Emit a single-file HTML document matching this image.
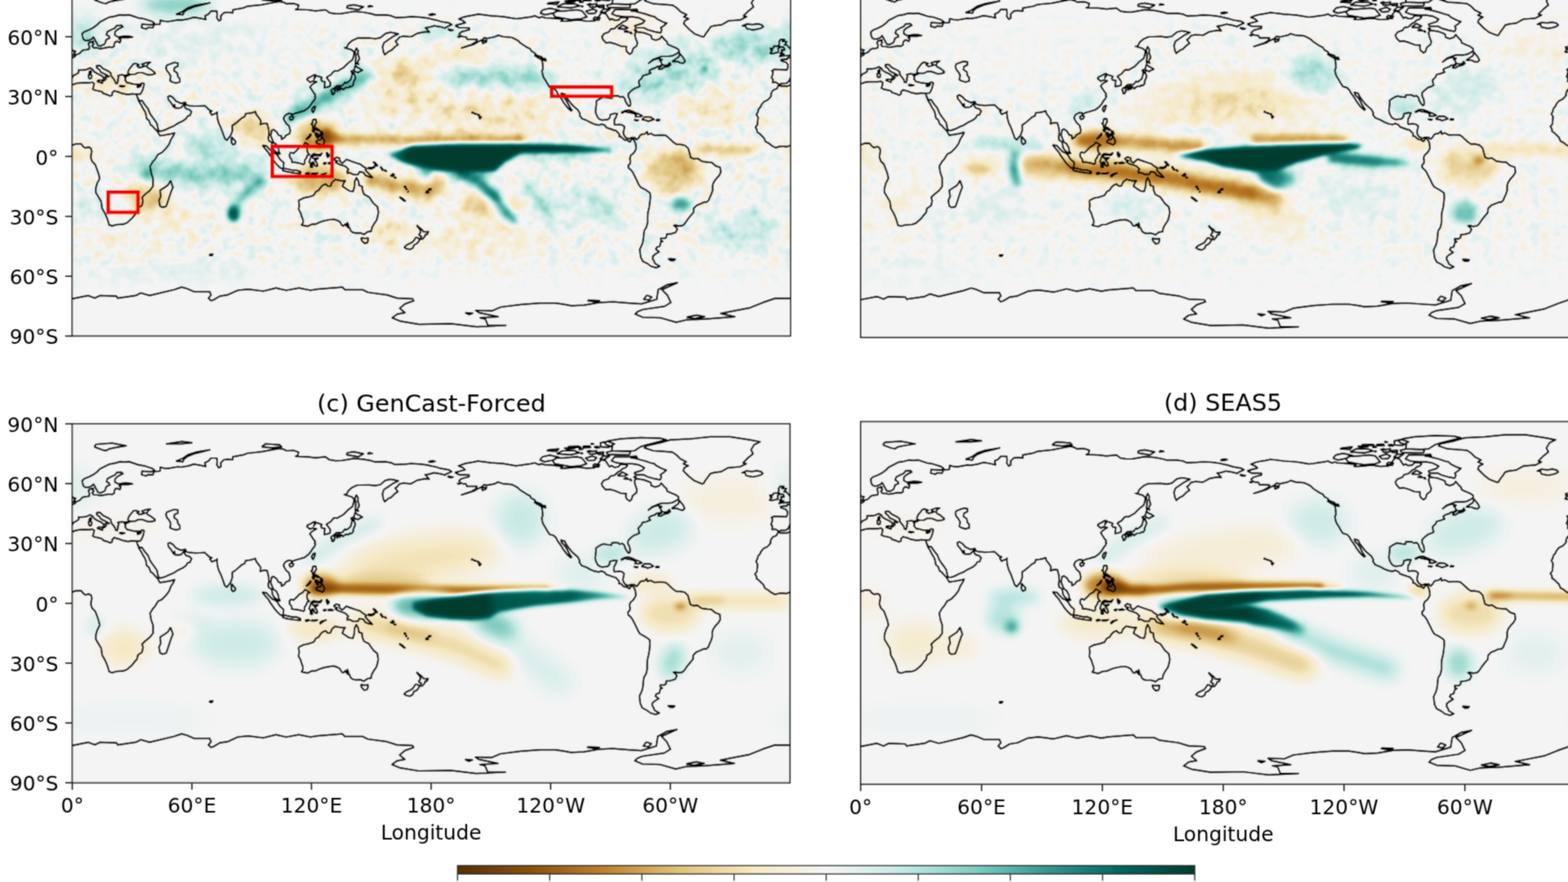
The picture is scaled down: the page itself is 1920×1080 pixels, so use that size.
<!DOCTYPE html>
<html><head><meta charset="utf-8"><style>
html,body{margin:0;padding:0;background:#fff;width:1920px;height:1080px;overflow:hidden}
svg{display:block;font-family:"DejaVu Sans","Liberation Sans",sans-serif;font-size:24.8px;fill:#000}
</style></head><body><div id="w">
<svg width="1920" height="1080" viewBox="0 0 1920 1080">
<defs><filter id="cm" x="0" y="0" width="1" height="1" color-interpolation-filters="sRGB"><feComponentTransfer><feFuncR type="table" tableValues="0.3294 0.5490 0.7490 0.8745 0.9647 0.9608 0.7804 0.5020 0.2078 0.0039 0.0000"/><feFuncG type="table" tableValues="0.1882 0.3176 0.5059 0.7608 0.9098 0.9608 0.9176 0.8039 0.5922 0.4000 0.2353"/><feFuncB type="table" tableValues="0.0196 0.0392 0.1765 0.4902 0.7647 0.9608 0.8980 0.7569 0.5608 0.3686 0.1882"/></feComponentTransfer></filter><filter id="nga" x="0" y="0" width="1" height="1" color-interpolation-filters="sRGB"><feTurbulence type="fractalNoise" baseFrequency="0.07" numOctaves="2" seed="7" result="t"/><feColorMatrix in="t" type="matrix" values="1.2 0 0 0 -0.1 1.2 0 0 0 -0.1 1.2 0 0 0 -0.1 0 0 0 0 0.2"/></filter><filter id="ngb" x="0" y="0" width="1" height="1" color-interpolation-filters="sRGB"><feTurbulence type="fractalNoise" baseFrequency="0.07" numOctaves="2" seed="11" result="t"/><feColorMatrix in="t" type="matrix" values="1.2 0 0 0 -0.1 1.2 0 0 0 -0.1 1.2 0 0 0 -0.1 0 0 0 0 0.12"/></filter><filter id="soft" filterUnits="userSpaceOnUse" x="0" y="0" width="1920" height="1080"><feConvolveMatrix order="3" kernelMatrix="1 2 1 2 8 2 1 2 1" divisor="20" edgeMode="duplicate"/></filter><filter id="b2" filterUnits="userSpaceOnUse" x="-50" y="-150" width="2100" height="1400" color-interpolation-filters="sRGB"><feGaussianBlur stdDeviation="2"/></filter><filter id="b2_5" filterUnits="userSpaceOnUse" x="-50" y="-150" width="2100" height="1400" color-interpolation-filters="sRGB"><feGaussianBlur stdDeviation="2.5"/></filter><filter id="b3" filterUnits="userSpaceOnUse" x="-50" y="-150" width="2100" height="1400" color-interpolation-filters="sRGB"><feGaussianBlur stdDeviation="3"/></filter><filter id="b3_5" filterUnits="userSpaceOnUse" x="-50" y="-150" width="2100" height="1400" color-interpolation-filters="sRGB"><feGaussianBlur stdDeviation="3.5"/></filter><filter id="b4" filterUnits="userSpaceOnUse" x="-50" y="-150" width="2100" height="1400" color-interpolation-filters="sRGB"><feGaussianBlur stdDeviation="4"/></filter><filter id="b5" filterUnits="userSpaceOnUse" x="-50" y="-150" width="2100" height="1400" color-interpolation-filters="sRGB"><feGaussianBlur stdDeviation="5"/></filter><filter id="b6" filterUnits="userSpaceOnUse" x="-50" y="-150" width="2100" height="1400" color-interpolation-filters="sRGB"><feGaussianBlur stdDeviation="6"/></filter><filter id="b7" filterUnits="userSpaceOnUse" x="-50" y="-150" width="2100" height="1400" color-interpolation-filters="sRGB"><feGaussianBlur stdDeviation="7"/></filter><filter id="b8" filterUnits="userSpaceOnUse" x="-50" y="-150" width="2100" height="1400" color-interpolation-filters="sRGB"><feGaussianBlur stdDeviation="8"/></filter><filter id="b9" filterUnits="userSpaceOnUse" x="-50" y="-150" width="2100" height="1400" color-interpolation-filters="sRGB"><feGaussianBlur stdDeviation="9"/></filter><filter id="b10" filterUnits="userSpaceOnUse" x="-50" y="-150" width="2100" height="1400" color-interpolation-filters="sRGB"><feGaussianBlur stdDeviation="10"/></filter><filter id="b12" filterUnits="userSpaceOnUse" x="-50" y="-150" width="2100" height="1400" color-interpolation-filters="sRGB"><feGaussianBlur stdDeviation="12"/></filter><filter id="b14" filterUnits="userSpaceOnUse" x="-50" y="-150" width="2100" height="1400" color-interpolation-filters="sRGB"><feGaussianBlur stdDeviation="14"/></filter><filter id="b15" filterUnits="userSpaceOnUse" x="-50" y="-150" width="2100" height="1400" color-interpolation-filters="sRGB"><feGaussianBlur stdDeviation="15"/></filter><filter id="b20" filterUnits="userSpaceOnUse" x="-50" y="-150" width="2100" height="1400" color-interpolation-filters="sRGB"><feGaussianBlur stdDeviation="20"/></filter></defs>
<rect width="1920" height="1080" fill="#fff"/>
<g filter="url(#soft)">
<clipPath id="clipa"><rect x="88.4" y="-28.3" width="879.5" height="439.7"/></clipPath>
<g clip-path="url(#clipa)">
<rect x="88.4" y="-28.3" width="879.5" height="439.7" fill="#f4f4f4"/>
<g filter="url(#cm)"><rect x="88.4" y="-28.3" width="879.5" height="439.7" fill="#808080"/><g filter="url(#b15)"><ellipse cx="235" cy="49.9" rx="97.7" ry="24.4" fill="#fff" fill-opacity="0.08"/></g><g filter="url(#b10)"><ellipse cx="100.6" cy="252.7" rx="19.5" ry="19.5" fill="#fff" fill-opacity="0.15"/><ellipse cx="980.1" cy="252.7" rx="19.5" ry="19.5" fill="#fff" fill-opacity="0.15"/><ellipse cx="210.6" cy="330.9" rx="109.9" ry="9.8" fill="#fff" fill-opacity="0.12"/><ellipse cx="1090" cy="330.9" rx="109.9" ry="9.8" fill="#fff" fill-opacity="0.12"/></g><g filter="url(#b12)"><ellipse cx="589.2" cy="294.2" rx="73.3" ry="24.4" fill="#000" fill-opacity="0.15"/><ellipse cx="161.7" cy="301.5" rx="61.1" ry="14.7" fill="#000" fill-opacity="0.10"/><ellipse cx="1041.2" cy="301.5" rx="61.1" ry="14.7" fill="#000" fill-opacity="0.10"/></g><g filter="url(#b14)"><ellipse cx="491.5" cy="106.1" rx="44" ry="36.6" fill="#000" fill-opacity="0.22"/><ellipse cx="601.4" cy="137.9" rx="85.5" ry="24.4" fill="#000" fill-opacity="0.25"/></g><g filter="url(#b10)"><ellipse cx="870.2" cy="130.5" rx="44" ry="19.5" fill="#000" fill-opacity="0.20"/><ellipse cx="772.4" cy="32.8" rx="36.6" ry="14.7" fill="#000" fill-opacity="0.12"/><ellipse cx="821.3" cy="89" rx="61.1" ry="29.3" fill="#fff" fill-opacity="0.30" transform="rotate(-15 821.3 89)"/></g><g filter="url(#b8)"><ellipse cx="39.5" cy="57.2" rx="44" ry="19.5" fill="#fff" fill-opacity="0.35"/><ellipse cx="919" cy="57.2" rx="44" ry="19.5" fill="#fff" fill-opacity="0.35"/></g><g filter="url(#b10)"><ellipse cx="100.6" cy="45" rx="24.4" ry="24.4" fill="#fff" fill-opacity="0.25"/><ellipse cx="980.1" cy="45" rx="24.4" ry="24.4" fill="#fff" fill-opacity="0.25"/><ellipse cx="27.3" cy="277.1" rx="44" ry="29.3" fill="#fff" fill-opacity="0.22"/><ellipse cx="906.8" cy="277.1" rx="44" ry="29.3" fill="#fff" fill-opacity="0.22"/><ellipse cx="210.6" cy="264.9" rx="34.2" ry="17.1" fill="#000" fill-opacity="0.15"/><ellipse cx="479.3" cy="289.3" rx="24.4" ry="17.1" fill="#000" fill-opacity="0.25"/></g><g filter="url(#b12)"><ellipse cx="699.1" cy="252.7" rx="61.1" ry="24.4" fill="#fff" fill-opacity="0.12"/></g><g filter="url(#b6)"><ellipse cx="557.5" cy="206.3" rx="48.9" ry="14.7" fill="#fff" fill-opacity="0.62"/></g><g filter="url(#b5)"><ellipse cx="674.7" cy="189.2" rx="44" ry="7.3" fill="#fff" fill-opacity="0.35"/></g><mask id="nma" maskUnits="userSpaceOnUse" x="88.4" y="-28.3" width="879.5" height="439.7"><rect x="-11.6" y="30.4" width="1079.5" height="302.9" fill="#fff" filter="url(#b20)"/><g filter="url(#b20)" fill="#000" fill-opacity="0.55"><ellipse cx="296.1" cy="64.6" rx="109.9" ry="29.3"/><ellipse cx="149.5" cy="137.9" rx="44" ry="19.5"/><ellipse cx="711.4" cy="57.2" rx="48.9" ry="24.4"/><ellipse cx="821.3" cy="15.7" rx="48.9" ry="14.7"/></g></mask><rect x="88.4" y="-28.3" width="879.5" height="439.7" filter="url(#nga)" mask="url(#nma)"/><g filter="url(#b8)"><ellipse cx="215.4" cy="5.9" rx="44" ry="9.8" fill="#fff" fill-opacity="0.45"/><ellipse cx="142.1" cy="103.7" rx="34.2" ry="12.2" fill="#000" fill-opacity="0.18"/><ellipse cx="1021.6" cy="103.7" rx="34.2" ry="12.2" fill="#000" fill-opacity="0.18"/></g><g filter="url(#b10)"><polyline points="357.1,142.7 386.4,125.6 418.2,108.5 447.5,93.9" fill="none" stroke="#fff" stroke-opacity="0.15" stroke-width="34.2" stroke-linecap="round" stroke-linejoin="round"/></g><g filter="url(#b5)"><polyline points="357.1,142.7 386.4,125.6 418.2,108.5 447.5,93.9" fill="none" stroke="#fff" stroke-opacity="0.45" stroke-width="14.7" stroke-linecap="round" stroke-linejoin="round"/></g><g filter="url(#b8)"><ellipse cx="493.9" cy="91.4" rx="19.5" ry="12.2" fill="#000" fill-opacity="0.20"/><ellipse cx="308.3" cy="157.4" rx="29.3" ry="17.1" fill="#000" fill-opacity="0.30"/><ellipse cx="259.4" cy="179.4" rx="36.6" ry="17.1" fill="#fff" fill-opacity="0.25"/><ellipse cx="100.6" cy="186.7" rx="19.5" ry="12.2" fill="#000" fill-opacity="0.15"/><ellipse cx="980.1" cy="186.7" rx="19.5" ry="12.2" fill="#000" fill-opacity="0.15"/><polyline points="552.6,93.9 601.4,93.9 662.5,98.8" fill="none" stroke="#fff" stroke-opacity="0.35" stroke-width="24.4" stroke-linecap="round" stroke-linejoin="round"/></g><g filter="url(#b6)"><ellipse cx="540.4" cy="40.1" rx="29.3" ry="7.3" fill="#fff" fill-opacity="0.20"/></g><g filter="url(#b8)"><ellipse cx="564.8" cy="69.4" rx="34.2" ry="12.2" fill="#000" fill-opacity="0.20"/></g><g filter="url(#b2)"><ellipse cx="862.8" cy="84.1" rx="3.7" ry="3.7" fill="#fff" fill-opacity="0.50"/></g><g filter="url(#b4)"><polyline points="857.9,181.8 919,184.3" fill="none" stroke="#000" stroke-opacity="0.45" stroke-width="9.8" stroke-linecap="round" stroke-linejoin="round"/></g><g filter="url(#b8)"><polyline points="173.9,206.3 235,216 308.3,211.1" fill="none" stroke="#fff" stroke-opacity="0.40" stroke-width="24.4" stroke-linecap="round" stroke-linejoin="round"/></g><g filter="url(#b4)"><ellipse cx="181.2" cy="218.5" rx="7.3" ry="9.8" fill="#fff" fill-opacity="0.45"/></g><g filter="url(#b7)"><ellipse cx="178.8" cy="240.5" rx="24.4" ry="19.5" fill="#000" fill-opacity="0.35"/></g><g filter="url(#b5)"><polyline points="320.5,220.9 296.1,240.5 283.8,260" fill="none" stroke="#fff" stroke-opacity="0.50" stroke-width="12.2" stroke-linecap="round" stroke-linejoin="round"/></g><g filter="url(#b3)"><ellipse cx="286.3" cy="262.4" rx="7.3" ry="9.8" fill="#fff" fill-opacity="0.85"/></g><g filter="url(#b7)"><ellipse cx="393.8" cy="220.9" rx="36.6" ry="17.1" fill="#000" fill-opacity="0.45"/></g><g filter="url(#b6)"><polyline points="454.9,220.9 491.5,228.2 528.1,235.6" fill="none" stroke="#000" stroke-opacity="0.50" stroke-width="19.5" stroke-linecap="round" stroke-linejoin="round"/></g><g filter="url(#b7)"><ellipse cx="826.2" cy="208.7" rx="34.2" ry="26.9" fill="#000" fill-opacity="0.35"/></g><g filter="url(#b5)"><ellipse cx="833.5" cy="203.8" rx="14.7" ry="12.2" fill="#000" fill-opacity="0.15"/></g><g filter="url(#b4)"><ellipse cx="833.5" cy="250.2" rx="12.2" ry="9.8" fill="#fff" fill-opacity="0.55"/></g><g filter="url(#b6)"><ellipse cx="894.6" cy="260" rx="19.5" ry="9.8" fill="#000" fill-opacity="0.15"/></g><g filter="url(#b5)"><ellipse cx="537.9" cy="220.9" rx="12.2" ry="12.2" fill="#000" fill-opacity="0.40"/></g><g filter="url(#b6)"><ellipse cx="581.9" cy="252.7" rx="19.5" ry="14.7" fill="#000" fill-opacity="0.35"/><ellipse cx="630.7" cy="250.2" rx="14.7" ry="9.8" fill="#000" fill-opacity="0.25"/><polyline points="645.4,228.2 674.7,264.9" fill="none" stroke="#fff" stroke-opacity="0.35" stroke-width="12.2" stroke-linecap="round" stroke-linejoin="round"/><polyline points="723.6,240.5 752.9,269.8" fill="none" stroke="#fff" stroke-opacity="0.30" stroke-width="12.2" stroke-linecap="round" stroke-linejoin="round"/><ellipse cx="388.9" cy="167.2" rx="26.9" ry="19.5" fill="#000" fill-opacity="0.50"/></g><g filter="url(#b3)"><ellipse cx="398.7" cy="167.2" rx="7.3" ry="8.6" fill="#000" fill-opacity="0.65"/></g><g filter="url(#b4)"><polyline points="406,169.6 479.3,170.8 577,170.8 638.1,170.8" fill="none" stroke="#000" stroke-opacity="0.55" stroke-width="11" stroke-linecap="round" stroke-linejoin="round"/><polyline points="564.8,208.7 589.2,225.8 606.3,240.5" fill="none" stroke="#fff" stroke-opacity="0.70" stroke-width="12.2" stroke-linecap="round" stroke-linejoin="round"/><polyline points="603.9,238 616.1,255.1 628.3,269.8" fill="none" stroke="#fff" stroke-opacity="0.75" stroke-width="9.8" stroke-linecap="round" stroke-linejoin="round"/></g><g filter="url(#b2_5)"><linearGradient id="g1" gradientUnits="userSpaceOnUse" x1="474.4" y1="0" x2="750.5" y2="0"><stop offset="0.000" stop-color="#fff" stop-opacity="0.60"/><stop offset="0.088" stop-color="#fff" stop-opacity="1.00"/><stop offset="0.814" stop-color="#fff" stop-opacity="1.00"/><stop offset="0.920" stop-color="#fff" stop-opacity="0.85"/><stop offset="1.000" stop-color="#fff" stop-opacity="0.50"/></linearGradient><polygon points="474.4,189.2 503.7,178.2 552.6,175.7 625.9,175.2 699.1,176.9 728.5,179.4 748,181.3 748,186.7 699.1,187.2 638.1,187.9 618.5,198.9 606.3,209.9 564.8,211.1 528.1,207.5 491.5,198.9" fill="url(#g1)"/></g></g>
<path d="M74.0 104.1L71.8 108.5L67.6 110.2L65.7 112.4L64.5 115.9L64.9 117.3L62.7 120.3L60.3 122.5L56.2 124.4L53.0 128.1L51.8 131.0L49.3 133.7L48.6 136.9L46.9 140.3L48.8 144.0L48.1 150.1L48.1 152.5L45.6 155.7L47.4 158.6L47.6 161.6L50.5 163.5L53.0 165.9L55.9 168.9L57.9 173.3L61.5 175.2L65.2 178.2L70.1 180.9L76.2 179.1L81.1 179.1L83.5 179.9L88.4 177.9L92.1 176.5L94.5 176.0L99.4 176.2L101.8 179.4L104.3 181.1L106.7 180.6L109.2 180.1L111.6 182.1L112.3 185.5L111.6 189.2L111.1 192.8L112.8 197.7L116.5 201.4L118.4 206.3L120.6 212.4L122.1 218.5L118.9 224.6L117.2 230.7L117.2 235.6L120.2 240.5L123.8 246.6L125.0 255.1L128.7 261.5L131.2 267.3L133.1 273.4L133.6 275.4L137.3 276.6L142.1 275.2L150.7 274.7L155.6 272.7L161.7 267.3L164.9 263.2L167.8 260.0L168.8 255.1L173.9 251.5L175.1 245.3L173.9 241.7L177.6 238.0L183.7 233.1L187.3 228.2L187.3 218.5L184.9 211.1L184.4 207.5L183.7 203.8L187.3 197.7L189.8 195.3L193.4 189.2L198.3 186.7L203.2 181.8L206.9 176.9L209.3 170.8L212.5 165.9L213.7 162.8L208.1 164.2L200.8 165.5L195.9 166.2L194.2 163.5L193.0 161.1L189.8 157.9L186.1 153.7L184.4 153.0L182.5 147.6L179.5 145.2L178.8 140.3L177.6 136.6L175.1 133.0L172.7 128.1L170.2 124.4L168.0 118.6L167.3 115.4L161.7 114.9L156.8 115.9L149.5 114.4L145.8 112.9L139.7 111.2L137.3 113.7L137.3 116.4L134.8 117.6L131.2 115.9L126.3 114.4L125.0 112.4L120.2 111.2L115.8 110.2L113.6 109.0L114.5 106.1L115.3 102.4L112.8 100.7L109.2 101.5L104.3 101.2L98.2 101.5L93.3 102.2L88.4 103.9L84.7 105.6L81.1 105.4L76.2 105.4L74.0 104.1M953.5 104.1L951.3 108.5L947.1 110.2L945.2 112.4L943.9 115.9L944.4 117.3L942.2 120.3L939.8 122.5L935.6 124.4L932.5 128.1L931.2 131.0L928.8 133.7L928.1 136.9L926.3 140.3L928.3 144.0L927.6 150.1L927.6 152.5L925.1 155.7L926.8 158.6L927.1 161.6L930.0 163.5L932.5 165.9L935.4 168.9L937.3 173.3L941.0 175.2L944.7 178.2L949.6 180.9L955.7 179.1L960.6 179.1L963.0 179.9L967.9 177.9L971.5 176.5L974.0 176.0L978.9 176.2L981.3 179.4L983.8 181.1L986.2 180.6L988.6 180.1L991.1 182.1L991.8 185.5L991.1 189.2L990.6 192.8L992.3 197.7L996.0 201.4L997.9 206.3L1000.1 212.4L1001.6 218.5L998.4 224.6L996.7 230.7L996.7 235.6L999.6 240.5L1003.3 246.6L1004.5 255.1L1008.2 261.5L1010.6 267.3L1012.6 273.4L1013.1 275.4L1016.7 276.6L1021.6 275.2L1030.2 274.7L1035.1 272.7L1041.2 267.3L1044.3 263.2L1047.3 260.0L1048.3 255.1L1053.4 251.5L1054.6 245.3L1053.4 241.7L1057.0 238.0L1063.2 233.1L1066.8 228.2L1066.8 218.5L1064.4 211.1L1063.9 207.5L1063.2 203.8L1066.8 197.7L1069.3 195.3L1072.9 189.2L1077.8 186.7L1082.7 181.8L1086.4 176.9L1088.8 170.8L1092.0 165.9L1093.2 162.8L1087.6 164.2L1080.3 165.5L1075.4 166.2L1073.7 163.5L1072.4 161.1L1069.3 157.9L1065.6 153.7L1063.9 153.0L1061.9 147.6L1059.0 145.2L1058.3 140.3L1057.0 136.6L1054.6 133.0L1052.2 128.1L1049.7 124.4L1047.5 118.6L1046.8 115.4L1041.2 114.9L1036.3 115.9L1029.0 114.4L1025.3 112.9L1019.2 111.2L1016.7 113.7L1016.7 116.4L1014.3 117.6L1010.6 115.9L1005.7 114.4L1004.5 112.4L999.6 111.2L995.2 110.2L993.0 109.0L994.0 106.1L994.8 102.4L992.3 100.7L988.6 101.5L983.8 101.2L977.7 101.5L972.8 102.2L967.9 103.9L964.2 105.6L960.6 105.4L955.7 105.4L953.5 104.1M167.3 115.4L172.0 115.1L173.7 112.2L175.1 108.8L176.1 104.9L176.3 102.4L173.9 101.7L171.5 103.2L167.8 103.4L162.9 102.9L159.2 101.9L155.6 101.2L153.1 98.0L153.9 95.1L152.4 93.9L155.6 93.1L159.2 91.4L156.8 91.4L153.1 92.4L149.5 91.7L146.3 92.2L144.3 92.7L145.3 95.1L144.1 97.5L144.6 98.8L143.4 102.4L141.4 101.7L140.9 99.3L139.9 98.0L139.0 96.3L137.3 94.6L135.8 91.7L135.8 89.5L133.6 87.8L129.9 85.8L126.3 84.1L123.8 81.7L121.9 80.2L118.4 80.7L118.4 82.9L121.6 85.3L123.8 88.5L127.5 90.2L129.9 91.4L133.6 93.6L132.4 94.1L130.2 92.7L128.7 94.4L130.2 96.3L127.7 98.8L126.5 98.3L127.0 95.1L125.0 93.1L122.6 91.7L118.9 90.0L115.3 87.8L113.6 85.1L110.4 83.1L107.9 84.4L105.5 85.3L100.6 85.8L96.2 85.8L96.2 89.0L93.3 90.9L90.4 92.2L88.4 95.1L87.2 98.0L86.4 99.7L83.5 101.9L77.4 102.2L74.7 103.7L73.0 102.2L70.3 100.7L66.7 101.2L66.9 97.1L65.2 95.1L66.7 91.4L66.9 87.8L65.7 86.6L68.9 84.8L74.5 85.1L79.8 85.3L84.0 85.6L85.2 82.9L85.5 79.2L83.0 76.3L77.4 74.6L76.9 73.1L81.1 72.4L84.5 72.6L85.2 70.4L88.9 70.7L92.1 69.0L93.0 67.0L95.7 66.3L98.2 64.8L100.1 62.4L102.6 61.1L105.5 60.9L109.2 60.2L109.4 57.2L108.2 53.6L109.2 52.1L114.3 50.6L113.6 52.8L114.8 54.1L112.8 56.3L114.8 58.7L118.9 58.7L122.6 59.7L127.5 58.9L133.6 57.7L137.0 58.2L139.9 56.5L139.9 53.6L141.2 51.4L143.4 50.6L146.8 52.3L148.0 49.2L145.8 47.7L148.7 46.2L156.8 46.2L162.2 45.3L159.2 44.5L153.1 44.0L144.6 45.3L140.7 43.1L140.9 38.9L144.6 35.7L150.5 32.8L148.5 30.9L142.9 31.3L140.4 34.5L136.0 36.5L131.4 38.9L130.4 42.6L133.6 44.5L134.3 46.5L129.9 48.7L129.0 52.3L127.5 54.3L123.3 56.3L119.9 55.8L119.2 54.1L117.2 50.6L115.8 47.5L114.3 45.5L112.8 47.5L107.9 49.7L104.5 49.7L102.1 48.0L101.1 45.0L100.6 41.4L103.1 38.9L109.2 36.5L114.1 34.0L118.9 30.4L122.6 26.7L127.5 24.3L133.6 21.1L139.7 20.1L147.0 18.1L151.9 18.6L158.0 18.1L164.1 20.1L169.0 21.8L176.3 23.0L186.1 26.2L189.1 28.4L186.1 30.4L181.2 30.1L173.9 29.6L173.4 34.0L178.8 35.5L181.2 33.8L187.3 34.0L188.6 30.1L195.9 29.6L196.4 24.7L200.8 26.0L205.7 26.5L217.9 24.3L221.5 24.7L230.1 23.3L237.4 21.1L244.8 22.3L252.1 24.0L250.9 19.4L255.7 16.9L258.2 13.7L265.5 13.7L266.0 18.1L265.5 21.8L268.0 25.5L270.4 24.3L270.4 19.4L274.1 15.7L279.0 15.0L285.1 15.7L285.1 12.0L298.5 9.6L302.2 7.9L308.3 7.2L320.5 5.9L332.7 3.5L342.5 1.8L347.4 2.8L351.0 4.7L359.6 4.2L365.7 6.4L364.5 10.8L362.0 11.6L376.7 12.0L386.4 13.3L398.7 12.0L403.5 15.7L410.9 16.9L418.2 16.7L428.0 15.0L432.9 14.0L445.1 15.0L454.9 16.9L459.7 18.4L472.0 18.1L479.3 19.4L484.2 21.6L496.4 21.1L503.7 20.3L515.9 21.1L524.5 22.3L528.1 23.3L533.0 24.3L540.4 26.5L550.1 28.2L553.3 30.1L550.1 31.6L546.5 33.3L545.2 34.5L539.1 32.8L531.8 31.6L525.7 33.3L520.8 34.0L524.5 37.7L525.7 39.4L520.8 38.9L511.0 40.9L503.7 45.0L493.9 44.3L489.1 45.5L486.6 48.7L484.2 50.4L487.3 54.8L483.7 57.2L479.3 61.6L475.6 63.3L471.2 67.0L469.5 63.3L468.5 57.2L470.2 52.3L475.6 48.7L481.7 44.5L487.8 41.6L481.7 40.1L477.8 39.6L472.0 41.1L465.8 46.2L459.7 47.5L452.4 46.5L442.6 46.7L437.7 46.7L431.6 49.4L426.8 53.6L424.3 58.5L421.9 58.5L430.4 60.9L433.8 63.8L432.9 69.4L431.6 73.1L426.8 76.8L420.6 82.9L413.3 87.0L409.7 86.8L407.7 88.3L405.3 91.4L401.1 93.9L399.9 95.1L402.3 98.0L404.5 101.2L404.3 105.4L401.1 106.6L397.2 107.3L397.4 103.7L397.9 100.0L394.5 99.5L393.0 97.5L394.3 95.1L392.1 94.1L387.2 92.7L384.5 96.8L385.2 94.4L386.4 91.7L384.0 91.9L380.3 94.1L376.7 95.8L375.9 97.5L378.9 100.0L379.4 100.7L383.3 99.3L387.7 100.2L384.7 101.9L381.6 104.1L379.6 106.6L382.5 111.0L384.0 113.4L386.2 115.9L385.5 117.8L386.4 118.8L385.2 122.0L383.3 124.2L380.8 128.1L377.9 131.7L373.0 135.4L367.4 137.1L362.0 138.6L357.9 140.3L357.6 142.0L356.6 139.1L353.5 138.8L349.8 140.8L348.6 142.0L347.1 145.2L348.3 147.6L350.5 151.3L354.0 154.2L355.4 159.8L354.7 163.5L349.8 165.9L348.6 168.4L344.9 170.6L344.4 166.4L341.3 165.7L338.8 161.6L334.9 158.6L332.7 159.8L331.5 165.9L333.4 170.8L335.1 174.7L338.1 176.5L341.0 181.8L341.3 185.2L343.0 188.2L341.3 188.4L337.6 185.7L335.9 184.3L333.7 180.6L333.4 178.2L332.7 174.5L329.0 172.1L328.5 168.4L329.3 164.7L329.0 158.6L327.1 151.3L322.9 151.0L318.8 152.5L319.3 147.6L316.8 144.0L313.9 140.3L312.7 136.6L309.5 137.9L305.8 138.6L300.9 139.1L299.7 142.7L296.1 144.5L291.2 148.8L287.5 151.8L284.3 153.7L284.6 159.8L283.4 163.5L282.1 166.4L277.7 171.8L275.3 169.6L272.8 162.8L270.4 156.2L268.0 151.3L266.3 145.2L265.8 139.3L266.0 137.4L264.8 138.6L259.4 140.8L257.0 137.1L259.4 135.9L255.7 134.2L252.6 131.0L250.9 129.5L244.8 129.8L238.6 130.0L232.5 129.5L228.4 128.6L226.9 125.4L221.5 126.6L215.4 123.7L211.8 119.5L208.1 117.3L205.7 118.3L206.2 122.0L209.3 125.6L211.0 128.1L212.5 131.0L213.7 128.1L214.5 132.2L217.9 132.5L221.5 132.0L224.0 129.3L225.9 127.3L226.2 131.0L228.1 133.2L232.0 134.2L234.5 136.9L232.5 141.5L230.1 141.8L227.7 145.4L224.0 148.1L217.9 151.0L213.0 154.2L208.1 156.2L203.2 158.6L198.3 160.3L194.7 160.6L193.4 157.4L192.7 153.7L192.2 151.3L189.8 147.6L186.1 142.7L183.7 139.1L181.2 133.0L177.6 128.6L173.9 123.2L172.7 123.2L171.5 123.4L170.2 122.7L168.0 118.6M1046.8 115.4L1051.4 115.1L1053.1 112.2L1054.6 108.8L1055.6 104.9L1055.8 102.4L1053.4 101.7L1050.9 103.2L1047.3 103.4L1042.4 102.9L1038.7 101.9L1035.1 101.2L1032.6 98.0L1033.4 95.1L1031.9 93.9L1035.1 93.1L1038.7 91.4L1036.3 91.4L1032.6 92.4L1029.0 91.7L1025.8 92.2L1023.8 92.7L1024.8 95.1L1023.6 97.5L1024.1 98.8L1022.8 102.4L1020.9 101.7L1020.4 99.3L1019.4 98.0L1018.5 96.3L1016.7 94.6L1015.3 91.7L1015.3 89.5L1013.1 87.8L1009.4 85.8L1005.7 84.1L1003.3 81.7L1001.3 80.2L997.9 80.7L997.9 82.9L1001.1 85.3L1003.3 88.5L1007.0 90.2L1009.4 91.4L1013.1 93.6L1011.9 94.1L1009.7 92.7L1008.2 94.4L1009.7 96.3L1007.2 98.8L1006.0 98.3L1006.5 95.1L1004.5 93.1L1002.1 91.7L998.4 90.0L994.8 87.8L993.0 85.1L989.9 83.1L987.4 84.4L985.0 85.3L980.1 85.8L975.7 85.8L975.7 89.0L972.8 90.9L969.8 92.2L967.9 95.1L966.7 98.0L965.9 99.7L963.0 101.9L956.9 102.2L954.2 103.7L952.5 102.2L949.8 100.7L946.1 101.2L946.4 97.1L944.7 95.1L946.1 91.4L946.4 87.8L945.2 86.6L948.3 84.8L954.0 85.1L959.3 85.3L963.5 85.6L964.7 82.9L964.9 79.2L962.5 76.3L956.9 74.6L956.4 73.1L960.6 72.4L964.0 72.6L964.7 70.4L968.4 70.7L971.5 69.0L972.5 67.0L975.2 66.3L977.7 64.8L979.6 62.4L982.0 61.1L985.0 60.9L988.6 60.2L988.9 57.2L987.7 53.6L988.6 52.1L993.8 50.6L993.0 52.8L994.3 54.1L992.3 56.3L994.3 58.7L998.4 58.7L1002.1 59.7L1007.0 58.9L1013.1 57.7L1016.5 58.2L1019.4 56.5L1019.4 53.6L1020.6 51.4L1022.8 50.6L1026.3 52.3L1027.5 49.2L1025.3 47.7L1028.2 46.2L1036.3 46.2L1041.7 45.3L1038.7 44.5L1032.6 44.0L1024.1 45.3L1020.2 43.1L1020.4 38.9L1024.1 35.7L1029.9 32.8L1028.0 30.9L1022.4 31.3L1019.9 34.5L1015.5 36.5L1010.9 38.9L1009.9 42.6L1013.1 44.5L1013.8 46.5L1009.4 48.7L1008.4 52.3L1007.0 54.3L1002.8 56.3L999.4 55.8L998.7 54.1L996.7 50.6L995.2 47.5L993.8 45.5L992.3 47.5L987.4 49.7L984.0 49.7L981.6 48.0L980.6 45.0L980.1 41.4L982.5 38.9L988.6 36.5L993.5 34.0L998.4 30.4L1002.1 26.7L1007.0 24.3L1013.1 21.1L1019.2 20.1L1026.5 18.1L1031.4 18.6L1037.5 18.1L1043.6 20.1L1048.5 21.8L1055.8 23.0L1065.6 26.2L1068.5 28.4L1065.6 30.4L1060.7 30.1L1053.4 29.6L1052.9 34.0L1058.3 35.5L1060.7 33.8L1066.8 34.0L1068.0 30.1L1075.4 29.6L1075.9 24.7L1080.3 26.0L1085.1 26.5L1097.4 24.3L1101.0 24.7L1109.6 23.3L1116.9 21.1L1124.2 22.3L1131.6 24.0L1130.3 19.4L1135.2 16.9L1137.7 13.7L1145.0 13.7L1145.5 18.1L1145.0 21.8L1147.4 25.5L1149.9 24.3L1149.9 19.4L1153.5 15.7L1158.4 15.0L1164.5 15.7L1164.5 12.0L1178.0 9.6L1181.6 7.9L1187.8 7.2L1200.0 5.9L1212.2 3.5L1222.0 1.8L1226.8 2.8L1230.5 4.7L1239.1 4.2L1245.2 6.4L1243.9 10.8L1241.5 11.6L1256.2 12.0L1265.9 13.3L1278.1 12.0L1283.0 15.7L1290.4 16.9L1297.7 16.7L1307.5 15.0L1312.3 14.0L1324.6 15.0L1334.3 16.9L1339.2 18.4L1351.4 18.1L1358.8 19.4L1363.6 21.6L1375.9 21.1L1383.2 20.3L1395.4 21.1L1404.0 22.3L1407.6 23.3L1412.5 24.3L1419.8 26.5L1429.6 28.2L1432.8 30.1L1429.6 31.6L1425.9 33.3L1424.7 34.5L1418.6 32.8L1411.3 31.6L1405.2 33.3L1400.3 34.0L1404.0 37.7L1405.2 39.4L1400.3 38.9L1390.5 40.9L1383.2 45.0L1373.4 44.3L1368.5 45.5L1366.1 48.7L1363.6 50.4L1366.8 54.8L1363.2 57.2L1358.8 61.6L1355.1 63.3L1350.7 67.0L1349.0 63.3L1348.0 57.2L1349.7 52.3L1355.1 48.7L1361.2 44.5L1367.3 41.6L1361.2 40.1L1357.3 39.6L1351.4 41.1L1345.3 46.2L1339.2 47.5L1331.9 46.5L1322.1 46.7L1317.2 46.7L1311.1 49.4L1306.2 53.6L1303.8 58.5L1301.3 58.5L1309.9 60.9L1313.3 63.8L1312.3 69.4L1311.1 73.1L1306.2 76.8L1300.1 82.9L1292.8 87.0L1289.1 86.8L1287.2 88.3L1284.7 91.4L1280.6 93.9L1279.4 95.1L1281.8 98.0L1284.0 101.2L1283.8 105.4L1280.6 106.6L1276.7 107.3L1276.9 103.7L1277.4 100.0L1274.0 99.5L1272.5 97.5L1273.7 95.1L1271.5 94.1L1266.7 92.7L1264.0 96.8L1264.7 94.4L1265.9 91.7L1263.5 91.9L1259.8 94.1L1256.2 95.8L1255.4 97.5L1258.4 100.0L1258.8 100.7L1262.8 99.3L1267.1 100.2L1264.2 101.9L1261.0 104.1L1259.1 106.6L1262.0 111.0L1263.5 113.4L1265.7 115.9L1264.9 117.8L1265.9 118.8L1264.7 122.0L1262.8 124.2L1260.3 128.1L1257.4 131.7L1252.5 135.4L1246.9 137.1L1241.5 138.6L1237.3 140.3L1237.1 142.0L1236.1 139.1L1232.9 138.8L1229.3 140.8L1228.1 142.0L1226.6 145.2L1227.8 147.6L1230.0 151.3L1233.4 154.2L1234.9 159.8L1234.2 163.5L1229.3 165.9L1228.1 168.4L1224.4 170.6L1223.9 166.4L1220.7 165.7L1218.3 161.6L1214.4 158.6L1212.2 159.8L1211.0 165.9L1212.9 170.8L1214.6 174.7L1217.6 176.5L1220.5 181.8L1220.7 185.2L1222.4 188.2L1220.7 188.4L1217.1 185.7L1215.4 184.3L1213.2 180.6L1212.9 178.2L1212.2 174.5L1208.5 172.1L1208.0 168.4L1208.8 164.7L1208.5 158.6L1206.6 151.3L1202.4 151.0L1198.3 152.5L1198.7 147.6L1196.3 144.0L1193.4 140.3L1192.1 136.6L1189.0 137.9L1185.3 138.6L1180.4 139.1L1179.2 142.7L1175.5 144.5L1170.6 148.8L1167.0 151.8L1163.8 153.7L1164.1 159.8L1162.8 163.5L1161.6 166.4L1157.2 171.8L1154.8 169.6L1152.3 162.8L1149.9 156.2L1147.4 151.3L1145.7 145.2L1145.2 139.3L1145.5 137.4L1144.3 138.6L1138.9 140.8L1136.4 137.1L1138.9 135.9L1135.2 134.2L1132.0 131.0L1130.3 129.5L1124.2 129.8L1118.1 130.0L1112.0 129.5L1107.9 128.6L1106.4 125.4L1101.0 126.6L1094.9 123.7L1091.3 119.5L1087.6 117.3L1085.1 118.3L1085.6 122.0L1088.8 125.6L1090.5 128.1L1092.0 131.0L1093.2 128.1L1093.9 132.2L1097.4 132.5L1101.0 132.0L1103.5 129.3L1105.4 127.3L1105.7 131.0L1107.6 133.2L1111.5 134.2L1114.0 136.9L1112.0 141.5L1109.6 141.8L1107.1 145.4L1103.5 148.1L1097.4 151.0L1092.5 154.2L1087.6 156.2L1082.7 158.6L1077.8 160.3L1074.2 160.6L1072.9 157.4L1072.2 153.7L1071.7 151.3L1069.3 147.6L1065.6 142.7L1063.2 139.1L1060.7 133.0L1057.0 128.6L1053.4 123.2L1052.2 123.2L1050.9 123.4L1049.7 122.7L1047.5 118.6M159.2 91.2L156.8 89.7L156.8 87.8L158.3 84.6L161.0 81.2L163.4 78.2L166.1 77.8L170.2 79.2L167.8 80.7L170.5 82.9L173.9 82.2L177.6 80.9L175.1 80.4L173.9 78.5L180.0 76.5L184.2 76.3L181.7 77.8L180.5 79.7L179.5 81.2L181.2 83.1L184.9 85.1L189.8 89.0L189.8 90.2L186.1 91.4L181.2 91.7L176.3 89.7L174.1 89.0L169.0 89.0L165.4 90.9L159.2 91.2M208.6 78.2L213.5 76.5L217.9 77.3L217.9 80.9L213.7 82.9L213.0 86.6L217.1 89.5L217.9 93.9L220.1 96.3L220.1 100.5L215.4 101.7L210.6 100.2L208.1 98.8L209.1 93.4L206.9 89.5L204.4 86.6L203.2 82.9L204.2 80.0L208.6 78.2M74.5 69.4L78.6 68.5L84.7 68.0L89.6 67.5L91.8 66.3L90.8 65.1L92.6 62.9L89.1 62.1L88.6 60.9L87.2 58.5L84.7 56.0L83.5 54.8L81.1 54.8L82.3 53.6L84.0 51.1L81.1 50.6L78.6 50.9L81.1 48.4L76.2 48.4L74.5 51.1L75.0 53.6L73.7 56.0L76.4 57.2L76.2 58.0L79.8 57.7L80.6 59.2L81.3 60.4L81.1 61.4L77.4 61.1L77.9 62.6L78.1 64.1L75.7 65.1L78.1 65.5L80.6 66.0L78.1 66.5L76.2 67.7L74.5 69.4M954.0 69.4L958.1 68.5L964.2 68.0L969.1 67.5L971.3 66.3L970.3 65.1L972.0 62.9L968.6 62.1L968.1 60.9L966.7 58.5L964.2 56.0L963.0 54.8L960.6 54.8L961.8 53.6L963.5 51.1L960.6 50.6L958.1 50.9L960.6 48.4L955.7 48.4L954.0 51.1L954.4 53.6L953.2 56.0L955.9 57.2L955.7 58.0L959.3 57.7L960.1 59.2L960.8 60.4L960.6 61.4L956.9 61.1L957.4 62.6L957.6 64.1L955.2 65.1L957.6 65.5L960.1 66.0L957.6 66.5L955.7 67.7L954.0 69.4M953.2 64.1L953.0 61.4L952.7 59.7L954.4 58.5L953.2 56.7L950.0 56.5L947.6 56.7L946.9 58.9L943.5 59.2L943.9 61.1L945.9 61.6L943.7 64.1L943.0 65.1L944.7 65.8L948.3 65.1L952.2 64.1L953.2 64.1M914.1 35.2L912.9 31.6L909.2 31.6L914.1 29.4L921.5 30.1L927.6 29.1L932.5 30.4L934.7 32.6L932.5 34.3L927.6 35.7L922.2 36.7L916.6 35.5L914.1 35.2M118.7 99.3L120.9 98.3L126.5 98.0L125.3 100.5L125.3 101.9L123.3 101.2L119.2 99.7L118.7 99.3M108.9 96.3L108.4 91.7L110.9 90.9L112.3 92.7L111.9 95.8L110.4 96.3L108.9 96.3M109.4 90.5L109.4 88.0L111.4 86.6L111.6 88.7L110.9 90.5L109.4 90.5M145.8 105.4L148.3 104.9L152.7 105.6L149.0 106.3L145.8 105.4M167.3 106.1L169.0 105.1L172.9 104.4L171.5 106.1L169.0 107.1L167.3 106.1M283.6 167.7L286.3 170.8L288.5 173.3L288.0 176.0L285.3 177.2L283.6 175.0L283.4 172.1L283.6 167.7M208.8 220.9L211.8 229.5L210.1 233.1L207.6 240.5L204.4 250.2L203.2 252.9L198.8 253.9L195.9 252.2L194.7 245.3L196.9 240.5L195.9 233.1L200.8 230.0L205.2 227.0L206.9 224.6L208.8 220.9M408.2 108.5L412.1 105.1L414.5 104.9L419.4 104.6L422.6 100.7L423.8 101.7L426.8 100.0L429.4 97.5L430.4 94.4L431.2 90.9L433.8 90.5L434.6 92.7L435.3 94.9L434.1 98.0L432.9 100.7L432.6 103.9L430.9 105.9L429.9 106.1L428.5 105.6L427.5 107.1L423.6 107.1L422.6 107.8L420.2 109.8L418.4 107.8L415.8 107.1L412.1 107.8L408.9 108.8L408.2 108.5M430.4 90.2L431.2 87.8L429.9 87.3L433.6 85.8L434.3 82.9L435.1 80.4L437.7 82.6L441.4 84.4L443.4 85.8L443.9 86.1L439.7 88.0L438.2 89.0L434.8 87.5L432.6 89.5L430.4 90.2M405.5 110.2L407.2 108.8L408.4 108.8L410.1 110.5L409.9 113.4L408.9 114.9L407.7 115.9L406.5 114.9L406.7 112.9L405.5 111.7L405.5 110.2M412.1 111.0L413.1 108.5L415.8 107.6L417.5 108.3L416.5 110.2L414.1 110.0L413.1 111.5L412.1 111.0M435.3 79.2L435.1 75.6L435.8 71.9L435.8 67.0L434.6 63.3L436.5 58.9L438.5 62.1L438.2 65.8L440.2 71.9L437.7 76.3L439.0 78.7L436.5 77.3L435.3 79.2M384.0 130.5L386.2 130.3L385.2 134.2L383.5 137.9L382.0 135.9L381.8 133.9L384.0 130.5M354.0 144.7L355.9 147.1L358.4 146.2L359.6 143.5L358.4 142.5L355.2 143.0L354.0 144.7M383.0 146.4L385.2 146.2L386.9 146.4L387.4 150.1L385.5 153.2L385.5 156.9L387.7 156.9L391.6 159.8L388.9 159.8L385.2 157.6L383.0 156.7L383.0 154.0L381.1 151.8L382.5 151.3L383.0 146.4M386.4 174.5L388.6 171.8L391.8 171.6L394.8 167.7L397.4 173.3L396.7 176.2L394.8 177.9L391.3 176.5L386.4 174.5M392.1 161.1L394.5 161.6L395.5 164.5L393.5 163.7L392.1 161.1M392.1 163.5L393.8 164.0L394.3 166.9L392.8 166.7L392.1 163.5M386.2 162.5L388.6 163.5L387.7 165.7L386.2 165.7L386.2 162.5M388.6 165.0L390.1 165.2L389.4 169.4L387.4 167.7L388.6 165.0M391.1 164.2L391.6 165.9L389.9 168.4L390.4 166.2L391.1 164.2M374.7 171.1L377.9 168.9L380.6 165.9L380.3 164.0L378.6 166.4L376.2 169.1L374.7 171.1M382.3 158.6L385.2 159.4L384.5 161.8L383.0 161.1L382.3 158.6M321.2 177.9L326.6 178.9L329.0 181.8L333.7 186.5L336.4 187.4L340.0 190.4L342.0 194.0L343.7 196.0L347.4 199.2L346.9 205.8L343.7 206.0L340.0 202.6L336.4 198.4L333.4 194.0L330.7 190.4L329.0 187.2L325.4 183.0L321.2 177.9M345.4 208.2L347.4 206.0L352.2 207.0L358.4 208.5L363.2 208.5L368.1 210.4L367.9 212.6L360.8 211.9L353.5 210.7L348.6 209.7L345.4 208.2M354.7 187.9L356.4 186.7L359.6 187.7L363.2 184.3L366.7 180.6L370.6 178.7L373.7 174.7L375.9 176.0L379.6 178.4L376.7 179.6L375.9 183.0L376.7 186.7L378.9 189.2L376.2 190.4L375.5 192.8L373.0 196.5L373.0 200.2L371.5 201.4L368.1 200.2L364.5 199.4L361.3 198.9L357.6 198.7L357.1 195.3L354.7 192.3L354.7 187.9M380.1 205.0L380.3 200.2L378.6 198.2L380.1 194.0L380.8 191.6L381.8 189.9L384.0 188.4L387.7 189.2L391.3 189.4L394.3 187.7L392.3 190.6L388.9 190.4L385.2 190.4L382.0 191.1L383.5 194.0L386.4 193.8L389.6 193.6L387.7 195.3L385.2 196.0L387.7 198.9L388.9 202.6L387.7 203.8L385.2 202.6L384.0 198.9L382.3 198.7L382.5 205.0L380.1 205.0M408.4 194.8L412.1 192.6L415.8 193.8L416.3 197.7L419.4 199.7L424.3 195.3L430.4 197.5L435.3 199.2L441.4 201.1L444.6 203.8L448.7 206.3L447.5 208.2L450.0 211.1L453.6 214.8L456.1 217.3L452.4 216.8L447.5 214.8L445.1 211.1L440.2 210.4L438.5 213.6L432.9 213.8L428.0 211.4L425.5 212.1L425.0 209.7L426.8 207.5L423.1 203.8L418.2 202.1L414.5 200.9L410.9 198.7L413.3 197.0L410.9 196.5L408.4 194.8M391.3 216.0L393.8 213.6L399.4 212.1L396.2 213.6L392.6 216.5L391.3 216.0M381.1 212.4L385.2 212.4L388.9 211.9L386.4 213.1L381.6 213.1L381.1 212.4M373.7 212.6L376.7 211.6L379.1 212.4L375.5 213.6L373.7 212.6M401.1 199.7L406.0 198.9L407.9 200.2L402.3 200.4L401.1 199.7M400.4 186.2L401.6 188.7L402.8 189.2L400.9 190.6L403.1 190.9L401.3 192.6L400.1 190.4L399.9 187.9L400.4 186.2M396.2 199.4L399.1 199.4L398.2 200.9L396.2 200.4L396.2 199.4M450.7 205.0L453.6 205.0L456.1 205.0L458.5 203.6L460.2 201.9L458.5 205.0L454.9 206.7L451.2 206.3L450.7 205.0M456.8 198.0L459.7 199.4L462.2 202.6L461.7 203.1L458.5 200.2L456.8 198.0M466.1 203.8L469.3 208.2L468.3 208.5L466.1 205.0L466.1 203.8M478.3 214.3L481.2 215.5L480.5 215.8L478.5 215.1L478.3 214.3M480.7 212.1L482.7 214.1L482.0 214.6L480.7 213.1L480.7 212.1M482.7 216.5L484.9 217.7L484.2 218.0L482.7 217.3L482.7 216.5M470.7 207.7L473.2 209.4L472.7 209.7L470.7 208.5L470.7 207.7M495.4 227.5L496.9 228.7L496.6 229.7L495.4 229.2L495.4 227.5M496.9 230.7L498.3 231.7L497.6 232.2L496.9 230.7M499.1 234.4L500.0 234.6L499.6 235.1L499.1 234.4M489.1 240.9L492.7 242.9L496.4 246.1L494.9 246.1L490.3 242.4L489.1 240.9M521.5 234.6L523.7 234.1L524.7 235.8L522.0 236.1L521.5 234.6M524.5 231.7L527.9 231.4L526.7 232.6L524.7 232.6L524.5 231.7M587.0 142.3L589.2 143.5L587.7 145.4L586.8 144.0L587.0 142.3M577.0 137.6L581.9 139.1L584.8 140.3L586.8 141.5M585.1 140.3L586.8 140.8L585.8 141.3L585.1 140.3M581.2 138.8L582.6 139.3L581.6 139.6L581.2 138.8M577.5 137.4L578.7 137.6L578.0 138.1L577.5 137.4M256.2 311.6L260.6 311.3L259.4 313.0L257.0 312.8L256.2 311.6M818.1 316.9L822.5 316.9L826.7 317.4L825.0 319.1L821.3 319.1L818.1 316.9M365.7 245.3L366.9 244.9L371.8 242.4L377.9 241.2L384.0 239.2L387.2 234.4L390.1 233.1L392.6 229.5L395.0 227.0L398.7 225.3L401.6 228.0L404.8 227.8L406.5 223.4L407.9 221.9L410.9 219.7L413.3 220.4L418.2 221.4L422.8 221.4L420.6 224.6L419.4 228.2L423.1 230.7L428.0 233.9L432.4 234.4L434.1 228.2L434.3 222.1L436.5 217.7L439.0 222.1L439.7 227.0L443.4 228.2L443.9 233.1L445.8 238.0L451.9 241.2L454.9 245.3L457.3 249.0L462.2 253.2L463.4 260.0L462.2 266.1L461.0 269.8L457.8 274.4L455.3 279.1L454.6 283.2L450.0 283.9L445.8 287.1L442.6 285.7L440.2 285.2L435.3 285.4L431.6 284.4L429.4 282.5L428.0 278.6L425.8 278.6L426.8 276.1L425.5 272.7L424.3 276.9L423.1 274.2L420.6 276.6L418.7 275.9L416.3 271.7L413.3 270.0L409.2 268.6L403.5 269.0L396.2 270.5L391.3 272.2L386.4 274.4L381.6 274.7L376.7 277.1L371.5 276.1L369.3 275.4L371.1 273.0L371.1 269.3L369.3 264.9L368.4 261.2L365.7 256.3L366.4 251.5L365.7 245.3M441.9 291.0L446.3 292.0L450.7 291.5L450.7 294.7L449.7 297.1L446.3 298.1L443.1 294.7L441.9 291.0M510.3 275.6L512.3 277.6L514.7 279.5L517.1 281.5L518.1 283.5L522.0 284.2L524.5 283.7L523.3 286.9L520.8 287.4L520.3 289.3L517.1 293.0L514.9 292.5L515.9 289.3L513.5 288.1L513.0 287.1L514.9 284.7L514.7 281.5L511.5 277.8L510.3 275.6M510.1 290.5L512.3 291.8L514.0 293.5L512.3 296.2L510.6 298.1L506.9 300.1L505.7 303.5L502.0 305.4L497.6 304.5L495.2 302.8L497.6 300.3L500.0 299.1L504.9 296.6L507.4 293.7L508.8 291.3L510.1 290.5M557.2 31.3L562.3 34.0L563.8 34.0L569.7 34.0L574.6 34.3L574.6 36.5L569.7 37.7L565.3 38.9L562.3 41.4L563.6 43.8L567.2 45.0L570.9 45.3L572.1 48.2L580.7 48.2L584.3 48.4L583.1 51.1L577.0 54.8L570.9 56.7L565.3 58.7L569.7 57.5L574.6 56.0L580.7 54.1L585.6 51.1L590.4 48.7L592.9 46.2L597.0 47.0L601.4 46.0L606.3 45.0L610.0 43.1L616.1 45.0L623.4 45.5L627.1 46.0L632.0 48.4L634.4 49.9L636.9 52.3L640.5 54.8L645.4 58.0L649.1 59.7L650.8 62.6L655.2 65.1L656.4 67.3L661.3 69.2L664.9 71.9L667.9 71.9L668.6 74.3L663.5 73.4L664.5 78.0L664.9 84.1L663.7 87.0L664.5 91.4L665.4 94.4L668.6 99.3L670.1 102.2L673.3 107.1L678.4 108.5L681.6 111.7L682.8 114.6L684.7 117.3L688.9 123.2L689.1 124.2L693.0 129.3L694.8 131.7L699.1 135.7L700.4 134.9L698.4 132.5L696.7 129.3L694.3 124.4L691.8 120.8L688.2 117.1L687.4 114.2L691.8 115.4L693.8 119.5L696.7 123.4L700.4 128.1L702.8 130.5L707.9 134.9L710.1 139.1L709.9 141.5L712.6 145.2L718.7 147.6L723.6 150.3L728.5 152.3L733.4 153.2L737.0 152.0L740.7 153.5L742.6 156.2L746.8 157.6L751.7 159.4L754.1 159.8L755.3 161.1L757.8 163.5L758.5 164.7L758.3 167.2L760.7 167.7L762.7 169.6L764.6 171.3L767.6 171.6L771.2 173.8L772.4 172.1L773.7 169.9L776.1 171.1L777.3 173.8L777.6 174.0L778.5 176.9L779.0 181.8L777.3 185.5L775.1 188.2L772.4 190.4L771.2 194.0L772.0 197.0L771.7 200.2L769.3 202.6L769.8 205.8L772.7 208.2L774.9 211.1L777.3 216.0L779.8 220.9L781.7 225.3L784.2 229.0L790.8 232.6L794.4 235.1L796.1 236.8L796.4 241.7L795.6 249.0L794.9 253.9L793.2 261.2L793.0 266.1L793.0 272.2L791.5 278.3L789.1 282.0L788.3 286.9L787.8 293.0L787.3 295.4L786.4 299.1L783.4 305.2L783.9 310.1L784.7 315.0L787.1 319.9L793.2 323.0L796.9 326.0L803.5 327.9L807.9 326.0L805.4 324.7L801.8 322.3L800.8 319.4L799.3 317.4L799.3 313.8L802.2 311.3L807.1 308.4L803.0 305.2L804.2 302.8L807.9 301.5L809.1 296.6L811.5 295.4L809.1 294.2L809.1 291.8L814.0 291.8L815.9 290.5L816.4 286.9L821.3 286.4L827.2 284.7L829.4 280.5L827.9 278.3L825.2 276.1L827.4 275.6L831.1 276.9L836.0 276.1L838.4 273.9L842.1 268.6L845.0 264.9L849.2 260.0L849.4 255.1L853.1 251.5L857.9 249.5L862.3 247.5L865.3 247.5L867.7 245.3L869.4 241.2L870.9 238.0L872.6 233.1L872.6 227.0L873.8 223.4L876.3 219.7L880.7 214.8L882.6 211.1L881.9 205.0L876.3 203.1L871.4 198.9L866.5 198.7L859.7 197.7L854.3 194.0L849.4 194.5L845.7 192.8L844.5 187.9L842.8 181.8L838.9 178.2L833.5 176.9L828.6 176.9L825.0 174.5L821.3 171.1L817.6 167.7L815.2 165.9L811.5 165.7L806.6 165.7L801.8 165.9L796.9 163.5L793.2 164.7L792.5 161.3L789.5 164.0L785.1 164.7L783.4 166.4L782.2 168.6L780.0 170.8L778.8 170.6L777.6 168.6L772.7 168.6L770.0 170.1L766.1 168.4L763.9 165.2L763.2 162.3L764.4 157.4L764.6 155.0L761.4 152.8L757.8 152.5L752.9 153.0L752.2 151.3L752.4 146.4L754.1 144.0L755.8 139.3L752.9 138.8L747.3 140.3L746.8 144.0L744.3 146.4L737.0 147.1L733.8 145.7L732.1 144.0L730.2 140.3L729.2 136.6L729.7 131.7L730.2 128.1L730.2 123.9L733.4 121.7L736.3 120.0L739.5 118.8L744.3 119.8L749.2 120.3L749.7 117.6L752.9 117.1L756.6 117.3L759.5 119.0L762.7 118.3L765.1 120.8L765.8 123.9L768.0 127.6L770.0 130.0L771.5 129.8L772.2 126.9L771.2 122.0L769.3 118.3L769.5 114.6L772.4 111.7L776.1 108.8L777.6 108.0L781.0 106.8L783.4 105.6L782.5 101.7L782.0 100.0L783.2 98.0L784.7 96.8L785.9 95.6L787.1 92.7L792.0 91.4L795.2 90.2L796.9 89.7L795.4 87.8L795.2 86.3L798.1 84.6L803.0 82.9L804.2 81.7L807.9 80.9L810.3 80.0L810.3 80.9L807.1 82.6L806.6 84.6L810.3 84.6L812.7 82.6L818.9 81.2L821.3 79.2L820.1 76.8L817.6 79.5L814.0 80.0L810.3 78.7L809.6 75.6L807.9 74.3L810.8 73.1L805.4 71.6L800.5 73.1L796.9 75.6L794.4 77.3L799.3 73.1L804.2 71.2L810.3 69.0L818.9 69.0L823.7 68.2L828.4 65.8L831.6 63.8L831.1 60.9L827.4 58.5L822.5 56.5L817.6 54.3L816.7 51.1L814.0 48.7L810.3 44.3L807.9 47.5L803.0 49.2L798.1 47.5L797.4 43.8L794.4 42.3L788.3 40.1L778.5 38.9L777.3 42.6L778.5 47.5L780.5 52.3L779.8 56.0L775.1 59.7L773.7 64.6L771.2 66.3L767.6 63.3L766.8 60.9L767.1 57.0L760.2 56.5L752.9 53.6L746.8 51.9L741.9 52.3L738.2 48.2L737.0 45.0L739.5 41.4L745.6 38.9L748.0 35.7L752.9 34.8L755.3 32.3L757.8 30.4L760.2 29.1L762.7 26.7L766.3 25.5L768.8 23.0L766.3 21.3L760.2 21.1L757.8 24.3L752.9 25.0L749.2 23.0L746.8 24.3L744.3 20.6L741.9 16.9L737.0 15.7L734.6 18.1L732.1 21.8L728.5 25.5L718.7 26.0L708.9 24.5L702.8 25.0L699.1 25.5L691.8 26.0L686.9 26.0L689.4 23.5L682.0 23.0L674.7 22.1L667.4 21.8L663.7 20.6L660.1 21.8L655.2 19.4L650.3 20.6L643.0 21.6L638.1 22.3L632.0 23.0L623.4 21.6L616.1 20.3L608.8 19.9L601.4 19.4L594.1 18.4L585.6 17.4L579.4 18.6L572.1 19.9L567.2 21.1L561.9 23.3L567.2 25.5L569.7 27.9L566.0 28.9L562.3 29.9L557.2 31.3M760.5 138.1L765.1 135.7L770.0 134.9L773.7 136.1L778.5 138.3L783.2 140.1L786.6 142.0L783.4 143.0L778.1 143.0L779.0 141.0L776.1 138.8L771.2 137.9L768.0 137.4L765.6 136.4L762.7 138.1L760.5 138.1M785.9 146.6L790.0 143.0L796.9 143.5L800.8 146.2L798.1 147.1L793.4 148.6L790.8 147.1L785.9 146.6M776.3 146.6L781.5 147.1L780.3 147.9L777.3 147.1L776.3 146.6M803.7 146.4L807.6 146.6L807.1 147.6L803.7 147.6L803.7 146.4M822.8 75.3L831.1 69.7L832.3 65.5L837.2 71.4L838.9 75.3L836.7 77.5L832.3 76.8L829.9 75.3L822.8 75.3M654.2 67.5L657.6 68.0L662.5 69.4L666.7 73.4L663.0 72.9L658.8 70.7L654.2 67.5M590.2 50.2L596.1 49.4L595.3 51.6L591.2 53.3L590.2 50.2M861.6 45.5L856.7 43.8L850.6 41.4L844.5 36.5L840.8 32.8L837.2 29.1L838.4 25.5L843.3 23.0L837.2 20.6L840.8 18.1L833.5 14.5L828.6 9.6L823.7 6.4L811.5 5.4L800.5 4.7L789.5 1.0L792.0 -1.4L809.1 -5.1L821.3 -8.7L845.7 -9.9L870.2 -12.4L894.6 -12.4L919.0 -8.7L931.2 -6.3L923.9 -2.6L920.2 3.5L922.7 8.4L916.6 13.3L910.5 19.4L914.1 20.6L906.8 24.3L892.1 25.5L883.6 30.4L875.0 31.3L870.2 32.8L867.7 36.5L864.1 41.4L861.6 45.5M809.1 40.4L801.8 38.9L793.2 36.5L788.3 34.0L778.5 34.0L777.3 31.6L787.1 28.4L789.5 25.5L782.2 21.8L774.9 20.6L765.1 20.6L755.3 19.4L749.2 16.9L752.9 12.0L760.2 12.0L772.4 12.0L779.8 14.5L789.5 16.9L796.9 19.4L801.8 20.6L804.2 23.0L811.5 26.7L816.4 28.4L812.7 31.6L809.1 34.0L810.3 36.5L809.1 40.4M677.2 16.9L680.8 13.7L691.8 13.3L706.5 12.0L712.6 13.3L718.7 20.6L711.4 23.0L699.1 24.0L689.4 22.3L679.6 20.6L677.2 16.9M661.3 15.9L664.9 12.0L673.5 10.1L684.5 12.5L677.2 16.2L667.4 18.1L661.3 15.9M756.6 35.2L762.7 30.9L768.8 34.0L765.1 35.7L756.6 35.2M734.6 15.2L739.5 10.8L746.8 11.3L740.7 15.2L734.6 15.2M721.1 16.9L717.5 13.7L726.0 11.1L730.9 13.3L728.5 16.2L721.1 16.9M744.3 9.1L760.2 9.6L771.2 9.4L772.4 5.4L750.5 4.7L743.1 6.4L744.3 9.1M749.2 4.7L765.1 5.4L777.3 4.7L784.7 -0.2L792.0 -2.6L801.8 -5.1L816.4 -8.7L809.1 -10.7L784.7 -11.4L760.2 -9.9L745.6 -7.5L740.7 -5.1L743.1 -2.6L750.5 -0.2L749.2 4.7M682.0 8.4L699.1 9.6L710.1 7.2L704.0 4.7L689.4 4.7L682.0 8.4M722.4 8.9L729.7 8.4L730.9 4.7L721.1 5.9L722.4 8.9M669.8 4.7L682.0 5.4L684.5 2.3L672.3 3.5L669.8 4.7M115.3 -0.2L125.0 3.5L129.9 4.5L133.6 2.3L142.1 0.6L154.4 -1.4L137.3 -4.6L117.7 -3.4L115.3 -0.2M215.4 17.4L222.8 14.5L230.1 9.6L239.9 6.4L257.0 3.5L249.6 5.4L237.4 8.4L228.9 12.0L225.2 15.0L224.0 18.1L215.4 17.4M424.3 9.6L435.3 11.3L439.0 12.0L445.1 8.4L432.9 5.9L425.5 7.2L424.3 9.6M450.0 8.4L456.1 7.9L452.4 6.9L450.0 8.4M524.7 18.1L529.4 16.9L533.0 17.7L528.1 18.6L524.7 18.1M320.5 -0.2L332.7 1.0L344.9 -0.2L342.5 -2.6L325.4 -3.8L320.5 -0.2M203.2 -3.8L222.8 -3.8L235.0 -5.1L222.8 -6.8L203.2 -3.8M-791.1 365.8L-771.3 361.9L-763.5 365.1L-757.1 361.9L-736.8 362.6L-735.4 365.1L-713.4 361.9L-707.0 358.7L-696.3 361.9L-666.5 354.8L-657.2 351.6L-650.9 353.3L-641.6 357.2L-622.8 357.2L-621.0 361.1L-624.2 365.1L-621.0 368.2L-618.1 367.3L-610.3 362.6L-600.8 361.1L-588.3 355.5L-575.9 354.1L-557.0 356.5L-541.4 352.6L-528.9 355.5L-513.3 352.6L-499.1 355.5L-491.3 354.1L-460.3 351.6L-457.1 354.8L-435.4 354.8L-429.0 358.0L-405.6 361.1L-393.1 365.1L-374.3 365.8L-372.8 368.2L-383.6 372.1L-389.9 377.5L-383.6 382.9L-393.1 384.6L-399.2 389.2L-389.9 393.1L-366.5 397.1L-327.4 396.3L-296.1 400.2L-280.5 399.5L-260.2 398.5L-282.0 398.5L-285.1 390.7L-291.5 389.2L-269.5 387.8L-293.0 382.9L-296.9 380.0L-277.3 380.7L-266.3 376.0L-241.4 372.9L-218.0 371.2L-199.1 371.2L-187.7 372.9L-179.8 374.3L-164.2 373.6L-145.4 370.4L-128.3 369.7L-109.5 371.2L-93.8 372.1L-75.3 366.5L-73.6 354.8L-62.6 348.7L-50.1 346.2L-68.9 354.8L-62.6 361.1L-57.9 370.4L-65.8 375.1L-92.4 379.0L-98.5 381.4L-101.7 384.6L-92.4 388.5L-70.4 389.2L-51.6 394.6L-39.1 391.7L-15.7 390.7L20.2 387.8L3.1 383.9L15.6 381.4L39.1 376.8L54.7 370.4L70.3 365.1L88.4 365.3M88.4 365.8L108.2 361.9L116.0 365.1L122.4 361.9L142.6 362.6L144.1 365.1L166.1 361.9L172.4 358.7L183.2 361.9L213.0 354.8L222.3 351.6L228.6 353.3L237.9 357.2L256.7 357.2L258.4 361.1L255.3 365.1L258.4 368.2L261.4 367.3L269.2 362.6L278.7 361.1L291.2 355.5L303.6 354.1L322.4 356.5L338.1 352.6L350.5 355.5L366.2 352.6L380.3 355.5L388.2 354.1L419.2 351.6L422.4 354.8L444.1 354.8L450.5 358.0L473.9 361.1L486.4 365.1L505.2 365.8L506.6 368.2L495.9 372.1L489.5 377.5L495.9 382.9L486.4 384.6L480.3 389.2L489.5 393.1L513.0 397.1L552.1 396.3L583.4 400.2L599.0 399.5L619.3 398.5L597.5 398.5L594.3 390.7L588.0 389.2L610.0 387.8L586.5 382.9L582.6 380.0L602.2 380.7L613.2 376.0L638.1 372.9L661.5 371.2L680.3 371.2L691.8 372.9L699.6 374.3L715.3 373.6L734.1 370.4L751.2 369.7L770.0 371.2L785.6 372.1L804.2 366.5L805.9 354.8L816.9 348.7L829.4 346.2L810.6 354.8L816.9 361.1L821.5 370.4L813.7 375.1L787.1 379.0L781.0 381.4L777.8 384.6L787.1 388.5L809.1 389.2L827.9 394.6L840.4 391.7L863.8 390.7L899.7 387.8L882.6 383.9L895.1 381.4L918.5 376.8L934.2 370.4L949.8 365.1L967.9 365.3M967.9 365.8L987.7 361.9L995.5 365.1L1001.8 361.9L1022.1 362.6L1023.6 365.1L1045.6 361.9L1051.9 358.7L1062.7 361.9L1092.5 354.8L1101.8 351.6L1108.1 353.3L1117.4 357.2L1136.2 357.2L1137.9 361.1L1134.7 365.1L1137.9 368.2L1140.8 367.3L1148.7 362.6L1158.2 361.1L1170.6 355.5L1183.1 354.1L1201.9 356.5L1217.6 352.6L1230.0 355.5L1245.6 352.6L1259.8 355.5L1267.6 354.1L1298.7 351.6L1301.8 354.8L1323.6 354.8L1329.9 358.0L1353.4 361.1L1365.8 365.1L1384.7 365.8L1386.1 368.2L1375.4 372.1L1369.0 377.5L1375.4 382.9L1365.8 384.6L1359.7 389.2L1369.0 393.1L1392.5 397.1L1431.6 396.3L1462.8 400.2L1478.5 399.5L1498.7 398.5L1477.0 398.5L1473.8 390.7L1467.5 389.2L1489.5 387.8L1466.0 382.9L1462.1 380.0L1481.6 380.7L1492.6 376.0L1517.6 372.9L1541.0 371.2L1559.8 371.2L1571.3 372.9L1579.1 374.3L1594.8 373.6L1613.6 370.4L1630.7 369.7L1649.5 371.2L1665.1 372.1L1683.7 366.5L1685.4 354.8L1696.4 348.7L1708.8 346.2L1690.0 354.8L1696.4 361.1L1701.0 370.4L1693.2 375.1L1666.6 379.0L1660.5 381.4L1657.3 384.6L1666.6 388.5L1688.6 389.2L1707.4 394.6L1719.8 391.7L1743.3 390.7L1779.2 387.8L1762.1 383.9L1774.6 381.4L1798.0 376.8L1813.6 370.4L1829.3 365.1L1847.4 365.3M569.7 382.9L578.7 383.6L574.6 385.3L569.7 382.9M719.9 367.5L734.1 368.0L728.5 369.5L719.9 368.2L719.9 367.5M792.0 361.4L798.1 363.8L794.4 367.5L788.3 366.3L792.0 361.4M840.8 388.3L853.1 385.8L862.8 387.8L850.6 390.0L840.8 388.3M735.8 -0.2L745.6 0.6L752.9 -3.8L744.3 -6.8L735.8 -5.1L735.8 -0.2M726.0 23.5L733.4 24.7L734.6 21.8L728.5 20.8L726.0 23.5M772.4 13.3L781.0 14.0L779.8 11.3L772.4 11.8L772.4 13.3M732.1 8.9L739.5 9.4L739.5 6.4L732.1 6.9L732.1 8.9M763.9 38.9L770.0 39.4L767.6 37.7L763.9 38.9M548.2 35.7L555.0 37.0L551.3 37.7L548.2 35.7M559.9 44.5L563.6 45.0L561.9 45.5L559.9 44.5M713.8 1.0L723.6 0.6L722.4 -1.2L715.0 -0.9L713.8 1.0M729.7 1.3L734.6 0.8L732.1 -0.7L728.5 -0.2L729.7 1.3M694.3 2.8L704.0 1.8L699.1 0.8L691.8 1.5L694.3 2.8M696.7 0.6L711.4 0.3L708.9 -0.9L696.7 -0.4L696.7 0.6M723.6 -3.4L727.2 -3.6L724.8 -4.3L723.6 -3.4M711.4 8.4L713.8 7.9L712.6 7.2L711.4 8.4M708.9 3.0L713.8 2.8L711.4 2.0L708.9 3.0M771.2 40.4L773.7 41.1L772.4 39.4L771.2 40.4M776.1 37.2L779.3 37.0L777.8 36.2L776.1 37.2M718.7 5.9L724.8 5.4L722.4 4.5L718.7 5.9" fill="none" stroke="#000" stroke-width="2.2" stroke-linejoin="round"/>
</g>
<rect x="88.4" y="-28.3" width="879.5" height="439.7" fill="none" stroke="#111" stroke-width="1.6"/>
<clipPath id="clipb"><rect x="1053.9" y="-30.7" width="887.8" height="443.9"/></clipPath>
<g clip-path="url(#clipb)">
<rect x="1053.9" y="-30.7" width="887.8" height="443.9" fill="#f4f4f4"/>
<g filter="url(#cm)"><rect x="1053.9" y="-30.7" width="887.8" height="443.9" fill="#808080"/><g filter="url(#b12)"><ellipse cx="1103.2" cy="252.8" rx="29.6" ry="24.7" fill="#000" fill-opacity="0.10"/><ellipse cx="1991" cy="252.8" rx="29.6" ry="24.7" fill="#000" fill-opacity="0.10"/></g><g filter="url(#b8)"><ellipse cx="1066.2" cy="191.2" rx="19.7" ry="12.3" fill="#000" fill-opacity="0.15"/><ellipse cx="1954" cy="191.2" rx="19.7" ry="12.3" fill="#000" fill-opacity="0.15"/></g><g filter="url(#b10)"><ellipse cx="1140.2" cy="265.2" rx="24.7" ry="14.8" fill="#fff" fill-opacity="0.08"/></g><g filter="url(#b12)"><ellipse cx="1127.9" cy="334.2" rx="98.6" ry="12.3" fill="#fff" fill-opacity="0.05"/><ellipse cx="2015.6" cy="334.2" rx="98.6" ry="12.3" fill="#fff" fill-opacity="0.05"/></g><g filter="url(#b15)"><ellipse cx="1510.1" cy="127.1" rx="118.4" ry="32.1" fill="#000" fill-opacity="0.20" transform="rotate(-5 1510.1 127.1)"/></g><g filter="url(#b10)"><ellipse cx="1510.1" cy="122.2" rx="49.3" ry="17.3" fill="#000" fill-opacity="0.12"/><ellipse cx="1606.3" cy="92.6" rx="32.1" ry="24.7" fill="#fff" fill-opacity="0.34"/></g><g filter="url(#b8)"><ellipse cx="1325.2" cy="127.1" rx="24.7" ry="12.3" fill="#fff" fill-opacity="0.18" transform="rotate(-30 1325.2 127.1)"/></g><g filter="url(#b6)"><ellipse cx="1468.2" cy="161.6" rx="49.3" ry="8.6" fill="#fff" fill-opacity="0.18"/></g><g filter="url(#b12)"><ellipse cx="1793.7" cy="109.8" rx="49.3" ry="22.2" fill="#fff" fill-opacity="0.17" transform="rotate(-20 1793.7 109.8)"/></g><g filter="url(#b6)"><ellipse cx="1719.7" cy="129.5" rx="19.7" ry="12.3" fill="#fff" fill-opacity="0.24"/></g><g filter="url(#b14)"><ellipse cx="992.3" cy="55.6" rx="54.3" ry="19.7" fill="#000" fill-opacity="0.08"/><ellipse cx="1880" cy="55.6" rx="54.3" ry="19.7" fill="#000" fill-opacity="0.08"/></g><g filter="url(#b10)"><ellipse cx="1386.8" cy="252.8" rx="29.6" ry="19.7" fill="#fff" fill-opacity="0.12"/></g><g filter="url(#b14)"><ellipse cx="1658.1" cy="240.5" rx="49.3" ry="29.6" fill="#fff" fill-opacity="0.10"/></g><g filter="url(#b12)"><ellipse cx="1559.4" cy="265.2" rx="49.3" ry="19.7" fill="#000" fill-opacity="0.15" transform="rotate(20 1559.4 265.2)"/></g><mask id="nmb" maskUnits="userSpaceOnUse" x="1053.9" y="-30.7" width="887.8" height="443.9"><rect x="953.9" y="28.4" width="1087.8" height="305.8" fill="#fff" filter="url(#b20)"/><g filter="url(#b20)" fill="#000" fill-opacity="0.55"><ellipse cx="1263.5" cy="63" rx="111" ry="29.6"/><ellipse cx="1115.6" cy="136.9" rx="44.4" ry="19.7"/><ellipse cx="1682.7" cy="55.6" rx="49.3" ry="24.7"/><ellipse cx="1793.7" cy="13.6" rx="49.3" ry="14.8"/></g></mask><rect x="1053.9" y="-30.7" width="887.8" height="443.9" filter="url(#ngb)" mask="url(#nmb)"/><g filter="url(#b4)"><ellipse cx="1330.1" cy="198.6" rx="14.8" ry="9.9" fill="#fff" fill-opacity="0.25"/><ellipse cx="1399.1" cy="203.5" rx="12.3" ry="7.4" fill="#fff" fill-opacity="0.25"/></g><g filter="url(#b6)"><polyline points="1196.9,171.5 1226.5,175.2 1253.6,177.6 1275.8,183.8" fill="none" stroke="#fff" stroke-opacity="0.28" stroke-width="12.3" stroke-linecap="round" stroke-linejoin="round"/></g><g filter="url(#b4)"><polyline points="1243.8,188.7 1242.5,206 1245,223.3" fill="none" stroke="#fff" stroke-opacity="0.60" stroke-width="12.3" stroke-linecap="round" stroke-linejoin="round"/></g><g filter="url(#b3)"><ellipse cx="1242.5" cy="207.2" rx="6.2" ry="7.4" fill="#fff" fill-opacity="0.30"/></g><g filter="url(#b5)"><ellipse cx="1199.4" cy="206" rx="22.2" ry="8.6" fill="#000" fill-opacity="0.30"/></g><g filter="url(#b3)"><ellipse cx="1204.3" cy="208.5" rx="7.4" ry="4.9" fill="#000" fill-opacity="0.20"/></g><g filter="url(#b10)"><ellipse cx="1214.2" cy="255.3" rx="39.5" ry="19.7" fill="#fff" fill-opacity="0.10"/></g><g filter="url(#b7)"><polyline points="1261,202.3 1300.5,203.5 1349.8,208.5 1411.5,214.6 1473.1,225.7 1522.4,234.4 1559.4,243" fill="none" stroke="#000" stroke-opacity="0.50" stroke-width="24.7" stroke-linecap="round" stroke-linejoin="round"/></g><g filter="url(#b5)"><polyline points="1312.8,204.8 1362.2,209.7 1423.8,217.1 1478.1,227 1534.8,236.8" fill="none" stroke="#000" stroke-opacity="0.35" stroke-width="14.8" stroke-linecap="round" stroke-linejoin="round"/><polyline points="1320.2,172.7 1362.2,173.2 1399.1,175.2 1436.1,178.1 1468.2,178.9" fill="none" stroke="#000" stroke-opacity="0.52" stroke-width="17.3" stroke-linecap="round" stroke-linejoin="round"/><ellipse cx="1344.9" cy="171.5" rx="24.7" ry="14.8" fill="#000" fill-opacity="0.35"/></g><g filter="url(#b4)"><polyline points="1537.2,170 1596.4,170 1645.7,170.7" fill="none" stroke="#000" stroke-opacity="0.58" stroke-width="11.1" stroke-linecap="round" stroke-linejoin="round"/></g><g filter="url(#b8)"><ellipse cx="1798.6" cy="203.5" rx="37" ry="22.2" fill="#000" fill-opacity="0.30"/></g><g filter="url(#b3)"><ellipse cx="1811" cy="196.1" rx="7.4" ry="6.2" fill="#000" fill-opacity="0.35"/></g><g filter="url(#b5)"><polyline points="942.9,181.3 1053.9,183.8" fill="none" stroke="#000" stroke-opacity="0.30" stroke-width="9.9" stroke-linecap="round" stroke-linejoin="round"/><polyline points="1830.7,181.3 1941.7,183.8" fill="none" stroke="#000" stroke-opacity="0.30" stroke-width="9.9" stroke-linecap="round" stroke-linejoin="round"/><ellipse cx="1793.7" cy="260.2" rx="14.8" ry="14.8" fill="#fff" fill-opacity="0.45"/><ellipse cx="1734.5" cy="176.4" rx="12.3" ry="7.4" fill="#000" fill-opacity="0.25"/></g><g filter="url(#b3)"><linearGradient id="g2" gradientUnits="userSpaceOnUse" x1="1621.1" y1="0" x2="1727.1" y2="0"><stop offset="0.000" stop-color="#fff" stop-opacity="0.70"/><stop offset="0.581" stop-color="#fff" stop-opacity="0.70"/><stop offset="1.000" stop-color="#fff" stop-opacity="0.45"/></linearGradient><polygon points="1626,185 1670.4,188.7 1724.7,196.1 1727.1,203.5 1682.7,204.8 1626,199.8" fill="url(#g2)"/></g><g filter="url(#b4)"><linearGradient id="g3" gradientUnits="userSpaceOnUse" x1="1537.2" y1="0" x2="1589" y2="0"><stop offset="0.000" stop-color="#fff" stop-opacity="0.85"/><stop offset="0.429" stop-color="#fff" stop-opacity="0.75"/><stop offset="1.000" stop-color="#fff" stop-opacity="0.45"/></linearGradient><polygon points="1537.2,206 1571.8,206 1589,213.4 1581.6,228.2 1561.9,233.1 1542.2,220.8" fill="url(#g3)"/></g><g filter="url(#b2_5)"><linearGradient id="g4" gradientUnits="userSpaceOnUse" x1="1438.6" y1="0" x2="1670.4" y2="0"><stop offset="0.000" stop-color="#fff" stop-opacity="0.55"/><stop offset="0.106" stop-color="#fff" stop-opacity="0.95"/><stop offset="0.202" stop-color="#fff" stop-opacity="1.00"/><stop offset="0.894" stop-color="#fff" stop-opacity="1.00"/><stop offset="1.000" stop-color="#fff" stop-opacity="0.90"/></linearGradient><polygon points="1440.1,190 1475.6,182.6 1524.9,178.7 1600.1,176.2 1649.9,174.9 1670.4,177.4 1662.5,182.6 1625,190 1587.5,200.1 1561.9,209.9 1537.2,210.4 1500.2,205 1475.6,197.6 1448.5,193.7" fill="url(#g4)"/></g></g>
<path d="M1039.4 102.9L1037.1 107.4L1032.9 109.1L1031.0 111.3L1029.7 114.8L1030.2 116.2L1028.0 119.2L1025.5 121.4L1021.3 123.4L1018.1 127.1L1016.9 130.0L1014.4 132.8L1013.7 136.0L1012.0 139.4L1014.0 143.1L1013.2 149.3L1013.2 151.7L1010.7 154.9L1012.5 157.9L1012.7 160.9L1015.7 162.8L1018.1 165.3L1021.1 168.3L1023.1 172.7L1026.8 174.7L1030.5 177.6L1035.4 180.3L1041.6 178.6L1046.5 178.6L1049.0 179.4L1053.9 177.4L1057.6 175.9L1060.1 175.4L1065.0 175.7L1067.5 178.9L1069.9 180.6L1072.4 180.1L1074.9 179.6L1077.3 181.6L1078.1 185.0L1077.3 188.7L1076.8 192.4L1078.6 197.4L1082.3 201.1L1084.2 206.0L1086.5 212.2L1087.9 218.3L1084.7 224.5L1083.0 230.7L1083.0 235.6L1086.0 240.5L1089.7 246.7L1090.9 255.3L1094.6 261.7L1097.1 267.6L1099.0 273.8L1099.5 275.8L1103.2 277.0L1108.2 275.5L1116.8 275.0L1121.7 273.1L1127.9 267.6L1131.1 263.5L1134.0 260.2L1135.0 255.3L1140.2 251.6L1141.4 245.5L1140.2 241.8L1143.9 238.1L1150.1 233.1L1153.8 228.2L1153.8 218.3L1151.3 210.9L1150.8 207.2L1150.1 203.5L1153.8 197.4L1156.2 194.9L1159.9 188.7L1164.9 186.3L1169.8 181.3L1173.5 176.4L1176.0 170.2L1179.2 165.3L1180.4 162.1L1174.7 163.6L1167.3 164.8L1162.4 165.6L1160.7 162.8L1159.4 160.4L1156.2 157.2L1152.5 153.0L1150.8 152.2L1148.8 146.8L1145.9 144.3L1145.1 139.4L1143.9 135.7L1141.4 132.0L1139.0 127.1L1136.5 123.4L1134.3 117.5L1133.6 114.3L1127.9 113.8L1122.9 114.8L1115.6 113.3L1111.9 111.8L1105.7 110.1L1103.2 112.5L1103.2 115.2L1100.8 116.5L1097.1 114.8L1092.1 113.3L1090.9 111.3L1086.0 110.1L1081.5 109.1L1079.3 107.8L1080.3 104.9L1081.0 101.2L1078.6 99.5L1074.9 100.2L1069.9 100.0L1063.8 100.2L1058.8 100.9L1053.9 102.7L1050.2 104.4L1046.5 104.2L1041.6 104.2L1039.4 102.9M1927.1 102.9L1924.9 107.4L1920.7 109.1L1918.7 111.3L1917.5 114.8L1918.0 116.2L1915.8 119.2L1913.3 121.4L1909.1 123.4L1905.9 127.1L1904.7 130.0L1902.2 132.8L1901.5 136.0L1899.7 139.4L1901.7 143.1L1901.0 149.3L1901.0 151.7L1898.5 154.9L1900.2 157.9L1900.5 160.9L1903.4 162.8L1905.9 165.3L1908.9 168.3L1910.8 172.7L1914.5 174.7L1918.2 177.6L1923.2 180.3L1929.3 178.6L1934.3 178.6L1936.7 179.4L1941.7 177.4L1945.4 175.9L1947.8 175.4L1952.8 175.7L1955.2 178.9L1957.7 180.6L1960.2 180.1L1962.6 179.6L1965.1 181.6L1965.8 185.0L1965.1 188.7L1964.6 192.4L1966.3 197.4L1970.0 201.1L1972.0 206.0L1974.2 212.2L1975.7 218.3L1972.5 224.5L1970.8 230.7L1970.8 235.6L1973.7 240.5L1977.4 246.7L1978.7 255.3L1982.3 261.7L1984.8 267.6L1986.8 273.8L1987.3 275.8L1991.0 277.0L1995.9 275.5L2004.5 275.0L2009.5 273.1L2015.6 267.6L2018.8 263.5L2021.8 260.2L2022.8 255.3L2028.0 251.6L2029.2 245.5L2028.0 241.8L2031.7 238.1L2037.8 233.1L2041.5 228.2L2041.5 218.3L2039.1 210.9L2038.6 207.2L2037.8 203.5L2041.5 197.4L2044.0 194.9L2047.7 188.7L2052.6 186.3L2057.6 181.3L2061.3 176.4L2063.7 170.2L2066.9 165.3L2068.2 162.1L2062.5 163.6L2055.1 164.8L2050.2 165.6L2048.4 162.8L2047.2 160.4L2044.0 157.2L2040.3 153.0L2038.6 152.2L2036.6 146.8L2033.6 144.3L2032.9 139.4L2031.7 135.7L2029.2 132.0L2026.7 127.1L2024.3 123.4L2022.1 117.5L2021.3 114.3L2015.6 113.8L2010.7 114.8L2003.3 113.3L1999.6 111.8L1993.4 110.1L1991.0 112.5L1991.0 115.2L1988.5 116.5L1984.8 114.8L1979.9 113.3L1978.7 111.3L1973.7 110.1L1969.3 109.1L1967.1 107.8L1968.0 104.9L1968.8 101.2L1966.3 99.5L1962.6 100.2L1957.7 100.0L1951.5 100.2L1946.6 100.9L1941.7 102.7L1938.0 104.4L1934.3 104.2L1929.3 104.2L1927.1 102.9M1133.6 114.3L1138.2 114.0L1140.0 111.1L1141.4 107.6L1142.4 103.7L1142.7 101.2L1140.2 100.5L1137.7 101.9L1134.0 102.2L1129.1 101.7L1125.4 100.7L1121.7 100.0L1119.2 96.8L1120.0 93.8L1118.5 92.6L1121.7 91.8L1125.4 90.1L1122.9 90.1L1119.2 91.1L1115.6 90.3L1112.3 90.8L1110.4 91.3L1111.4 93.8L1110.1 96.3L1110.6 97.5L1109.4 101.2L1107.4 100.5L1106.9 98.0L1105.9 96.8L1104.9 95.0L1103.2 93.3L1101.7 90.3L1101.7 88.1L1099.5 86.4L1095.8 84.4L1092.1 82.7L1089.7 80.2L1087.7 78.8L1084.2 79.2L1084.2 81.5L1087.4 83.9L1089.7 87.1L1093.4 88.9L1095.8 90.1L1099.5 92.3L1098.3 92.8L1096.1 91.3L1094.6 93.1L1096.1 95.0L1093.6 97.5L1092.4 97.0L1092.9 93.8L1090.9 91.8L1088.4 90.3L1084.7 88.6L1081.0 86.4L1079.3 83.7L1076.1 81.7L1073.6 82.9L1071.2 83.9L1066.2 84.4L1061.8 84.4L1061.8 87.6L1058.8 89.6L1055.9 90.8L1053.9 93.8L1052.7 96.8L1051.9 98.5L1049.0 100.7L1042.8 100.9L1040.1 102.4L1038.4 100.9L1035.7 99.5L1032.0 100.0L1032.2 95.8L1030.5 93.8L1032.0 90.1L1032.2 86.4L1031.0 85.2L1034.2 83.4L1039.8 83.7L1045.3 83.9L1049.5 84.2L1050.7 81.5L1050.9 77.8L1048.5 74.8L1042.8 73.1L1042.3 71.6L1046.5 70.9L1050.0 71.1L1050.7 68.9L1054.4 69.1L1057.6 67.4L1058.6 65.4L1061.3 64.7L1063.8 63.2L1065.7 60.7L1068.2 59.5L1071.2 59.3L1074.9 58.5L1075.1 55.6L1073.9 51.9L1074.9 50.4L1080.0 48.9L1079.3 51.1L1080.5 52.4L1078.6 54.6L1080.5 57.0L1084.7 57.0L1088.4 58.0L1093.4 57.3L1099.5 56.1L1103.0 56.6L1105.9 54.8L1105.9 51.9L1107.2 49.7L1109.4 48.9L1112.8 50.6L1114.1 47.4L1111.9 46.0L1114.8 44.5L1122.9 44.5L1128.4 43.5L1125.4 42.7L1119.2 42.3L1110.6 43.5L1106.7 41.3L1106.9 37.1L1110.6 33.9L1116.5 30.9L1114.6 28.9L1108.9 29.4L1106.4 32.6L1102.0 34.6L1097.3 37.1L1096.3 40.8L1099.5 42.7L1100.3 44.7L1095.8 46.9L1094.8 50.6L1093.4 52.6L1089.2 54.6L1085.7 54.1L1085.0 52.4L1083.0 48.9L1081.5 45.7L1080.0 43.7L1078.6 45.7L1073.6 47.9L1070.2 47.9L1067.7 46.2L1066.7 43.2L1066.2 39.5L1068.7 37.1L1074.9 34.6L1079.8 32.1L1084.7 28.4L1088.4 24.7L1093.4 22.3L1099.5 19.1L1105.7 18.1L1113.1 16.1L1118.0 16.6L1124.2 16.1L1130.3 18.1L1135.3 19.8L1142.7 21.0L1152.5 24.3L1155.5 26.5L1152.5 28.4L1147.6 28.2L1140.2 27.7L1139.7 32.1L1145.1 33.6L1147.6 31.9L1153.8 32.1L1155.0 28.2L1162.4 27.7L1162.9 22.8L1167.3 24.0L1172.3 24.5L1184.6 22.3L1188.3 22.8L1196.9 21.3L1204.3 19.1L1211.7 20.3L1219.1 22.0L1217.9 17.3L1222.8 14.9L1225.3 11.7L1232.7 11.7L1233.2 16.1L1232.7 19.8L1235.2 23.5L1237.6 22.3L1237.6 17.3L1241.3 13.6L1246.2 12.9L1252.4 13.6L1252.4 9.9L1266.0 7.5L1269.7 5.8L1275.8 5.0L1288.2 3.8L1300.5 1.3L1310.4 -0.4L1315.3 0.6L1319.0 2.6L1327.6 2.1L1333.8 4.3L1332.6 8.7L1330.1 9.5L1344.9 9.9L1354.8 11.2L1367.1 9.9L1372.0 13.6L1379.4 14.9L1386.8 14.6L1396.7 12.9L1401.6 11.9L1413.9 12.9L1423.8 14.9L1428.7 16.4L1441.1 16.1L1448.5 17.3L1453.4 19.6L1465.7 19.1L1473.1 18.3L1485.5 19.1L1494.1 20.3L1497.8 21.3L1502.7 22.3L1510.1 24.5L1520.0 26.2L1523.2 28.2L1520.0 29.7L1516.3 31.4L1515.0 32.6L1508.9 30.9L1501.5 29.7L1495.3 31.4L1490.4 32.1L1494.1 35.8L1495.3 37.6L1490.4 37.1L1480.5 39.0L1473.1 43.2L1463.3 42.5L1458.3 43.7L1455.9 46.9L1453.4 48.7L1456.6 53.1L1452.9 55.6L1448.5 60.0L1444.8 61.7L1440.3 65.4L1438.6 61.7L1437.6 55.6L1439.3 50.6L1444.8 46.9L1450.9 42.7L1457.1 39.8L1450.9 38.3L1447.0 37.8L1441.1 39.3L1434.9 44.5L1428.7 45.7L1421.3 44.7L1411.5 45.0L1406.5 45.0L1400.4 47.7L1395.4 51.9L1393.0 56.8L1390.5 56.8L1399.1 59.3L1402.6 62.2L1401.6 67.9L1400.4 71.6L1395.4 75.3L1389.3 81.5L1381.9 85.7L1378.2 85.4L1376.2 86.9L1373.7 90.1L1369.5 92.6L1368.3 93.8L1370.8 96.8L1373.0 100.0L1372.8 104.2L1369.5 105.4L1365.6 106.1L1365.8 102.4L1366.3 98.7L1362.9 98.2L1361.4 96.3L1362.6 93.8L1360.4 92.8L1355.5 91.3L1352.8 95.5L1353.5 93.1L1354.8 90.3L1352.3 90.6L1348.6 92.8L1344.9 94.5L1344.1 96.3L1347.1 98.7L1347.6 99.5L1351.5 98.0L1356.0 99.0L1353.0 100.7L1349.8 102.9L1347.8 105.4L1350.8 109.8L1352.3 112.3L1354.5 114.8L1353.8 116.7L1354.8 117.7L1353.5 120.9L1351.5 123.1L1349.1 127.1L1346.1 130.8L1341.2 134.5L1335.5 136.2L1330.1 137.7L1325.9 139.4L1325.7 141.1L1324.7 138.2L1321.5 137.9L1317.8 139.9L1316.5 141.1L1315.0 144.3L1316.3 146.8L1318.5 150.5L1322.0 153.5L1323.4 159.1L1322.7 162.8L1317.8 165.3L1316.5 167.8L1312.8 170.0L1312.3 165.8L1309.1 165.1L1306.7 160.9L1302.7 157.9L1300.5 159.1L1299.3 165.3L1301.2 170.2L1303.0 174.2L1305.9 175.9L1308.9 181.3L1309.1 184.8L1310.9 187.7L1309.1 188.0L1305.4 185.3L1303.7 183.8L1301.5 180.1L1301.2 177.6L1300.5 173.9L1296.8 171.5L1296.3 167.8L1297.0 164.1L1296.8 157.9L1294.8 150.5L1290.6 150.3L1286.4 151.7L1286.9 146.8L1284.5 143.1L1281.5 139.4L1280.3 135.7L1277.1 136.9L1273.4 137.7L1268.4 138.2L1267.2 141.9L1263.5 143.6L1258.6 148.0L1254.9 151.0L1251.7 153.0L1251.9 159.1L1250.7 162.8L1249.5 165.8L1245.0 171.2L1242.5 169.0L1240.1 162.1L1237.6 155.4L1235.2 150.5L1233.4 144.3L1232.9 138.4L1233.2 136.5L1231.9 137.7L1226.5 139.9L1224.1 136.2L1226.5 135.0L1222.8 133.2L1219.6 130.0L1217.9 128.6L1211.7 128.8L1205.6 129.1L1199.4 128.6L1195.2 127.6L1193.7 124.4L1188.3 125.6L1182.1 122.6L1178.4 118.5L1174.7 116.2L1172.3 117.2L1172.8 120.9L1176.0 124.6L1177.7 127.1L1179.2 130.0L1180.4 127.1L1181.1 131.3L1184.6 131.5L1188.3 131.0L1190.8 128.3L1192.7 126.3L1193.0 130.0L1195.0 132.3L1198.9 133.2L1201.4 136.0L1199.4 140.6L1196.9 140.9L1194.5 144.6L1190.8 147.3L1184.6 150.3L1179.7 153.5L1174.7 155.4L1169.8 157.9L1164.9 159.6L1161.2 159.9L1159.9 156.7L1159.2 153.0L1158.7 150.5L1156.2 146.8L1152.5 141.9L1150.1 138.2L1147.6 132.0L1143.9 127.6L1140.2 122.2L1139.0 122.2L1137.7 122.4L1136.5 121.7L1134.3 117.5M2021.3 114.3L2026.0 114.0L2027.7 111.1L2029.2 107.6L2030.2 103.7L2030.4 101.2L2028.0 100.5L2025.5 101.9L2021.8 102.2L2016.9 101.7L2013.2 100.7L2009.5 100.0L2007.0 96.8L2007.7 93.8L2006.3 92.6L2009.5 91.8L2013.2 90.1L2010.7 90.1L2007.0 91.1L2003.3 90.3L2000.1 90.8L1998.1 91.3L1999.1 93.8L1997.9 96.3L1998.4 97.5L1997.1 101.2L1995.2 100.5L1994.7 98.0L1993.7 96.8L1992.7 95.0L1991.0 93.3L1989.5 90.3L1989.5 88.1L1987.3 86.4L1983.6 84.4L1979.9 82.7L1977.4 80.2L1975.4 78.8L1972.0 79.2L1972.0 81.5L1975.2 83.9L1977.4 87.1L1981.1 88.9L1983.6 90.1L1987.3 92.3L1986.0 92.8L1983.8 91.3L1982.3 93.1L1983.8 95.0L1981.4 97.5L1980.1 97.0L1980.6 93.8L1978.7 91.8L1976.2 90.3L1972.5 88.6L1968.8 86.4L1967.1 83.7L1963.9 81.7L1961.4 82.9L1958.9 83.9L1954.0 84.4L1949.6 84.4L1949.6 87.6L1946.6 89.6L1943.6 90.8L1941.7 93.8L1940.4 96.8L1939.7 98.5L1936.7 100.7L1930.6 100.9L1927.9 102.4L1926.1 100.9L1923.4 99.5L1919.7 100.0L1920.0 95.8L1918.2 93.8L1919.7 90.1L1920.0 86.4L1918.7 85.2L1921.9 83.4L1927.6 83.7L1933.0 83.9L1937.2 84.2L1938.5 81.5L1938.7 77.8L1936.2 74.8L1930.6 73.1L1930.1 71.6L1934.3 70.9L1937.7 71.1L1938.5 68.9L1942.2 69.1L1945.4 67.4L1946.3 65.4L1949.1 64.7L1951.5 63.2L1953.5 60.7L1956.0 59.5L1958.9 59.3L1962.6 58.5L1962.9 55.6L1961.6 51.9L1962.6 50.4L1967.8 48.9L1967.1 51.1L1968.3 52.4L1966.3 54.6L1968.3 57.0L1972.5 57.0L1976.2 58.0L1981.1 57.3L1987.3 56.1L1990.7 56.6L1993.7 54.8L1993.7 51.9L1994.9 49.7L1997.1 48.9L2000.6 50.6L2001.8 47.4L1999.6 46.0L2002.6 44.5L2010.7 44.5L2016.1 43.5L2013.2 42.7L2007.0 42.3L1998.4 43.5L1994.4 41.3L1994.7 37.1L1998.4 33.9L2004.3 30.9L2002.3 28.9L1996.7 29.4L1994.2 32.6L1989.7 34.6L1985.1 37.1L1984.1 40.8L1987.3 42.7L1988.0 44.7L1983.6 46.9L1982.6 50.6L1981.1 52.6L1976.9 54.6L1973.5 54.1L1972.7 52.4L1970.8 48.9L1969.3 45.7L1967.8 43.7L1966.3 45.7L1961.4 47.9L1957.9 47.9L1955.5 46.2L1954.5 43.2L1954.0 39.5L1956.5 37.1L1962.6 34.6L1967.6 32.1L1972.5 28.4L1976.2 24.7L1981.1 22.3L1987.3 19.1L1993.4 18.1L2000.8 16.1L2005.8 16.6L2011.9 16.1L2018.1 18.1L2023.0 19.8L2030.4 21.0L2040.3 24.3L2043.3 26.5L2040.3 28.4L2035.4 28.2L2028.0 27.7L2027.5 32.1L2032.9 33.6L2035.4 31.9L2041.5 32.1L2042.8 28.2L2050.2 27.7L2050.7 22.8L2055.1 24.0L2060.0 24.5L2072.4 22.3L2076.1 22.8L2084.7 21.3L2092.1 19.1L2099.5 20.3L2106.9 22.0L2105.6 17.3L2110.6 14.9L2113.0 11.7L2120.4 11.7L2120.9 16.1L2120.4 19.8L2122.9 23.5L2125.4 22.3L2125.4 17.3L2129.1 13.6L2134.0 12.9L2140.2 13.6L2140.2 9.9L2153.7 7.5L2157.4 5.8L2163.6 5.0L2175.9 3.8L2188.3 1.3L2198.1 -0.4L2203.1 0.6L2206.8 2.6L2215.4 2.1L2221.6 4.3L2220.3 8.7L2217.9 9.5L2232.6 9.9L2242.5 11.2L2254.8 9.9L2259.8 13.6L2267.2 14.9L2274.6 14.6L2284.4 12.9L2289.4 11.9L2301.7 12.9L2311.6 14.9L2316.5 16.4L2328.8 16.1L2336.2 17.3L2341.2 19.6L2353.5 19.1L2360.9 18.3L2373.2 19.1L2381.8 20.3L2385.5 21.3L2390.5 22.3L2397.9 24.5L2407.7 26.2L2410.9 28.2L2407.7 29.7L2404.0 31.4L2402.8 32.6L2396.6 30.9L2389.2 29.7L2383.1 31.4L2378.1 32.1L2381.8 35.8L2383.1 37.6L2378.1 37.1L2368.3 39.0L2360.9 43.2L2351.0 42.5L2346.1 43.7L2343.6 46.9L2341.2 48.7L2344.4 53.1L2340.7 55.6L2336.2 60.0L2332.5 61.7L2328.1 65.4L2326.4 61.7L2325.4 55.6L2327.1 50.6L2332.5 46.9L2338.7 42.7L2344.9 39.8L2338.7 38.3L2334.7 37.8L2328.8 39.3L2322.7 44.5L2316.5 45.7L2309.1 44.7L2299.2 45.0L2294.3 45.0L2288.1 47.7L2283.2 51.9L2280.7 56.8L2278.3 56.8L2286.9 59.3L2290.4 62.2L2289.4 67.9L2288.1 71.6L2283.2 75.3L2277.0 81.5L2269.6 85.7L2265.9 85.4L2264.0 86.9L2261.5 90.1L2257.3 92.6L2256.1 93.8L2258.5 96.8L2260.8 100.0L2260.5 104.2L2257.3 105.4L2253.4 106.1L2253.6 102.4L2254.1 98.7L2250.6 98.2L2249.2 96.3L2250.4 93.8L2248.2 92.8L2243.3 91.3L2240.5 95.5L2241.3 93.1L2242.5 90.3L2240.0 90.6L2236.3 92.8L2232.6 94.5L2231.9 96.3L2234.9 98.7L2235.4 99.5L2239.3 98.0L2243.7 99.0L2240.8 100.7L2237.6 102.9L2235.6 105.4L2238.6 109.8L2240.0 112.3L2242.3 114.8L2241.5 116.7L2242.5 117.7L2241.3 120.9L2239.3 123.1L2236.8 127.1L2233.9 130.8L2228.9 134.5L2223.3 136.2L2217.9 137.7L2213.7 139.4L2213.4 141.1L2212.4 138.2L2209.2 137.9L2205.5 139.9L2204.3 141.1L2202.8 144.3L2204.0 146.8L2206.3 150.5L2209.7 153.5L2211.2 159.1L2210.5 162.8L2205.5 165.3L2204.3 167.8L2200.6 170.0L2200.1 165.8L2196.9 165.1L2194.4 160.9L2190.5 157.9L2188.3 159.1L2187.0 165.3L2189.0 170.2L2190.7 174.2L2193.7 175.9L2196.6 181.3L2196.9 184.8L2198.6 187.7L2196.9 188.0L2193.2 185.3L2191.5 183.8L2189.2 180.1L2189.0 177.6L2188.3 173.9L2184.6 171.5L2184.1 167.8L2184.8 164.1L2184.6 157.9L2182.6 150.5L2178.4 150.3L2174.2 151.7L2174.7 146.8L2172.2 143.1L2169.3 139.4L2168.0 135.7L2164.8 136.9L2161.1 137.7L2156.2 138.2L2155.0 141.9L2151.3 143.6L2146.3 148.0L2142.6 151.0L2139.4 153.0L2139.7 159.1L2138.4 162.8L2137.2 165.8L2132.8 171.2L2130.3 169.0L2127.8 162.1L2125.4 155.4L2122.9 150.5L2121.2 144.3L2120.7 138.4L2120.9 136.5L2119.7 137.7L2114.3 139.9L2111.8 136.2L2114.3 135.0L2110.6 133.2L2107.4 130.0L2105.6 128.6L2099.5 128.8L2093.3 129.1L2087.2 128.6L2083.0 127.6L2081.5 124.4L2076.1 125.6L2069.9 122.6L2066.2 118.5L2062.5 116.2L2060.0 117.2L2060.5 120.9L2063.7 124.6L2065.5 127.1L2066.9 130.0L2068.2 127.1L2068.9 131.3L2072.4 131.5L2076.1 131.0L2078.5 128.3L2080.5 126.3L2080.7 130.0L2082.7 132.3L2086.7 133.2L2089.1 136.0L2087.2 140.6L2084.7 140.9L2082.2 144.6L2078.5 147.3L2072.4 150.3L2067.4 153.5L2062.5 155.4L2057.6 157.9L2052.6 159.6L2048.9 159.9L2047.7 156.7L2047.0 153.0L2046.5 150.5L2044.0 146.8L2040.3 141.9L2037.8 138.2L2035.4 132.0L2031.7 127.6L2028.0 122.2L2026.7 122.2L2025.5 122.4L2024.3 121.7L2022.1 117.5M1125.4 89.8L1122.9 88.4L1122.9 86.4L1124.4 83.2L1127.1 79.7L1129.6 76.8L1132.3 76.3L1136.5 77.8L1134.0 79.2L1136.8 81.5L1140.2 80.7L1143.9 79.5L1141.4 79.0L1140.2 77.0L1146.4 75.1L1150.6 74.8L1148.1 76.3L1146.9 78.3L1145.9 79.7L1147.6 81.7L1151.3 83.7L1156.2 87.6L1156.2 88.9L1152.5 90.1L1147.6 90.3L1142.7 88.4L1140.5 87.6L1135.3 87.6L1131.6 89.6L1125.4 89.8M1175.2 76.8L1180.2 75.1L1184.6 75.8L1184.6 79.5L1180.4 81.5L1179.7 85.2L1183.9 88.1L1184.6 92.6L1186.8 95.0L1186.8 99.2L1182.1 100.5L1177.2 99.0L1174.7 97.5L1175.7 92.1L1173.5 88.1L1171.0 85.2L1169.8 81.5L1170.8 78.5L1175.2 76.8M1039.8 67.9L1044.0 66.9L1050.2 66.4L1055.1 65.9L1057.4 64.7L1056.4 63.5L1058.1 61.2L1054.6 60.5L1054.1 59.3L1052.7 56.8L1050.2 54.3L1049.0 53.1L1046.5 53.1L1047.7 51.9L1049.5 49.4L1046.5 48.9L1044.0 49.2L1046.5 46.7L1041.6 46.7L1039.8 49.4L1040.3 51.9L1039.1 54.3L1041.8 55.6L1041.6 56.3L1045.3 56.1L1046.0 57.5L1046.7 58.8L1046.5 59.8L1042.8 59.5L1043.3 61.0L1043.5 62.5L1041.1 63.5L1043.5 64.0L1046.0 64.4L1043.5 64.9L1041.6 66.2L1039.8 67.9M1927.6 67.9L1931.8 66.9L1938.0 66.4L1942.9 65.9L1945.1 64.7L1944.1 63.5L1945.9 61.2L1942.4 60.5L1941.9 59.3L1940.4 56.8L1938.0 54.3L1936.7 53.1L1934.3 53.1L1935.5 51.9L1937.2 49.4L1934.3 48.9L1931.8 49.2L1934.3 46.7L1929.3 46.7L1927.6 49.4L1928.1 51.9L1926.9 54.3L1929.6 55.6L1929.3 56.3L1933.0 56.1L1933.8 57.5L1934.5 58.8L1934.3 59.8L1930.6 59.5L1931.1 61.0L1931.3 62.5L1928.8 63.5L1931.3 64.0L1933.8 64.4L1931.3 64.9L1929.3 66.2L1927.6 67.9M1926.9 62.5L1926.6 59.8L1926.4 58.0L1928.1 56.8L1926.9 55.1L1923.7 54.8L1921.2 55.1L1920.5 57.3L1917.0 57.5L1917.5 59.5L1919.5 60.0L1917.2 62.5L1916.5 63.5L1918.2 64.2L1921.9 63.5L1925.9 62.5L1926.9 62.5M1887.4 33.4L1886.2 29.7L1882.5 29.7L1887.4 27.5L1894.8 28.2L1901.0 27.2L1905.9 28.4L1908.1 30.7L1905.9 32.4L1901.0 33.9L1895.5 34.9L1889.9 33.6L1887.4 33.4M1084.5 98.0L1086.7 97.0L1092.4 96.8L1091.1 99.2L1091.1 100.7L1089.2 100.0L1085.0 98.5L1084.5 98.0M1074.6 95.0L1074.1 90.3L1076.6 89.6L1078.1 91.3L1077.6 94.5L1076.1 95.0L1074.6 95.0M1075.1 89.1L1075.1 86.6L1077.1 85.2L1077.3 87.4L1076.6 89.1L1075.1 89.1M1111.9 104.2L1114.3 103.7L1118.8 104.4L1115.1 105.1L1111.9 104.2M1133.6 104.9L1135.3 103.9L1139.2 103.2L1137.7 104.9L1135.3 105.9L1133.6 104.9M1250.9 167.0L1253.6 170.2L1255.9 172.7L1255.4 175.4L1252.7 176.7L1250.9 174.4L1250.7 171.5L1250.9 167.0M1175.5 220.8L1178.4 229.4L1176.7 233.1L1174.2 240.5L1171.0 250.4L1169.8 253.1L1165.4 254.1L1162.4 252.4L1161.2 245.5L1163.4 240.5L1162.4 233.1L1167.3 229.9L1171.8 227.0L1173.5 224.5L1175.5 220.8M1376.7 107.4L1380.6 103.9L1383.1 103.7L1388.0 103.4L1391.2 99.5L1392.5 100.5L1395.4 98.7L1398.2 96.3L1399.1 93.1L1399.9 89.6L1402.6 89.1L1403.3 91.3L1404.1 93.5L1402.8 96.8L1401.6 99.5L1401.4 102.7L1399.6 104.6L1398.6 104.9L1397.2 104.4L1396.2 105.9L1392.2 105.9L1391.2 106.6L1388.8 108.6L1387.1 106.6L1384.3 105.9L1380.6 106.6L1377.4 107.6L1376.7 107.4M1399.1 88.9L1399.9 86.4L1398.6 85.9L1402.3 84.4L1403.1 81.5L1403.8 79.0L1406.5 81.2L1410.2 82.9L1412.2 84.4L1412.7 84.7L1408.5 86.6L1407.0 87.6L1403.6 86.1L1401.4 88.1L1399.1 88.9M1374.0 109.1L1375.7 107.6L1376.9 107.6L1378.7 109.3L1378.4 112.3L1377.4 113.8L1376.2 114.8L1375.0 113.8L1375.2 111.8L1374.0 110.6L1374.0 109.1M1380.6 109.8L1381.6 107.4L1384.3 106.4L1386.1 107.1L1385.1 109.1L1382.6 108.8L1381.6 110.3L1380.6 109.8M1404.1 77.8L1403.8 74.1L1404.6 70.4L1404.6 65.4L1403.3 61.7L1405.3 57.3L1407.3 60.5L1407.0 64.2L1409.0 70.4L1406.5 74.8L1407.8 77.3L1405.3 75.8L1404.1 77.8M1352.3 129.5L1354.5 129.3L1353.5 133.2L1351.8 136.9L1350.3 135.0L1350.1 133.0L1352.3 129.5M1322.0 143.9L1323.9 146.3L1326.4 145.3L1327.6 142.6L1326.4 141.6L1323.2 142.1L1322.0 143.9M1351.3 145.6L1353.5 145.3L1355.2 145.6L1355.7 149.3L1353.8 152.5L1353.8 156.2L1356.0 156.2L1359.9 159.1L1357.2 159.1L1353.5 156.9L1351.3 155.9L1351.3 153.2L1349.3 151.0L1350.8 150.5L1351.3 145.6M1354.8 173.9L1357.0 171.2L1360.2 171.0L1363.1 167.0L1365.8 172.7L1365.1 175.7L1363.1 177.4L1359.7 175.9L1354.8 173.9M1360.4 160.4L1362.9 160.9L1363.9 163.8L1361.9 163.1L1360.4 160.4M1360.4 162.8L1362.2 163.3L1362.6 166.3L1361.2 166.0L1360.4 162.8M1354.5 161.9L1357.0 162.8L1356.0 165.1L1354.5 165.1L1354.5 161.9M1357.0 164.3L1358.5 164.6L1357.7 168.8L1355.7 167.0L1357.0 164.3M1359.4 163.6L1359.9 165.3L1358.2 167.8L1358.7 165.6L1359.4 163.6M1342.9 170.5L1346.1 168.3L1348.8 165.3L1348.6 163.3L1346.9 165.8L1344.4 168.5L1342.9 170.5M1350.6 157.9L1353.5 158.6L1352.8 161.1L1351.3 160.4L1350.6 157.9M1288.9 177.4L1294.3 178.4L1296.8 181.3L1301.5 186.0L1304.2 187.0L1307.9 190.0L1309.9 193.7L1311.6 195.6L1315.3 198.8L1314.8 205.5L1311.6 205.7L1307.9 202.3L1304.2 198.1L1301.2 193.7L1298.5 190.0L1296.8 186.8L1293.1 182.6L1288.9 177.4M1313.3 208.0L1315.3 205.7L1320.2 206.7L1326.4 208.2L1331.3 208.2L1336.3 210.2L1336.0 212.4L1328.9 211.7L1321.5 210.4L1316.5 209.4L1313.3 208.0M1322.7 187.5L1324.4 186.3L1327.6 187.3L1331.3 183.8L1334.8 180.1L1338.7 178.1L1341.9 174.2L1344.1 175.4L1347.8 177.9L1344.9 179.1L1344.1 182.6L1344.9 186.3L1347.1 188.7L1344.4 190.0L1343.7 192.4L1341.2 196.1L1341.2 199.8L1339.7 201.1L1336.3 199.8L1332.6 199.1L1329.4 198.6L1325.7 198.4L1325.2 194.9L1322.7 191.9L1322.7 187.5M1348.3 204.8L1348.6 199.8L1346.9 197.9L1348.3 193.7L1349.1 191.2L1350.1 189.5L1352.3 188.0L1356.0 188.7L1359.7 189.0L1362.6 187.3L1360.7 190.2L1357.2 190.0L1353.5 190.0L1350.3 190.7L1351.8 193.7L1354.8 193.4L1358.0 193.2L1356.0 194.9L1353.5 195.6L1356.0 198.6L1357.2 202.3L1356.0 203.5L1353.5 202.3L1352.3 198.6L1350.6 198.4L1350.8 204.8L1348.3 204.8M1376.9 194.4L1380.6 192.2L1384.3 193.4L1384.8 197.4L1388.0 199.3L1393.0 194.9L1399.1 197.1L1404.1 198.8L1410.2 200.8L1413.4 203.5L1417.6 206.0L1416.4 208.0L1418.9 210.9L1422.6 214.6L1425.0 217.1L1421.3 216.6L1416.4 214.6L1413.9 210.9L1409.0 210.2L1407.3 213.4L1401.6 213.6L1396.7 211.2L1394.2 211.9L1393.7 209.4L1395.4 207.2L1391.7 203.5L1386.8 201.8L1383.1 200.6L1379.4 198.4L1381.9 196.6L1379.4 196.1L1376.9 194.4M1359.7 215.9L1362.2 213.4L1367.8 211.9L1364.6 213.4L1360.9 216.4L1359.7 215.9M1349.3 212.2L1353.5 212.2L1357.2 211.7L1354.8 212.9L1349.8 212.9L1349.3 212.2M1341.9 212.4L1344.9 211.4L1347.4 212.2L1343.7 213.4L1341.9 212.4M1369.5 199.3L1374.5 198.6L1376.5 199.8L1370.8 200.1L1369.5 199.3M1368.8 185.8L1370.0 188.2L1371.3 188.7L1369.3 190.2L1371.5 190.5L1369.8 192.2L1368.6 190.0L1368.3 187.5L1368.8 185.8M1364.6 199.1L1367.6 199.1L1366.6 200.6L1364.6 200.1L1364.6 199.1M1419.6 204.8L1422.6 204.8L1425.0 204.8L1427.5 203.3L1429.2 201.6L1427.5 204.8L1423.8 206.5L1420.1 206.0L1419.6 204.8M1425.8 197.6L1428.7 199.1L1431.2 202.3L1430.7 202.8L1427.5 199.8L1425.8 197.6M1435.1 203.5L1438.3 208.0L1437.4 208.2L1435.1 204.8L1435.1 203.5M1447.5 214.1L1450.4 215.4L1449.7 215.6L1447.7 214.9L1447.5 214.1M1449.9 211.9L1451.9 213.9L1451.2 214.4L1449.9 212.9L1449.9 211.9M1451.9 216.4L1454.1 217.6L1453.4 217.8L1451.9 217.1L1451.9 216.4M1439.8 207.5L1442.3 209.2L1441.8 209.4L1439.8 208.2L1439.8 207.5M1464.7 227.5L1466.2 228.7L1466.0 229.7L1464.7 229.2L1464.7 227.5M1466.2 230.7L1467.7 231.6L1467.0 232.1L1466.2 230.7M1468.4 234.4L1469.4 234.6L1468.9 235.1L1468.4 234.4M1458.3 241.0L1462.0 243.0L1465.7 246.2L1464.2 246.2L1459.6 242.5L1458.3 241.0M1491.1 234.6L1493.3 234.1L1494.3 235.8L1491.6 236.1L1491.1 234.6M1494.1 231.6L1497.5 231.4L1496.3 232.6L1494.3 232.6L1494.1 231.6M1557.2 141.4L1559.4 142.6L1558.0 144.6L1557.0 143.1L1557.2 141.4M1547.1 136.7L1552.0 138.2L1555.0 139.4L1557.0 140.6M1555.2 139.4L1557.0 139.9L1556.0 140.4L1555.2 139.4M1551.3 137.9L1552.8 138.4L1551.8 138.7L1551.3 137.9M1547.6 136.5L1548.8 136.7L1548.1 137.2L1547.6 136.5M1223.3 312.3L1227.8 312.0L1226.5 313.8L1224.1 313.5L1223.3 312.3M1790.5 317.7L1794.9 317.7L1799.1 318.2L1797.4 319.9L1793.7 319.9L1790.5 317.7M1333.8 245.5L1335.0 245.0L1340.0 242.5L1346.1 241.3L1352.3 239.3L1355.5 234.4L1358.5 233.1L1360.9 229.4L1363.4 227.0L1367.1 225.2L1370.0 227.9L1373.2 227.7L1375.0 223.3L1376.5 221.8L1379.4 219.6L1381.9 220.3L1386.8 221.3L1391.5 221.3L1389.3 224.5L1388.0 228.2L1391.7 230.7L1396.7 233.9L1401.1 234.4L1402.8 228.2L1403.1 222.0L1405.3 217.6L1407.8 222.0L1408.5 227.0L1412.2 228.2L1412.7 233.1L1414.7 238.1L1420.8 241.3L1423.8 245.5L1426.3 249.2L1431.2 253.3L1432.4 260.2L1431.2 266.4L1430.0 270.1L1426.8 274.8L1424.3 279.5L1423.6 283.7L1418.9 284.4L1414.7 287.6L1411.5 286.1L1409.0 285.6L1404.1 285.9L1400.4 284.9L1398.2 282.9L1396.7 279.0L1394.5 279.0L1395.4 276.5L1394.2 273.1L1393.0 277.3L1391.7 274.6L1389.3 277.0L1387.3 276.3L1384.8 272.1L1381.9 270.4L1377.7 268.9L1372.0 269.4L1364.6 270.9L1359.7 272.6L1354.8 274.8L1349.8 275.0L1344.9 277.5L1339.7 276.5L1337.5 275.8L1339.2 273.3L1339.2 269.6L1337.5 265.2L1336.5 261.5L1333.8 256.5L1334.5 251.6L1333.8 245.5M1410.7 291.6L1415.2 292.6L1419.6 292.1L1419.6 295.3L1418.6 297.7L1415.2 298.7L1412.0 295.3L1410.7 291.6M1479.8 276.0L1481.8 278.0L1484.2 280.0L1486.7 281.9L1487.7 283.9L1491.6 284.7L1494.1 284.2L1492.8 287.4L1490.4 287.9L1489.9 289.8L1486.7 293.5L1484.5 293.0L1485.5 289.8L1483.0 288.6L1482.5 287.6L1484.5 285.2L1484.2 281.9L1481.0 278.2L1479.8 276.0M1479.5 291.1L1481.8 292.3L1483.5 294.0L1481.8 296.7L1480.0 298.7L1476.3 300.7L1475.1 304.1L1471.4 306.1L1467.0 305.1L1464.5 303.4L1467.0 300.9L1469.4 299.7L1474.4 297.2L1476.8 294.3L1478.3 291.8L1479.5 291.1M1527.1 29.4L1532.3 32.1L1533.8 32.1L1539.7 32.1L1544.6 32.4L1544.6 34.6L1539.7 35.8L1535.3 37.1L1532.3 39.5L1533.5 42.0L1537.2 43.2L1540.9 43.5L1542.2 46.4L1550.8 46.4L1554.5 46.7L1553.3 49.4L1547.1 53.1L1540.9 55.1L1535.3 57.0L1539.7 55.8L1544.6 54.3L1550.8 52.4L1555.7 49.4L1560.7 46.9L1563.1 44.5L1567.3 45.2L1571.8 44.2L1576.7 43.2L1580.4 41.3L1586.6 43.2L1594.0 43.7L1597.7 44.2L1602.6 46.7L1605.1 48.2L1607.5 50.6L1611.2 53.1L1616.1 56.3L1619.8 58.0L1621.6 61.0L1626.0 63.5L1627.2 65.7L1632.2 67.7L1635.9 70.4L1638.8 70.4L1639.6 72.8L1634.4 71.8L1635.4 76.5L1635.9 82.7L1634.6 85.7L1635.4 90.1L1636.4 93.1L1639.6 98.0L1641.1 100.9L1644.3 105.9L1649.4 107.4L1652.6 110.6L1653.9 113.5L1655.9 116.2L1660.0 122.2L1660.3 123.1L1664.2 128.3L1666.0 130.8L1670.4 134.7L1671.6 134.0L1669.7 131.5L1667.9 128.3L1665.5 123.4L1663.0 119.7L1659.3 116.0L1658.6 113.0L1663.0 114.3L1665.0 118.5L1667.9 122.4L1671.6 127.1L1674.1 129.5L1679.3 134.0L1681.5 138.2L1681.3 140.6L1684.0 144.3L1690.1 146.8L1695.1 149.5L1700.0 151.5L1704.9 152.5L1708.6 151.3L1712.3 152.7L1714.3 155.4L1718.5 156.9L1723.4 158.6L1725.9 159.1L1727.1 160.4L1729.6 162.8L1730.3 164.1L1730.1 166.5L1732.5 167.0L1734.5 169.0L1736.5 170.7L1739.4 171.0L1743.1 173.2L1744.4 171.5L1745.6 169.3L1748.1 170.5L1749.3 173.2L1749.6 173.4L1750.5 176.4L1751.0 181.3L1749.3 185.0L1747.1 187.7L1744.4 190.0L1743.1 193.7L1743.9 196.6L1743.6 199.8L1741.2 202.3L1741.7 205.5L1744.6 208.0L1746.8 210.9L1749.3 215.9L1751.8 220.8L1753.8 225.2L1756.2 228.9L1762.9 232.6L1766.6 235.1L1768.3 236.8L1768.5 241.8L1767.8 249.2L1767.1 254.1L1765.3 261.5L1765.1 266.4L1765.1 272.6L1763.6 278.7L1761.1 282.4L1760.4 287.4L1759.9 293.5L1759.4 296.0L1758.4 299.7L1755.5 305.9L1756.0 310.8L1756.7 315.7L1759.2 320.7L1765.3 323.9L1769.0 326.8L1775.7 328.8L1780.1 326.8L1777.7 325.6L1774.0 323.1L1773.0 320.2L1771.5 318.2L1771.5 314.5L1774.5 312.0L1779.4 309.1L1775.2 305.9L1776.4 303.4L1780.1 302.2L1781.4 297.2L1783.8 296.0L1781.4 294.8L1781.4 292.3L1786.3 292.3L1788.3 291.1L1788.8 287.4L1793.7 286.9L1799.6 285.2L1801.8 281.0L1800.4 278.7L1797.6 276.5L1799.9 276.0L1803.6 277.3L1808.5 276.5L1811.0 274.3L1814.7 268.9L1817.6 265.2L1821.8 260.2L1822.1 255.3L1825.8 251.6L1830.7 249.6L1835.1 247.7L1838.1 247.7L1840.6 245.5L1842.3 241.3L1843.8 238.1L1845.5 233.1L1845.5 227.0L1846.7 223.3L1849.2 219.6L1853.6 214.6L1855.6 210.9L1854.9 204.8L1849.2 202.8L1844.3 198.6L1839.3 198.4L1832.4 197.4L1827.0 193.7L1822.1 194.2L1818.4 192.4L1817.1 187.5L1815.4 181.3L1811.5 177.6L1806.0 176.4L1801.1 176.4L1797.4 173.9L1793.7 170.5L1790.0 167.0L1787.5 165.3L1783.8 165.1L1778.9 165.1L1774.0 165.3L1769.0 162.8L1765.3 164.1L1764.6 160.6L1761.6 163.3L1757.2 164.1L1755.5 165.8L1754.2 168.0L1752.0 170.2L1750.8 170.0L1749.6 168.0L1744.6 168.0L1741.9 169.5L1738.0 167.8L1735.7 164.6L1735.0 161.6L1736.2 156.7L1736.5 154.2L1733.3 152.0L1729.6 151.7L1724.7 152.2L1723.9 150.5L1724.2 145.6L1725.9 143.1L1727.6 138.4L1724.7 137.9L1719.0 139.4L1718.5 143.1L1716.0 145.6L1708.6 146.3L1705.4 144.8L1703.7 143.1L1701.7 139.4L1700.7 135.7L1701.2 130.8L1701.7 127.1L1701.7 122.9L1704.9 120.7L1707.9 118.9L1711.1 117.7L1716.0 118.7L1721.0 119.2L1721.4 116.5L1724.7 116.0L1728.4 116.2L1731.3 118.0L1734.5 117.2L1737.0 119.7L1737.7 122.9L1739.9 126.6L1741.9 129.1L1743.4 128.8L1744.1 125.9L1743.1 120.9L1741.2 117.2L1741.4 113.5L1744.4 110.6L1748.1 107.6L1749.6 106.9L1753.0 105.6L1755.5 104.4L1754.5 100.5L1754.0 98.7L1755.2 96.8L1756.7 95.5L1757.9 94.3L1759.2 91.3L1764.1 90.1L1767.3 88.9L1769.0 88.4L1767.6 86.4L1767.3 84.9L1770.3 83.2L1775.2 81.5L1776.4 80.2L1780.1 79.5L1782.6 78.5L1782.6 79.5L1779.4 81.2L1778.9 83.2L1782.6 83.2L1785.1 81.2L1791.2 79.7L1793.7 77.8L1792.5 75.3L1790.0 78.0L1786.3 78.5L1782.6 77.3L1781.9 74.1L1780.1 72.8L1783.1 71.6L1777.7 70.1L1772.7 71.6L1769.0 74.1L1766.6 75.8L1771.5 71.6L1776.4 69.6L1782.6 67.4L1791.2 67.4L1796.2 66.7L1800.9 64.2L1804.1 62.2L1803.6 59.3L1799.9 56.8L1794.9 54.8L1790.0 52.6L1789.0 49.4L1786.3 46.9L1782.6 42.5L1780.1 45.7L1775.2 47.4L1770.3 45.7L1769.5 42.0L1766.6 40.5L1760.4 38.3L1750.5 37.1L1749.3 40.8L1750.5 45.7L1752.5 50.6L1751.8 54.3L1747.1 58.0L1745.6 63.0L1743.1 64.7L1739.4 61.7L1738.7 59.3L1739.0 55.3L1732.1 54.8L1724.7 51.9L1718.5 50.1L1713.6 50.6L1709.9 46.4L1708.6 43.2L1711.1 39.5L1717.3 37.1L1719.7 33.9L1724.7 32.9L1727.1 30.4L1729.6 28.4L1732.1 27.2L1734.5 24.7L1738.2 23.5L1740.7 21.0L1738.2 19.3L1732.1 19.1L1729.6 22.3L1724.7 23.0L1721.0 21.0L1718.5 22.3L1716.0 18.6L1713.6 14.9L1708.6 13.6L1706.2 16.1L1703.7 19.8L1700.0 23.5L1690.1 24.0L1680.3 22.5L1674.1 23.0L1670.4 23.5L1663.0 24.0L1658.1 24.0L1660.5 21.5L1653.1 21.0L1645.7 20.1L1638.3 19.8L1634.6 18.6L1630.9 19.8L1626.0 17.3L1621.1 18.6L1613.7 19.6L1608.8 20.3L1602.6 21.0L1594.0 19.6L1586.6 18.3L1579.2 17.8L1571.8 17.3L1564.4 16.4L1555.7 15.4L1549.6 16.6L1542.2 17.8L1537.2 19.1L1531.8 21.3L1537.2 23.5L1539.7 26.0L1536.0 27.0L1532.3 28.0L1527.1 29.4M1732.3 137.2L1737.0 134.7L1741.9 134.0L1745.6 135.2L1750.5 137.4L1755.2 139.2L1758.7 141.1L1755.5 142.1L1750.1 142.1L1751.0 140.2L1748.1 137.9L1743.1 136.9L1739.9 136.5L1737.5 135.5L1734.5 137.2L1732.3 137.2M1757.9 145.8L1762.1 142.1L1769.0 142.6L1773.0 145.3L1770.3 146.3L1765.6 147.8L1762.9 146.3L1757.9 145.8M1748.3 145.8L1753.5 146.3L1752.3 147.1L1749.3 146.3L1748.3 145.8M1775.9 145.6L1779.9 145.8L1779.4 146.8L1775.9 146.8L1775.9 145.6M1795.2 73.8L1803.6 68.1L1804.8 64.0L1809.7 69.9L1811.5 73.8L1809.2 76.0L1804.8 75.3L1802.3 73.8L1795.2 73.8M1625.0 65.9L1628.5 66.4L1633.4 67.9L1637.6 71.8L1633.9 71.4L1629.7 69.1L1625.0 65.9M1560.4 48.4L1566.3 47.7L1565.6 49.9L1561.4 51.6L1560.4 48.4M1834.4 43.7L1829.5 42.0L1823.3 39.5L1817.1 34.6L1813.4 30.9L1809.7 27.2L1811.0 23.5L1815.9 21.0L1809.7 18.6L1813.4 16.1L1806.0 12.4L1801.1 7.5L1796.2 4.3L1783.8 3.3L1772.7 2.6L1761.6 -1.1L1764.1 -3.6L1781.4 -7.3L1793.7 -11.0L1818.4 -12.2L1843.0 -14.7L1867.7 -14.7L1892.3 -11.0L1904.7 -8.5L1897.3 -4.8L1893.6 1.3L1896.0 6.2L1889.9 11.2L1883.7 17.3L1887.4 18.6L1880.0 22.3L1865.2 23.5L1856.6 28.4L1848.0 29.4L1843.0 30.9L1840.6 34.6L1836.9 39.5L1834.4 43.7M1781.4 38.6L1774.0 37.1L1765.3 34.6L1760.4 32.1L1750.5 32.1L1749.3 29.7L1759.2 26.5L1761.6 23.5L1754.2 19.8L1746.8 18.6L1737.0 18.6L1727.1 17.3L1721.0 14.9L1724.7 9.9L1732.1 9.9L1744.4 9.9L1751.8 12.4L1761.6 14.9L1769.0 17.3L1774.0 18.6L1776.4 21.0L1783.8 24.7L1788.8 26.5L1785.1 29.7L1781.4 32.1L1782.6 34.6L1781.4 38.6M1648.2 14.9L1651.9 11.7L1663.0 11.2L1677.8 9.9L1684.0 11.2L1690.1 18.6L1682.7 21.0L1670.4 22.0L1660.5 20.3L1650.7 18.6L1648.2 14.9M1632.2 13.9L1635.9 9.9L1644.5 8.0L1655.6 10.4L1648.2 14.1L1638.3 16.1L1632.2 13.9M1728.4 33.4L1734.5 28.9L1740.7 32.1L1737.0 33.9L1728.4 33.4M1706.2 13.2L1711.1 8.7L1718.5 9.2L1712.3 13.2L1706.2 13.2M1692.6 14.9L1688.9 11.7L1697.5 9.0L1702.5 11.2L1700.0 14.1L1692.6 14.9M1716.0 7.0L1732.1 7.5L1743.1 7.2L1744.4 3.3L1722.2 2.6L1714.8 4.3L1716.0 7.0M1721.0 2.6L1737.0 3.3L1749.3 2.6L1756.7 -2.4L1764.1 -4.8L1774.0 -7.3L1788.8 -11.0L1781.4 -13.0L1756.7 -13.7L1732.1 -12.2L1717.3 -9.8L1712.3 -7.3L1714.8 -4.8L1722.2 -2.4L1721.0 2.6M1653.1 6.2L1670.4 7.5L1681.5 5.0L1675.3 2.6L1660.5 2.6L1653.1 6.2M1693.8 6.7L1701.2 6.2L1702.5 2.6L1692.6 3.8L1693.8 6.7M1640.8 2.6L1653.1 3.3L1655.6 0.1L1643.3 1.3L1640.8 2.6M1081.0 -2.4L1090.9 1.3L1095.8 2.3L1099.5 0.1L1108.2 -1.6L1120.5 -3.6L1103.2 -6.8L1083.5 -5.6L1081.0 -2.4M1182.1 15.4L1189.5 12.4L1196.9 7.5L1206.8 4.3L1224.1 1.3L1216.7 3.3L1204.3 6.2L1195.7 9.9L1192.0 12.9L1190.8 16.1L1182.1 15.4M1393.0 7.5L1404.1 9.2L1407.8 9.9L1413.9 6.2L1401.6 3.8L1394.2 5.0L1393.0 7.5M1418.9 6.2L1425.0 5.8L1421.3 4.8L1418.9 6.2M1494.3 16.1L1499.0 14.9L1502.7 15.6L1497.8 16.6L1494.3 16.1M1288.2 -2.4L1300.5 -1.1L1312.8 -2.4L1310.4 -4.8L1293.1 -6.1L1288.2 -2.4M1169.8 -6.1L1189.5 -6.1L1201.9 -7.3L1189.5 -9.0L1169.8 -6.1M166.1 367.0L186.1 363.1L194.0 366.3L200.4 363.1L220.9 363.8L222.4 366.3L244.6 363.1L251.0 359.9L261.8 363.1L291.9 355.9L301.3 352.7L307.7 354.4L317.1 358.4L336.0 358.4L337.8 362.3L334.6 366.3L337.8 369.5L340.7 368.5L348.6 363.8L358.2 362.3L370.8 356.7L383.4 355.2L402.4 357.7L418.2 353.7L430.7 356.7L446.5 353.7L460.8 356.7L468.7 355.2L500.0 352.7L503.2 355.9L525.2 355.9L531.6 359.1L555.3 362.3L567.9 366.3L586.8 367.0L588.3 369.5L577.5 373.4L571.1 378.9L577.5 384.3L567.9 386.0L561.7 390.7L571.1 394.6L594.7 398.6L634.2 397.9L665.8 401.8L681.5 401.1L702.0 400.1L680.1 400.1L676.8 392.2L670.4 390.7L692.6 389.2L669.0 384.3L665.0 381.3L684.7 382.1L695.8 377.4L721.0 374.2L744.7 372.5L763.7 372.5L775.2 374.2L783.1 375.7L798.9 374.9L817.9 371.7L835.2 371.0L854.2 372.5L869.9 373.4L888.7 367.8L890.4 355.9L901.5 349.8L914.1 347.3L895.1 355.9L901.5 362.3L906.2 371.7L898.3 376.4L871.4 380.3L865.3 382.8L862.0 386.0L871.4 390.0L893.6 390.7L912.6 396.1L925.2 393.2L948.8 392.2L985.1 389.2L967.8 385.3L980.4 382.8L1004.1 378.1L1019.9 371.7L1035.7 366.3L1053.9 366.5M1053.9 367.0L1073.9 363.1L1081.8 366.3L1088.2 363.1L1108.6 363.8L1110.1 366.3L1132.3 363.1L1138.7 359.9L1149.6 363.1L1179.7 355.9L1189.0 352.7L1195.4 354.4L1204.8 358.4L1223.8 358.4L1225.5 362.3L1222.3 366.3L1225.5 369.5L1228.5 368.5L1236.4 363.8L1246.0 362.3L1258.6 356.7L1271.2 355.2L1290.1 357.7L1305.9 353.7L1318.5 356.7L1334.3 353.7L1348.6 356.7L1356.5 355.2L1387.8 352.7L1391.0 355.9L1412.9 355.9L1419.4 359.1L1443.0 362.3L1455.6 366.3L1474.6 367.0L1476.1 369.5L1465.2 373.4L1458.8 378.9L1465.2 384.3L1455.6 386.0L1449.4 390.7L1458.8 394.6L1482.5 398.6L1521.9 397.9L1553.5 401.8L1569.3 401.1L1589.8 400.1L1567.8 400.1L1564.6 392.2L1558.2 390.7L1580.4 389.2L1556.7 384.3L1552.8 381.3L1572.5 382.1L1583.6 377.4L1608.8 374.2L1632.4 372.5L1651.4 372.5L1663.0 374.2L1670.9 375.7L1686.7 374.9L1705.7 371.7L1722.9 371.0L1741.9 372.5L1757.7 373.4L1776.4 367.8L1778.2 355.9L1789.3 349.8L1801.8 347.3L1782.8 355.9L1789.3 362.3L1793.9 371.7L1786.1 376.4L1759.2 380.3L1753.0 382.8L1749.8 386.0L1759.2 390.0L1781.4 390.7L1800.4 396.1L1812.9 393.2L1836.6 392.2L1872.9 389.2L1855.6 385.3L1868.2 382.8L1891.8 378.1L1907.6 371.7L1923.4 366.3L1941.7 366.5M1941.7 367.0L1961.6 363.1L1969.5 366.3L1975.9 363.1L1996.4 363.8L1997.9 366.3L2020.1 363.1L2026.5 359.9L2037.3 363.1L2067.4 355.9L2076.8 352.7L2083.2 354.4L2092.6 358.4L2111.6 358.4L2113.3 362.3L2110.1 366.3L2113.3 369.5L2116.3 368.5L2124.1 363.8L2133.8 362.3L2146.3 356.7L2158.9 355.2L2177.9 357.7L2193.7 353.7L2206.3 356.7L2222.0 353.7L2236.3 356.7L2244.2 355.2L2275.6 352.7L2278.8 355.9L2300.7 355.9L2307.1 359.1L2330.8 362.3L2343.4 366.3L2362.4 367.0L2363.8 369.5L2353.0 373.4L2346.6 378.9L2353.0 384.3L2343.4 386.0L2337.2 390.7L2346.6 394.6L2370.3 398.6L2409.7 397.9L2441.3 401.8L2457.1 401.1L2477.5 400.1L2455.6 400.1L2452.4 392.2L2446.0 390.7L2468.2 389.2L2444.5 384.3L2440.5 381.3L2460.3 382.1L2471.4 377.4L2496.5 374.2L2520.2 372.5L2539.2 372.5L2550.8 374.2L2558.7 375.7L2574.4 374.9L2593.4 371.7L2610.7 371.0L2629.7 372.5L2645.5 373.4L2664.2 367.8L2665.9 355.9L2677.0 349.8L2689.6 347.3L2670.6 355.9L2677.0 362.3L2681.7 371.7L2673.8 376.4L2646.9 380.3L2640.8 382.8L2637.6 386.0L2646.9 390.0L2669.1 390.7L2688.1 396.1L2700.7 393.2L2724.4 392.2L2760.6 389.2L2743.4 385.3L2755.9 382.8L2779.6 378.1L2795.4 371.7L2811.2 366.3L2829.4 366.5M1539.7 384.3L1548.8 385.0L1544.6 386.8L1539.7 384.3M1691.4 368.8L1705.7 369.2L1700.0 370.7L1691.4 369.5L1691.4 368.8M1764.1 362.6L1770.3 365.1L1766.6 368.8L1760.4 367.5L1764.1 362.6M1813.4 389.7L1825.8 387.2L1835.6 389.2L1823.3 391.4L1813.4 389.7M1707.4 -2.4L1717.3 -1.6L1724.7 -6.1L1716.0 -9.0L1707.4 -7.3L1707.4 -2.4M1697.5 21.5L1704.9 22.8L1706.2 19.8L1700.0 18.8L1697.5 21.5M1744.4 11.2L1753.0 11.9L1751.8 9.2L1744.4 9.7L1744.4 11.2M1703.7 6.7L1711.1 7.2L1711.1 4.3L1703.7 4.8L1703.7 6.7M1735.7 37.1L1741.9 37.6L1739.4 35.8L1735.7 37.1M1518.0 33.9L1524.9 35.1L1521.2 35.8L1518.0 33.9M1529.8 42.7L1533.5 43.2L1531.8 43.7L1529.8 42.7M1685.2 -1.1L1695.1 -1.6L1693.8 -3.4L1686.4 -3.1L1685.2 -1.1M1701.2 -0.9L1706.2 -1.4L1703.7 -2.9L1700.0 -2.4L1701.2 -0.9M1665.5 0.6L1675.3 -0.4L1670.4 -1.4L1663.0 -0.7L1665.5 0.6M1667.9 -1.6L1682.7 -1.9L1680.3 -3.1L1667.9 -2.6L1667.9 -1.6M1695.1 -5.6L1698.8 -5.8L1696.3 -6.6L1695.1 -5.6M1682.7 6.2L1685.2 5.8L1684.0 5.0L1682.7 6.2M1680.3 0.8L1685.2 0.6L1682.7 -0.2L1680.3 0.8M1743.1 38.6L1745.6 39.3L1744.4 37.6L1743.1 38.6M1748.1 35.3L1751.3 35.1L1749.8 34.4L1748.1 35.3M1690.1 3.8L1696.3 3.3L1693.8 2.3L1690.1 3.8" fill="none" stroke="#000" stroke-width="2.2" stroke-linejoin="round"/>
</g>
<rect x="1053.9" y="-30.7" width="887.8" height="443.9" fill="none" stroke="#111" stroke-width="1.6"/>
<clipPath id="clipc"><rect x="88.5" y="519.1" width="878.8" height="439.4"/></clipPath>
<g clip-path="url(#clipc)">
<rect x="88.5" y="519.1" width="878.8" height="439.4" fill="#f4f4f4"/>
<g filter="url(#cm)"><rect x="88.5" y="519.1" width="878.8" height="439.4" fill="#808080"/><g filter="url(#b8)"><ellipse cx="278.9" cy="729" rx="43.9" ry="12.2" fill="#fff" fill-opacity="0.17"/></g><g filter="url(#b12)"><ellipse cx="288.7" cy="787.6" rx="53.7" ry="26.9" fill="#fff" fill-opacity="0.17"/></g><g filter="url(#b8)"><ellipse cx="235" cy="763.2" rx="24.4" ry="12.2" fill="#fff" fill-opacity="0.10"/></g><g filter="url(#b6)"><ellipse cx="225.2" cy="770.5" rx="17.1" ry="9.8" fill="#000" fill-opacity="0.10"/><ellipse cx="117.8" cy="768" rx="12.2" ry="14.6" fill="#fff" fill-opacity="0.12"/><ellipse cx="996.6" cy="768" rx="12.2" ry="14.6" fill="#fff" fill-opacity="0.12"/></g><g filter="url(#b10)"><ellipse cx="152" cy="792.5" rx="29.3" ry="22" fill="#000" fill-opacity="0.20"/></g><g filter="url(#b12)"><ellipse cx="137.3" cy="646" rx="61" ry="14.6" fill="#000" fill-opacity="0.06"/><ellipse cx="1016.1" cy="646" rx="61" ry="14.6" fill="#000" fill-opacity="0.06"/><ellipse cx="88.5" cy="599.6" rx="29.3" ry="24.4" fill="#fff" fill-opacity="0.10"/><ellipse cx="967.3" cy="599.6" rx="29.3" ry="24.4" fill="#fff" fill-opacity="0.10"/><ellipse cx="161.7" cy="880.3" rx="97.6" ry="12.2" fill="#fff" fill-opacity="0.06"/><ellipse cx="1040.5" cy="880.3" rx="97.6" ry="12.2" fill="#fff" fill-opacity="0.06"/><ellipse cx="27.5" cy="799.8" rx="36.6" ry="24.4" fill="#fff" fill-opacity="0.08"/><ellipse cx="906.2" cy="799.8" rx="36.6" ry="24.4" fill="#fff" fill-opacity="0.08"/><ellipse cx="711" cy="702.1" rx="29.3" ry="19.5" fill="#fff" fill-opacity="0.10"/></g><g filter="url(#b15)"><ellipse cx="15.3" cy="611.8" rx="61" ry="26.9" fill="#000" fill-opacity="0.10"/><ellipse cx="894" cy="611.8" rx="61" ry="26.9" fill="#000" fill-opacity="0.10"/></g><g filter="url(#b14)"><ellipse cx="515.7" cy="685" rx="97.6" ry="26.9" fill="#000" fill-opacity="0.24" transform="rotate(-8 515.7 685)"/></g><g filter="url(#b12)"><ellipse cx="637.7" cy="636.2" rx="29.3" ry="31.7" fill="#fff" fill-opacity="0.20"/><ellipse cx="808.6" cy="650.9" rx="41.5" ry="24.4" fill="#fff" fill-opacity="0.18" transform="rotate(-20 808.6 650.9)"/><polyline points="588.9,772.9 637.7,797.3 686.5,836.4" fill="none" stroke="#fff" stroke-opacity="0.15" stroke-width="26.9" stroke-linecap="round" stroke-linejoin="round"/></g><g filter="url(#b10)"><polyline points="444.9,763.2 503.5,775.4 564.5,792.5 613.3,814.4" fill="none" stroke="#000" stroke-opacity="0.30" stroke-width="29.3" stroke-linecap="round" stroke-linejoin="round"/></g><g filter="url(#b8)"><polyline points="381.4,685 418,660.6 459.5,641.1" fill="none" stroke="#fff" stroke-opacity="0.18" stroke-width="14.6" stroke-linecap="round" stroke-linejoin="round"/></g><g filter="url(#b6)"><ellipse cx="747.6" cy="677.7" rx="19.5" ry="12.2" fill="#fff" fill-opacity="0.22"/></g><g filter="url(#b7)"><ellipse cx="823.2" cy="809.5" rx="14.6" ry="22" fill="#fff" fill-opacity="0.28" transform="rotate(20 823.2 809.5)"/></g><g filter="url(#b8)"><ellipse cx="820.8" cy="751" rx="36.6" ry="22" fill="#000" fill-opacity="0.25"/><ellipse cx="796.4" cy="714.3" rx="29.3" ry="9.8" fill="#000" fill-opacity="0.20"/><ellipse cx="386.3" cy="770.5" rx="34.2" ry="14.6" fill="#000" fill-opacity="0.20"/></g><g filter="url(#b6)"><polyline points="479.1,768 523,777.8" fill="none" stroke="#000" stroke-opacity="0.15" stroke-width="14.6" stroke-linecap="round" stroke-linejoin="round"/></g><g filter="url(#b7)"><polyline points="-28.7,735.1 39.7,736.3 78.7,736.3" fill="none" stroke="#000" stroke-opacity="0.25" stroke-width="17.1" stroke-linecap="round" stroke-linejoin="round"/><polyline points="850.1,735.1 918.4,736.3 957.5,736.3" fill="none" stroke="#000" stroke-opacity="0.25" stroke-width="17.1" stroke-linecap="round" stroke-linejoin="round"/></g><g filter="url(#b5)"><ellipse cx="869.6" cy="735.1" rx="19.5" ry="7.3" fill="#000" fill-opacity="0.15"/></g><g filter="url(#b3)"><ellipse cx="833" cy="742.4" rx="7.3" ry="4.9" fill="#000" fill-opacity="0.45"/></g><g filter="url(#b7)"><ellipse cx="454.6" cy="713.1" rx="73.2" ry="9.8" fill="#000" fill-opacity="0.28"/></g><g filter="url(#b6)"><ellipse cx="391.2" cy="716.8" rx="22" ry="15.9" fill="#000" fill-opacity="0.50"/></g><g filter="url(#b3_5)"><polyline points="386.3,720.4 479.1,722.2 576.7,722.9 649.9,723.1 669.5,723.4" fill="none" stroke="#000" stroke-opacity="0.68" stroke-width="12.2" stroke-linecap="round" stroke-linejoin="round"/><polyline points="669.5,723.4 689,723.9" fill="none" stroke="#000" stroke-opacity="0.35" stroke-width="8.5" stroke-linecap="round" stroke-linejoin="round"/></g><g filter="url(#b9)"><ellipse cx="606" cy="763.2" rx="31.7" ry="14.6" fill="#fff" fill-opacity="0.40" transform="rotate(25 606 763.2)"/></g><g filter="url(#b7)"><ellipse cx="518.1" cy="742.4" rx="39.1" ry="15.9" fill="#fff" fill-opacity="0.50"/></g><g filter="url(#b2_5)"><linearGradient id="g5" gradientUnits="userSpaceOnUse" x1="501" y1="0" x2="774.4" y2="0"><stop offset="0.000" stop-color="#fff" stop-opacity="0.70"/><stop offset="0.080" stop-color="#fff" stop-opacity="1.00"/><stop offset="0.339" stop-color="#fff" stop-opacity="1.00"/><stop offset="0.393" stop-color="#fff" stop-opacity="0.88"/><stop offset="0.723" stop-color="#fff" stop-opacity="0.84"/><stop offset="0.830" stop-color="#fff" stop-opacity="0.65"/><stop offset="1.000" stop-color="#fff" stop-opacity="0.25"/></linearGradient><polygon points="505.9,737.5 540.1,731.9 579.1,727 613.3,723.6 654.8,721.7 703.6,722.2 735.4,725.1 762.2,729 774.4,730.9 762.2,732.6 728,734.4 703.6,737.5 654.8,742.4 610.9,749.7 598.7,757.1 576.7,759.7 552.3,758.8 523,754.4 505.9,746.1" fill="url(#g5)"/></g></g>
<path d="M74.1 651.4L71.9 655.8L67.8 657.5L65.8 659.7L64.6 663.1L65.1 664.5L62.9 667.5L60.4 669.7L56.3 671.6L53.1 675.3L51.9 678.2L49.4 680.9L48.7 684.1L47.0 687.5L49.0 691.2L48.2 697.3L48.2 699.7L45.8 702.9L47.5 705.8L47.7 708.7L50.7 710.7L53.1 713.1L56.0 716.0L58.0 720.4L61.6 722.4L65.3 725.3L70.2 728.0L76.3 726.3L81.2 726.3L83.6 727.0L88.5 725.1L92.2 723.6L94.6 723.1L99.5 723.4L101.9 726.5L104.4 728.3L106.8 727.8L109.2 727.3L111.7 729.2L112.4 732.6L111.7 736.3L111.2 740.0L112.9 744.9L116.6 748.5L118.5 753.4L120.7 759.5L122.2 765.6L119.0 771.7L117.3 777.8L117.3 782.7L120.2 787.6L123.9 793.7L125.1 802.2L128.8 808.6L131.2 814.4L133.2 820.5L133.7 822.5L137.3 823.7L142.2 822.2L150.7 821.7L155.6 819.8L161.7 814.4L164.9 810.3L167.8 807.1L168.8 802.2L173.9 798.6L175.2 792.5L173.9 788.8L177.6 785.1L183.7 780.2L187.4 775.4L187.4 765.6L184.9 758.3L184.4 754.6L183.7 751.0L187.4 744.9L189.8 742.4L193.5 736.3L198.3 733.9L203.2 729.0L206.9 724.1L209.3 718.0L212.5 713.1L213.7 709.9L208.1 711.4L200.8 712.6L195.9 713.4L194.2 710.7L193.0 708.2L189.8 705.1L186.1 700.9L184.4 700.2L182.5 694.8L179.5 692.4L178.8 687.5L177.6 683.8L175.2 680.2L172.7 675.3L170.3 671.6L168.1 665.8L167.3 662.6L161.7 662.1L156.8 663.1L149.5 661.6L145.9 660.1L139.8 658.4L137.3 660.9L137.3 663.6L134.9 664.8L131.2 663.1L126.3 661.6L125.1 659.7L120.2 658.4L115.8 657.5L113.6 656.2L114.6 653.3L115.4 649.7L112.9 647.9L109.2 648.7L104.4 648.4L98.3 648.7L93.4 649.4L88.5 651.1L84.8 652.8L81.2 652.6L76.3 652.6L74.1 651.4M952.9 651.4L950.7 655.8L946.5 657.5L944.6 659.7L943.3 663.1L943.8 664.5L941.6 667.5L939.2 669.7L935.0 671.6L931.9 675.3L930.6 678.2L928.2 680.9L927.5 684.1L925.8 687.5L927.7 691.2L927.0 697.3L927.0 699.7L924.5 702.9L926.3 705.8L926.5 708.7L929.4 710.7L931.9 713.1L934.8 716.0L936.7 720.4L940.4 722.4L944.1 725.3L949.0 728.0L955.1 726.3L959.9 726.3L962.4 727.0L967.3 725.1L970.9 723.6L973.4 723.1L978.2 723.4L980.7 726.5L983.1 728.3L985.6 727.8L988.0 727.3L990.4 729.2L991.2 732.6L990.4 736.3L990.0 740.0L991.7 744.9L995.3 748.5L997.3 753.4L999.5 759.5L1000.9 765.6L997.8 771.7L996.1 777.8L996.1 782.7L999.0 787.6L1002.7 793.7L1003.9 802.2L1007.5 808.6L1010.0 814.4L1011.9 820.5L1012.4 822.5L1016.1 823.7L1021.0 822.2L1029.5 821.7L1034.4 819.8L1040.5 814.4L1043.7 810.3L1046.6 807.1L1047.6 802.2L1052.7 798.6L1053.9 792.5L1052.7 788.8L1056.4 785.1L1062.5 780.2L1066.1 775.4L1066.1 765.6L1063.7 758.3L1063.2 754.6L1062.5 751.0L1066.1 744.9L1068.6 742.4L1072.2 736.3L1077.1 733.9L1082.0 729.0L1085.6 724.1L1088.1 718.0L1091.3 713.1L1092.5 709.9L1086.9 711.4L1079.5 712.6L1074.7 713.4L1073.0 710.7L1071.7 708.2L1068.6 705.1L1064.9 700.9L1063.2 700.2L1061.2 694.8L1058.3 692.4L1057.6 687.5L1056.4 683.8L1053.9 680.2L1051.5 675.3L1049.0 671.6L1046.8 665.8L1046.1 662.6L1040.5 662.1L1035.6 663.1L1028.3 661.6L1024.6 660.1L1018.5 658.4L1016.1 660.9L1016.1 663.6L1013.6 664.8L1010.0 663.1L1005.1 661.6L1003.9 659.7L999.0 658.4L994.6 657.5L992.4 656.2L993.4 653.3L994.1 649.7L991.7 647.9L988.0 648.7L983.1 648.4L977.0 648.7L972.1 649.4L967.3 651.1L963.6 652.8L959.9 652.6L955.1 652.6L952.9 651.4M167.3 662.6L172.0 662.3L173.7 659.4L175.2 656.0L176.1 652.1L176.4 649.7L173.9 648.9L171.5 650.4L167.8 650.6L163.0 650.1L159.3 649.2L155.6 648.4L153.2 645.3L153.9 642.3L152.5 641.1L155.6 640.4L159.3 638.7L156.8 638.7L153.2 639.6L149.5 638.9L146.4 639.4L144.4 639.9L145.4 642.3L144.2 644.8L144.6 646.0L143.4 649.7L141.5 648.9L141.0 646.5L140.0 645.3L139.0 643.6L137.3 641.8L135.9 638.9L135.9 636.7L133.7 635.0L130.0 633.1L126.3 631.3L123.9 628.9L121.9 627.4L118.5 627.9L118.5 630.1L121.7 632.6L123.9 635.7L127.6 637.4L130.0 638.7L133.7 640.9L132.4 641.4L130.2 639.9L128.8 641.6L130.2 643.6L127.8 646.0L126.6 645.5L127.1 642.3L125.1 640.4L122.7 638.9L119.0 637.2L115.4 635.0L113.6 632.3L110.5 630.4L108.0 631.6L105.6 632.6L100.7 633.1L96.3 633.1L96.3 636.2L93.4 638.2L90.5 639.4L88.5 642.3L87.3 645.3L86.5 647.0L83.6 649.2L77.5 649.4L74.8 650.9L73.1 649.4L70.4 647.9L66.8 648.4L67.0 644.3L65.3 642.3L66.8 638.7L67.0 635.0L65.8 633.8L69.0 632.1L74.6 632.3L80.0 632.6L84.1 632.8L85.3 630.1L85.6 626.5L83.1 623.5L77.5 621.8L77.0 620.4L81.2 619.6L84.6 619.9L85.3 617.7L89.0 617.9L92.2 616.2L93.1 614.3L95.8 613.5L98.3 612.1L100.2 609.6L102.7 608.4L105.6 608.2L109.2 607.4L109.5 604.5L108.3 600.8L109.2 599.4L114.4 597.9L113.6 600.1L114.9 601.3L112.9 603.5L114.9 606.0L119.0 606.0L122.7 606.9L127.6 606.2L133.7 605.0L137.1 605.5L140.0 603.8L140.0 600.8L141.2 598.6L143.4 597.9L146.8 599.6L148.1 596.4L145.9 595.0L148.8 593.5L156.8 593.5L162.2 592.5L159.3 591.8L153.2 591.3L144.6 592.5L140.7 590.3L141.0 586.2L144.6 583.0L150.5 580.1L148.5 578.1L142.9 578.6L140.5 581.8L136.1 583.7L131.5 586.2L130.5 589.8L133.7 591.8L134.4 593.8L130.0 596.0L129.0 599.6L127.6 601.6L123.4 603.5L120.0 603.0L119.3 601.3L117.3 597.9L115.8 594.7L114.4 592.8L112.9 594.7L108.0 596.9L104.6 596.9L102.2 595.2L101.2 592.3L100.7 588.6L103.1 586.2L109.2 583.7L114.1 581.3L119.0 577.6L122.7 574.0L127.6 571.5L133.7 568.4L139.8 567.4L147.1 565.4L152.0 565.9L158.1 565.4L164.2 567.4L169.1 569.1L176.4 570.3L186.1 573.5L189.1 575.7L186.1 577.6L181.3 577.4L173.9 576.9L173.4 581.3L178.8 582.8L181.3 581.1L187.4 581.3L188.6 577.4L195.9 576.9L196.4 572.0L200.8 573.3L205.7 573.7L217.9 571.5L221.5 572.0L230.1 570.6L237.4 568.4L244.7 569.6L252.0 571.3L250.8 566.7L255.7 564.2L258.1 561.0L265.5 561.0L266.0 565.4L265.5 569.1L267.9 572.8L270.4 571.5L270.4 566.7L274.0 563.0L278.9 562.3L285.0 563.0L285.0 559.3L298.4 556.9L302.1 555.2L308.2 554.5L320.4 553.2L332.6 550.8L342.4 549.1L347.2 550.1L350.9 552.0L359.5 551.5L365.6 553.7L364.3 558.1L361.9 558.8L376.5 559.3L386.3 560.6L398.5 559.3L403.4 563.0L410.7 564.2L418.0 564.0L427.8 562.3L432.7 561.3L444.9 562.3L454.6 564.2L459.5 565.7L471.7 565.4L479.1 566.7L483.9 568.9L496.1 568.4L503.5 567.6L515.7 568.4L524.2 569.6L527.9 570.6L532.8 571.5L540.1 573.7L549.8 575.4L553.0 577.4L549.8 578.9L546.2 580.6L545.0 581.8L538.9 580.1L531.5 578.9L525.4 580.6L520.6 581.3L524.2 585.0L525.4 586.7L520.6 586.2L510.8 588.1L503.5 592.3L493.7 591.6L488.8 592.8L486.4 596.0L483.9 597.7L487.1 602.1L483.5 604.5L479.1 608.9L475.4 610.6L471.0 614.3L469.3 610.6L468.3 604.5L470.0 599.6L475.4 596.0L481.5 591.8L487.6 588.9L481.5 587.4L477.6 586.9L471.7 588.4L465.6 593.5L459.5 594.7L452.2 593.8L442.4 594.0L437.6 594.0L431.5 596.7L426.6 600.8L424.1 605.7L421.7 605.7L430.2 608.2L433.7 611.1L432.7 616.7L431.5 620.4L426.6 624.0L420.5 630.1L413.2 634.3L409.5 634.0L407.5 635.5L405.1 638.7L400.9 641.1L399.7 642.3L402.2 645.3L404.4 648.4L404.1 652.6L400.9 653.8L397.0 654.5L397.3 650.9L397.8 647.2L394.4 646.7L392.9 644.8L394.1 642.3L391.9 641.4L387.0 639.9L384.3 644.0L385.1 641.6L386.3 638.9L383.9 639.2L380.2 641.4L376.5 643.1L375.8 644.8L378.7 647.2L379.2 647.9L383.1 646.5L387.5 647.5L384.6 649.2L381.4 651.4L379.5 653.8L382.4 658.2L383.9 660.6L386.1 663.1L385.3 665.0L386.3 666.0L385.1 669.2L383.1 671.4L380.7 675.3L377.8 678.9L372.9 682.6L367.3 684.3L361.9 685.8L357.7 687.5L357.5 689.2L356.5 686.3L353.3 686.0L349.7 688.0L348.5 689.2L347.0 692.4L348.2 694.8L350.4 698.5L353.8 701.4L355.3 707.0L354.6 710.7L349.7 713.1L348.5 715.6L344.8 717.8L344.3 713.6L341.1 712.9L338.7 708.7L334.8 705.8L332.6 707.0L331.4 713.1L333.3 718.0L335.0 721.9L338.0 723.6L340.9 729.0L341.1 732.4L342.9 735.3L341.1 735.6L337.5 732.9L335.8 731.4L333.6 727.8L333.3 725.3L332.6 721.7L328.9 719.2L328.5 715.6L329.2 711.9L328.9 705.8L327.0 698.5L322.8 698.2L318.7 699.7L319.2 694.8L316.7 691.2L313.8 687.5L312.6 683.8L309.4 685.0L305.7 685.8L300.9 686.3L299.6 689.9L296.0 691.6L291.1 696.0L287.4 699.0L284.3 700.9L284.5 707.0L283.3 710.7L282.1 713.6L277.7 719.0L275.2 716.8L272.8 709.9L270.4 703.4L267.9 698.5L266.2 692.4L265.7 686.5L266.0 684.6L264.7 685.8L259.4 688.0L256.9 684.3L259.4 683.1L255.7 681.4L252.5 678.2L250.8 676.7L244.7 677.0L238.6 677.2L232.5 676.7L228.4 675.8L226.9 672.6L221.5 673.8L215.4 670.9L211.8 666.7L208.1 664.5L205.7 665.5L206.2 669.2L209.3 672.8L211.0 675.3L212.5 678.2L213.7 675.3L214.5 679.4L217.9 679.7L221.5 679.2L224.0 676.5L225.9 674.6L226.2 678.2L228.1 680.4L232.0 681.4L234.5 684.1L232.5 688.7L230.1 689.0L227.6 692.6L224.0 695.3L217.9 698.2L213.0 701.4L208.1 703.4L203.2 705.8L198.3 707.5L194.7 707.7L193.5 704.6L192.7 700.9L192.2 698.5L189.8 694.8L186.1 689.9L183.7 686.3L181.3 680.2L177.6 675.8L173.9 670.4L172.7 670.4L171.5 670.6L170.3 669.9L168.1 665.8M1046.1 662.6L1050.7 662.3L1052.5 659.4L1053.9 656.0L1054.9 652.1L1055.1 649.7L1052.7 648.9L1050.3 650.4L1046.6 650.6L1041.7 650.1L1038.0 649.2L1034.4 648.4L1031.9 645.3L1032.7 642.3L1031.2 641.1L1034.4 640.4L1038.0 638.7L1035.6 638.7L1031.9 639.6L1028.3 638.9L1025.1 639.4L1023.2 639.9L1024.1 642.3L1022.9 644.8L1023.4 646.0L1022.2 649.7L1020.2 648.9L1019.7 646.5L1018.8 645.3L1017.8 643.6L1016.1 641.8L1014.6 638.9L1014.6 636.7L1012.4 635.0L1008.8 633.1L1005.1 631.3L1002.7 628.9L1000.7 627.4L997.3 627.9L997.3 630.1L1000.5 632.6L1002.7 635.7L1006.3 637.4L1008.8 638.7L1012.4 640.9L1011.2 641.4L1009.0 639.9L1007.5 641.6L1009.0 643.6L1006.6 646.0L1005.3 645.5L1005.8 642.3L1003.9 640.4L1001.4 638.9L997.8 637.2L994.1 635.0L992.4 632.3L989.2 630.4L986.8 631.6L984.3 632.6L979.5 633.1L975.1 633.1L975.1 636.2L972.1 638.2L969.2 639.4L967.3 642.3L966.0 645.3L965.3 647.0L962.4 649.2L956.3 649.4L953.6 650.9L951.9 649.4L949.2 647.9L945.5 648.4L945.8 644.3L944.1 642.3L945.5 638.7L945.8 635.0L944.6 633.8L947.7 632.1L953.3 632.3L958.7 632.6L962.9 632.8L964.1 630.1L964.3 626.5L961.9 623.5L956.3 621.8L955.8 620.4L959.9 619.6L963.4 619.9L964.1 617.7L967.7 617.9L970.9 616.2L971.9 614.3L974.6 613.5L977.0 612.1L979.0 609.6L981.4 608.4L984.3 608.2L988.0 607.4L988.3 604.5L987.0 600.8L988.0 599.4L993.1 597.9L992.4 600.1L993.6 601.3L991.7 603.5L993.6 606.0L997.8 606.0L1001.4 606.9L1006.3 606.2L1012.4 605.0L1015.8 605.5L1018.8 603.8L1018.8 600.8L1020.0 598.6L1022.2 597.9L1025.6 599.6L1026.8 596.4L1024.6 595.0L1027.6 593.5L1035.6 593.5L1041.0 592.5L1038.0 591.8L1031.9 591.3L1023.4 592.5L1019.5 590.3L1019.7 586.2L1023.4 583.0L1029.3 580.1L1027.3 578.1L1021.7 578.6L1019.3 581.8L1014.9 583.7L1010.2 586.2L1009.2 589.8L1012.4 591.8L1013.2 593.8L1008.8 596.0L1007.8 599.6L1006.3 601.6L1002.2 603.5L998.7 603.0L998.0 601.3L996.1 597.9L994.6 594.7L993.1 592.8L991.7 594.7L986.8 596.9L983.4 596.9L980.9 595.2L980.0 592.3L979.5 588.6L981.9 586.2L988.0 583.7L992.9 581.3L997.8 577.6L1001.4 574.0L1006.3 571.5L1012.4 568.4L1018.5 567.4L1025.8 565.4L1030.7 565.9L1036.8 565.4L1042.9 567.4L1047.8 569.1L1055.1 570.3L1064.9 573.5L1067.8 575.7L1064.9 577.6L1060.0 577.4L1052.7 576.9L1052.2 581.3L1057.6 582.8L1060.0 581.1L1066.1 581.3L1067.3 577.4L1074.7 576.9L1075.2 572.0L1079.5 573.3L1084.4 573.7L1096.6 571.5L1100.3 572.0L1108.8 570.6L1116.2 568.4L1123.5 569.6L1130.8 571.3L1129.6 566.7L1134.5 564.2L1136.9 561.0L1144.2 561.0L1144.7 565.4L1144.2 569.1L1146.7 572.8L1149.1 571.5L1149.1 566.7L1152.8 563.0L1157.7 562.3L1163.8 563.0L1163.8 559.3L1177.2 556.9L1180.8 555.2L1186.9 554.5L1199.2 553.2L1211.4 550.8L1221.1 549.1L1226.0 550.1L1229.7 552.0L1238.2 551.5L1244.3 553.7L1243.1 558.1L1240.7 558.8L1255.3 559.3L1265.1 560.6L1277.3 559.3L1282.1 563.0L1289.5 564.2L1296.8 564.0L1306.6 562.3L1311.4 561.3L1323.6 562.3L1333.4 564.2L1338.3 565.7L1350.5 565.4L1357.8 566.7L1362.7 568.9L1374.9 568.4L1382.2 567.6L1394.4 568.4L1403.0 569.6L1406.6 570.6L1411.5 571.5L1418.8 573.7L1428.6 575.4L1431.8 577.4L1428.6 578.9L1424.9 580.6L1423.7 581.8L1417.6 580.1L1410.3 578.9L1404.2 580.6L1399.3 581.3L1403.0 585.0L1404.2 586.7L1399.3 586.2L1389.6 588.1L1382.2 592.3L1372.5 591.6L1367.6 592.8L1365.1 596.0L1362.7 597.7L1365.9 602.1L1362.2 604.5L1357.8 608.9L1354.2 610.6L1349.8 614.3L1348.1 610.6L1347.1 604.5L1348.8 599.6L1354.2 596.0L1360.3 591.8L1366.4 588.9L1360.3 587.4L1356.4 586.9L1350.5 588.4L1344.4 593.5L1338.3 594.7L1331.0 593.8L1321.2 594.0L1316.3 594.0L1310.2 596.7L1305.3 600.8L1302.9 605.7L1300.5 605.7L1309.0 608.2L1312.4 611.1L1311.4 616.7L1310.2 620.4L1305.3 624.0L1299.2 630.1L1291.9 634.3L1288.3 634.0L1286.3 635.5L1283.9 638.7L1279.7 641.1L1278.5 642.3L1280.9 645.3L1283.1 648.4L1282.9 652.6L1279.7 653.8L1275.8 654.5L1276.0 650.9L1276.5 647.2L1273.1 646.7L1271.7 644.8L1272.9 642.3L1270.7 641.4L1265.8 639.9L1263.1 644.0L1263.8 641.6L1265.1 638.9L1262.6 639.2L1259.0 641.4L1255.3 643.1L1254.6 644.8L1257.5 647.2L1258.0 647.9L1261.9 646.5L1266.3 647.5L1263.4 649.2L1260.2 651.4L1258.2 653.8L1261.2 658.2L1262.6 660.6L1264.8 663.1L1264.1 665.0L1265.1 666.0L1263.8 669.2L1261.9 671.4L1259.4 675.3L1256.5 678.9L1251.6 682.6L1246.0 684.3L1240.7 685.8L1236.5 687.5L1236.3 689.2L1235.3 686.3L1232.1 686.0L1228.4 688.0L1227.2 689.2L1225.8 692.4L1227.0 694.8L1229.2 698.5L1232.6 701.4L1234.1 707.0L1233.3 710.7L1228.4 713.1L1227.2 715.6L1223.6 717.8L1223.1 713.6L1219.9 712.9L1217.5 708.7L1213.6 705.8L1211.4 707.0L1210.1 713.1L1212.1 718.0L1213.8 721.9L1216.7 723.6L1219.7 729.0L1219.9 732.4L1221.6 735.3L1219.9 735.6L1216.2 732.9L1214.5 731.4L1212.3 727.8L1212.1 725.3L1211.4 721.7L1207.7 719.2L1207.2 715.6L1207.9 711.9L1207.7 705.8L1205.7 698.5L1201.6 698.2L1197.4 699.7L1197.9 694.8L1195.5 691.2L1192.6 687.5L1191.3 683.8L1188.2 685.0L1184.5 685.8L1179.6 686.3L1178.4 689.9L1174.7 691.6L1169.9 696.0L1166.2 699.0L1163.0 700.9L1163.3 707.0L1162.1 710.7L1160.8 713.6L1156.4 719.0L1154.0 716.8L1151.6 709.9L1149.1 703.4L1146.7 698.5L1145.0 692.4L1144.5 686.5L1144.7 684.6L1143.5 685.8L1138.1 688.0L1135.7 684.3L1138.1 683.1L1134.5 681.4L1131.3 678.2L1129.6 676.7L1123.5 677.0L1117.4 677.2L1111.3 676.7L1107.1 675.8L1105.7 672.6L1100.3 673.8L1094.2 670.9L1090.5 666.7L1086.9 664.5L1084.4 665.5L1084.9 669.2L1088.1 672.8L1089.8 675.3L1091.3 678.2L1092.5 675.3L1093.2 679.4L1096.6 679.7L1100.3 679.2L1102.7 676.5L1104.7 674.6L1104.9 678.2L1106.9 680.4L1110.8 681.4L1113.2 684.1L1111.3 688.7L1108.8 689.0L1106.4 692.6L1102.7 695.3L1096.6 698.2L1091.8 701.4L1086.9 703.4L1082.0 705.8L1077.1 707.5L1073.4 707.7L1072.2 704.6L1071.5 700.9L1071.0 698.5L1068.6 694.8L1064.9 689.9L1062.5 686.3L1060.0 680.2L1056.4 675.8L1052.7 670.4L1051.5 670.4L1050.3 670.6L1049.0 669.9L1046.8 665.8M159.3 638.4L156.8 637.0L156.8 635.0L158.3 631.8L161.0 628.4L163.4 625.5L166.1 625.0L170.3 626.5L167.8 627.9L170.5 630.1L173.9 629.4L177.6 628.2L175.2 627.7L173.9 625.7L180.0 623.8L184.2 623.5L181.7 625.0L180.5 627.0L179.5 628.4L181.3 630.4L184.9 632.3L189.8 636.2L189.8 637.4L186.1 638.7L181.3 638.9L176.4 637.0L174.2 636.2L169.1 636.2L165.4 638.2L159.3 638.4M208.6 625.5L213.5 623.8L217.9 624.5L217.9 628.2L213.7 630.1L213.0 633.8L217.1 636.7L217.9 641.1L220.1 643.6L220.1 647.7L215.4 648.9L210.6 647.5L208.1 646.0L209.1 640.6L206.9 636.7L204.4 633.8L203.2 630.1L204.2 627.2L208.6 625.5M74.6 616.7L78.7 615.7L84.8 615.2L89.7 614.7L91.9 613.5L90.9 612.3L92.6 610.1L89.2 609.4L88.7 608.2L87.3 605.7L84.8 603.3L83.6 602.1L81.2 602.1L82.4 600.8L84.1 598.4L81.2 597.9L78.7 598.1L81.2 595.7L76.3 595.7L74.6 598.4L75.1 600.8L73.9 603.3L76.5 604.5L76.3 605.2L80.0 605.0L80.7 606.4L81.4 607.7L81.2 608.6L77.5 608.4L78.0 609.9L78.2 611.3L75.8 612.3L78.2 612.8L80.7 613.3L78.2 613.8L76.3 615.0L74.6 616.7M953.3 616.7L957.5 615.7L963.6 615.2L968.5 614.7L970.7 613.5L969.7 612.3L971.4 610.1L968.0 609.4L967.5 608.2L966.0 605.7L963.6 603.3L962.4 602.1L959.9 602.1L961.2 600.8L962.9 598.4L959.9 597.9L957.5 598.1L959.9 595.7L955.1 595.7L953.3 598.4L953.8 600.8L952.6 603.3L955.3 604.5L955.1 605.2L958.7 605.0L959.4 606.4L960.2 607.7L959.9 608.6L956.3 608.4L956.8 609.9L957.0 611.3L954.6 612.3L957.0 612.8L959.4 613.3L957.0 613.8L955.1 615.0L953.3 616.7M952.6 611.3L952.4 608.6L952.1 606.9L953.8 605.7L952.6 604.0L949.4 603.8L947.0 604.0L946.3 606.2L942.8 606.4L943.3 608.4L945.3 608.9L943.1 611.3L942.4 612.3L944.1 613.0L947.7 612.3L951.6 611.3L952.6 611.3M913.6 582.5L912.3 578.9L908.7 578.9L913.6 576.7L920.9 577.4L927.0 576.4L931.9 577.6L934.1 579.8L931.9 581.5L927.0 583.0L921.6 584.0L916.0 582.8L913.6 582.5M118.8 646.5L121.0 645.5L126.6 645.3L125.4 647.7L125.4 649.2L123.4 648.4L119.3 647.0L118.8 646.5M109.0 643.6L108.5 638.9L111.0 638.2L112.4 639.9L111.9 643.1L110.5 643.6L109.0 643.6M109.5 637.7L109.5 635.3L111.4 633.8L111.7 636.0L111.0 637.7L109.5 637.7M145.9 652.6L148.3 652.1L152.7 652.8L149.0 653.6L145.9 652.6M167.3 653.3L169.1 652.3L173.0 651.6L171.5 653.3L169.1 654.3L167.3 653.3M283.5 714.8L286.2 718.0L288.4 720.4L287.9 723.1L285.2 724.3L283.5 722.2L283.3 719.2L283.5 714.8M208.8 768.0L211.8 776.6L210.1 780.2L207.6 787.6L204.4 797.3L203.2 800.0L198.8 801.0L195.9 799.3L194.7 792.5L196.9 787.6L195.9 780.2L200.8 777.1L205.2 774.1L206.9 771.7L208.8 768.0M408.0 655.8L411.9 652.3L414.4 652.1L419.3 651.9L422.4 647.9L423.6 648.9L426.6 647.2L429.3 644.8L430.2 641.6L431.0 638.2L433.7 637.7L434.4 639.9L435.1 642.1L433.9 645.3L432.7 647.9L432.4 651.1L430.7 653.1L429.8 653.3L428.3 652.8L427.3 654.3L423.4 654.3L422.4 655.0L420.0 657.0L418.3 655.0L415.6 654.3L411.9 655.0L408.8 656.0L408.0 655.8M430.2 637.4L431.0 635.0L429.8 634.5L433.4 633.1L434.1 630.1L434.9 627.7L437.6 629.9L441.2 631.6L443.2 633.1L443.7 633.3L439.5 635.3L438.1 636.2L434.6 634.8L432.4 636.7L430.2 637.4M405.3 657.5L407.1 656.0L408.3 656.0L410.0 657.7L409.7 660.6L408.8 662.1L407.5 663.1L406.3 662.1L406.6 660.1L405.3 658.9L405.3 657.5M411.9 658.2L412.9 655.8L415.6 654.8L417.3 655.5L416.3 657.5L413.9 657.2L412.9 658.7L411.9 658.2M435.1 626.5L434.9 622.8L435.6 619.1L435.6 614.3L434.4 610.6L436.3 606.2L438.3 609.4L438.1 613.0L440.0 619.1L437.6 623.5L438.8 626.0L436.3 624.5L435.1 626.5M383.9 677.7L386.1 677.5L385.1 681.4L383.4 685.0L381.9 683.1L381.7 681.1L383.9 677.7M353.8 691.9L355.8 694.3L358.2 693.3L359.5 690.7L358.2 689.7L355.1 690.2L353.8 691.9M382.9 693.6L385.1 693.3L386.8 693.6L387.3 697.3L385.3 700.4L385.3 704.1L387.5 704.1L391.4 707.0L388.7 707.0L385.1 704.8L382.9 703.8L382.9 701.2L380.9 699.0L382.4 698.5L382.9 693.6M386.3 721.7L388.5 719.0L391.7 718.7L394.6 714.8L397.3 720.4L396.6 723.4L394.6 725.1L391.2 723.6L386.3 721.7M391.9 708.2L394.4 708.7L395.3 711.7L393.4 710.9L391.9 708.2M391.9 710.7L393.6 711.2L394.1 714.1L392.6 713.9L391.9 710.7M386.1 709.7L388.5 710.7L387.5 712.9L386.1 712.9L386.1 709.7M388.5 712.1L390.0 712.4L389.2 716.5L387.3 714.8L388.5 712.1M390.9 711.4L391.4 713.1L389.7 715.6L390.2 713.4L390.9 711.4M374.6 718.2L377.8 716.0L380.4 713.1L380.2 711.2L378.5 713.6L376.0 716.3L374.6 718.2M382.2 705.8L385.1 706.5L384.3 709.0L382.9 708.2L382.2 705.8M321.1 725.1L326.5 726.1L328.9 729.0L333.6 733.6L336.3 734.6L339.9 737.5L341.9 741.2L343.6 743.1L347.2 746.3L346.8 752.9L343.6 753.2L339.9 749.7L336.3 745.6L333.3 741.2L330.6 737.5L328.9 734.4L325.3 730.2L321.1 725.1M345.3 755.3L347.2 753.2L352.1 754.1L358.2 755.6L363.1 755.6L368.0 757.5L367.8 759.7L360.7 759.0L353.3 757.8L348.5 756.8L345.3 755.3M354.6 735.1L356.3 733.9L359.5 734.8L363.1 731.4L366.5 727.8L370.4 725.8L373.6 721.9L375.8 723.1L379.5 725.6L376.5 726.8L375.8 730.2L376.5 733.9L378.7 736.3L376.0 737.5L375.3 740.0L372.9 743.6L372.9 747.3L371.4 748.5L368.0 747.3L364.3 746.6L361.2 746.1L357.5 745.8L357.0 742.4L354.6 739.5L354.6 735.1M380.0 752.2L380.2 747.3L378.5 745.3L380.0 741.2L380.7 738.8L381.7 737.0L383.9 735.6L387.5 736.3L391.2 736.6L394.1 734.8L392.2 737.8L388.7 737.5L385.1 737.5L381.9 738.3L383.4 741.2L386.3 740.9L389.5 740.7L387.5 742.4L385.1 743.1L387.5 746.1L388.7 749.7L387.5 751.0L385.1 749.7L383.9 746.1L382.2 745.8L382.4 752.2L380.0 752.2M408.3 741.9L411.9 739.7L415.6 740.9L416.1 744.9L419.3 746.8L424.1 742.4L430.2 744.6L435.1 746.3L441.2 748.3L444.4 751.0L448.5 753.4L447.3 755.3L449.8 758.3L453.4 761.9L455.9 764.4L452.2 763.9L447.3 761.9L444.9 758.3L440.0 757.5L438.3 760.7L432.7 761.0L427.8 758.5L425.4 759.3L424.9 756.8L426.6 754.6L422.9 751.0L418.0 749.2L414.4 748.0L410.7 745.8L413.2 744.1L410.7 743.6L408.3 741.9M391.2 763.2L393.6 760.7L399.2 759.3L396.1 760.7L392.4 763.6L391.2 763.2M380.9 759.5L385.1 759.5L388.7 759.0L386.3 760.2L381.4 760.2L380.9 759.5M373.6 759.7L376.5 758.8L379.0 759.5L375.3 760.7L373.6 759.7M400.9 746.8L405.8 746.1L407.8 747.3L402.2 747.5L400.9 746.8M400.2 733.4L401.4 735.8L402.7 736.3L400.7 737.8L402.9 738.0L401.2 739.7L400.0 737.5L399.7 735.1L400.2 733.4M396.1 746.6L399.0 746.6L398.0 748.0L396.1 747.5L396.1 746.6M450.5 752.2L453.4 752.2L455.9 752.2L458.3 750.7L460.0 749.0L458.3 752.2L454.6 753.9L451.0 753.4L450.5 752.2M456.6 745.1L459.5 746.6L462.0 749.7L461.5 750.2L458.3 747.3L456.6 745.1M465.9 751.0L469.1 755.3L468.1 755.6L465.9 752.2L465.9 751.0M478.1 761.5L481.0 762.7L480.3 762.9L478.3 762.2L478.1 761.5M480.5 759.3L482.5 761.2L481.7 761.7L480.5 760.2L480.5 759.3M482.5 763.6L484.7 764.9L483.9 765.1L482.5 764.4L482.5 763.6M470.5 754.9L473.0 756.6L472.5 756.8L470.5 755.6L470.5 754.9M495.2 774.6L496.6 775.9L496.4 776.8L495.2 776.3L495.2 774.6M496.6 777.8L498.1 778.8L497.4 779.3L496.6 777.8M498.8 781.5L499.8 781.7L499.3 782.2L498.8 781.5M488.8 788.1L492.5 790.0L496.1 793.2L494.7 793.2L490.0 789.5L488.8 788.1M521.3 781.7L523.5 781.2L524.5 782.9L521.8 783.2L521.3 781.7M524.2 778.8L527.6 778.5L526.4 779.8L524.5 779.8L524.2 778.8M586.7 689.4L588.9 690.7L587.4 692.6L586.5 691.2L586.7 689.4M576.7 684.8L581.6 686.3L584.5 687.5L586.5 688.7M584.8 687.5L586.5 688.0L585.5 688.5L584.8 687.5M580.8 686.0L582.3 686.5L581.3 686.8L580.8 686.0M577.2 684.6L578.4 684.8L577.7 685.3L577.2 684.6M256.2 858.6L260.6 858.4L259.4 860.1L256.9 859.8L256.2 858.6M817.6 864.0L822.0 864.0L826.2 864.5L824.5 866.2L820.8 866.2L817.6 864.0M365.6 792.5L366.8 792.0L371.7 789.5L377.8 788.3L383.9 786.3L387.0 781.5L390.0 780.2L392.4 776.6L394.8 774.1L398.5 772.4L401.4 775.1L404.6 774.9L406.3 770.5L407.8 769.0L410.7 766.8L413.2 767.6L418.0 768.5L422.7 768.5L420.5 771.7L419.3 775.4L422.9 777.8L427.8 781.0L432.2 781.5L433.9 775.4L434.1 769.3L436.3 764.9L438.8 769.3L439.5 774.1L443.2 775.4L443.7 780.2L445.6 785.1L451.7 788.3L454.6 792.5L457.1 796.1L462.0 800.3L463.2 807.1L462.0 813.2L460.8 816.9L457.6 821.5L455.1 826.1L454.4 830.3L449.8 831.0L445.6 834.2L442.4 832.7L440.0 832.2L435.1 832.5L431.5 831.5L429.3 829.6L427.8 825.6L425.6 825.6L426.6 823.2L425.4 819.8L424.1 823.9L422.9 821.3L420.5 823.7L418.5 823.0L416.1 818.8L413.2 817.1L409.0 815.6L403.4 816.1L396.1 817.6L391.2 819.3L386.3 821.5L381.4 821.7L376.5 824.2L371.4 823.2L369.2 822.5L370.9 820.0L370.9 816.4L369.2 812.0L368.2 808.3L365.6 803.4L366.3 798.6L365.6 792.5M441.7 838.1L446.1 839.1L450.5 838.6L450.5 841.8L449.5 844.2L446.1 845.2L442.9 841.8L441.7 838.1M510.1 822.7L512.0 824.7L514.5 826.6L516.9 828.6L517.9 830.5L521.8 831.3L524.2 830.8L523.0 833.9L520.6 834.4L520.1 836.4L516.9 840.1L514.7 839.6L515.7 836.4L513.2 835.2L512.7 834.2L514.7 831.8L514.5 828.6L511.3 824.9L510.1 822.7M509.8 837.6L512.0 838.8L513.7 840.5L512.0 843.2L510.3 845.2L506.6 847.1L505.4 850.5L501.8 852.5L497.4 851.5L494.9 849.8L497.4 847.4L499.8 846.2L504.7 843.7L507.1 840.8L508.6 838.3L509.8 837.6M556.9 578.6L562.1 581.3L563.5 581.3L569.4 581.3L574.3 581.5L574.3 583.7L569.4 585.0L565.0 586.2L562.1 588.6L563.3 591.1L566.9 592.3L570.6 592.5L571.8 595.5L580.4 595.5L584.0 595.7L582.8 598.4L576.7 602.1L570.6 604.0L565.0 606.0L569.4 604.7L574.3 603.3L580.4 601.3L585.2 598.4L590.1 596.0L592.6 593.5L596.7 594.2L601.1 593.3L606.0 592.3L609.7 590.3L615.8 592.3L623.1 592.8L626.7 593.3L631.6 595.7L634.1 597.2L636.5 599.6L640.2 602.1L645.0 605.2L648.7 606.9L650.4 609.9L654.8 612.3L656.0 614.5L660.9 616.5L664.6 619.1L667.5 619.1L668.2 621.6L663.1 620.6L664.1 625.2L664.6 631.3L663.4 634.3L664.1 638.7L665.1 641.6L668.2 646.5L669.7 649.4L672.9 654.3L678.0 655.8L681.2 658.9L682.4 661.9L684.3 664.5L688.5 670.4L688.7 671.4L692.6 676.5L694.4 678.9L698.8 682.9L700.0 682.1L698.0 679.7L696.3 676.5L693.9 671.6L691.4 668.0L687.8 664.3L687.0 661.4L691.4 662.6L693.4 666.7L696.3 670.6L700.0 675.3L702.4 677.7L707.5 682.1L709.7 686.3L709.5 688.7L712.2 692.4L718.3 694.8L723.2 697.5L728.0 699.4L732.9 700.4L736.6 699.2L740.2 700.7L742.2 703.4L746.3 704.8L751.2 706.5L753.7 707.0L754.9 708.2L757.3 710.7L758.1 711.9L757.8 714.3L760.3 714.8L762.2 716.8L764.2 718.5L767.1 718.7L770.8 720.9L772.0 719.2L773.2 717.0L775.6 718.2L776.9 720.9L777.1 721.2L778.1 724.1L778.6 729.0L776.9 732.6L774.7 735.3L772.0 737.5L770.8 741.2L771.5 744.1L771.2 747.3L768.8 749.7L769.3 752.9L772.2 755.3L774.4 758.3L776.9 763.2L779.3 768.0L781.3 772.4L783.7 776.1L790.3 779.8L793.9 782.2L795.7 783.9L795.9 788.8L795.2 796.1L794.4 801.0L792.7 808.3L792.5 813.2L792.5 819.3L791.0 825.4L788.6 829.1L787.8 833.9L787.4 840.1L786.9 842.5L785.9 846.2L783.0 852.3L783.5 857.1L784.2 862.0L786.6 866.9L792.7 870.1L796.4 873.0L803.0 875.0L807.4 873.0L804.9 871.8L801.3 869.3L800.3 866.4L798.8 864.5L798.8 860.8L801.8 858.4L806.6 855.4L802.5 852.3L803.7 849.8L807.4 848.6L808.6 843.7L811.0 842.5L808.6 841.3L808.6 838.8L813.5 838.8L815.4 837.6L815.9 833.9L820.8 833.5L826.7 831.8L828.9 827.6L827.4 825.4L824.7 823.2L826.9 822.7L830.6 823.9L835.4 823.2L837.9 821.0L841.5 815.6L844.5 812.0L848.6 807.1L848.9 802.2L852.5 798.6L857.4 796.6L861.8 794.6L864.7 794.6L867.2 792.5L868.9 788.3L870.4 785.1L872.1 780.2L872.1 774.1L873.3 770.5L875.7 766.8L880.1 761.9L882.1 758.3L881.3 752.2L875.7 750.2L870.8 746.1L866.0 745.8L859.1 744.9L853.8 741.2L848.9 741.7L845.2 740.0L844.0 735.1L842.3 729.0L838.4 725.3L833.0 724.1L828.1 724.1L824.5 721.7L820.8 718.2L817.1 714.8L814.7 713.1L811.0 712.9L806.2 712.9L801.3 713.1L796.4 710.7L792.7 711.9L792.0 708.5L789.1 711.2L784.7 711.9L783.0 713.6L781.7 715.8L779.5 718.0L778.3 717.8L777.1 715.8L772.2 715.8L769.5 717.3L765.6 715.6L763.4 712.4L762.7 709.5L763.9 704.6L764.2 702.1L761.0 699.9L757.3 699.7L752.5 700.2L751.7 698.5L752.0 693.6L753.7 691.2L755.4 686.5L752.5 686.0L746.8 687.5L746.3 691.2L743.9 693.6L736.6 694.3L733.4 692.9L731.7 691.2L729.8 687.5L728.8 683.8L729.3 678.9L729.8 675.3L729.8 671.1L732.9 668.9L735.9 667.2L739.0 666.0L743.9 667.0L748.8 667.5L749.3 664.8L752.5 664.3L756.1 664.5L759.0 666.3L762.2 665.5L764.7 668.0L765.4 671.1L767.6 674.8L769.5 677.2L771.0 677.0L771.7 674.1L770.8 669.2L768.8 665.5L769.1 661.9L772.0 658.9L775.6 656.0L777.1 655.3L780.5 654.0L783.0 652.8L782.0 648.9L781.5 647.2L782.7 645.3L784.2 644.0L785.4 642.8L786.6 639.9L791.5 638.7L794.7 637.4L796.4 637.0L794.9 635.0L794.7 633.5L797.6 631.8L802.5 630.1L803.7 628.9L807.4 628.2L809.8 627.2L809.8 628.2L806.6 629.9L806.2 631.8L809.8 631.8L812.3 629.9L818.4 628.4L820.8 626.5L819.6 624.0L817.1 626.7L813.5 627.2L809.8 626.0L809.1 622.8L807.4 621.6L810.3 620.4L804.9 618.9L800.1 620.4L796.4 622.8L793.9 624.5L798.8 620.4L803.7 618.4L809.8 616.2L818.4 616.2L823.2 615.5L827.9 613.0L831.1 611.1L830.6 608.2L826.9 605.7L822.0 603.8L817.1 601.6L816.2 598.4L813.5 596.0L809.8 591.6L807.4 594.7L802.5 596.4L797.6 594.7L796.9 591.1L793.9 589.6L787.8 587.4L778.1 586.2L776.9 589.8L778.1 594.7L780.0 599.6L779.3 603.3L774.7 606.9L773.2 611.8L770.8 613.5L767.1 610.6L766.4 608.2L766.6 604.3L759.8 603.8L752.5 600.8L746.3 599.1L741.5 599.6L737.8 595.5L736.6 592.3L739.0 588.6L745.1 586.2L747.6 583.0L752.5 582.0L754.9 579.6L757.3 577.6L759.8 576.4L762.2 574.0L765.9 572.8L768.3 570.3L765.9 568.6L759.8 568.4L757.3 571.5L752.5 572.3L748.8 570.3L746.3 571.5L743.9 567.9L741.5 564.2L736.6 563.0L734.1 565.4L731.7 569.1L728.0 572.8L718.3 573.3L708.5 571.8L702.4 572.3L698.8 572.8L691.4 573.3L686.5 573.3L689.0 570.8L681.7 570.3L674.3 569.3L667.0 569.1L663.4 567.9L659.7 569.1L654.8 566.7L649.9 567.9L642.6 568.9L637.7 569.6L631.6 570.3L623.1 568.9L615.8 567.6L608.4 567.1L601.1 566.7L593.8 565.7L585.2 564.7L579.1 565.9L571.8 567.1L566.9 568.4L561.6 570.6L566.9 572.8L569.4 575.2L565.7 576.2L562.1 577.2L556.9 578.6M760.0 685.3L764.7 682.9L769.5 682.1L773.2 683.3L778.1 685.5L782.7 687.2L786.1 689.2L783.0 690.2L777.6 690.2L778.6 688.2L775.6 686.0L770.8 685.0L767.6 684.6L765.1 683.6L762.2 685.3L760.0 685.3M785.4 693.8L789.6 690.2L796.4 690.7L800.3 693.3L797.6 694.3L793.0 695.8L790.3 694.3L785.4 693.8M775.9 693.8L781.0 694.3L779.8 695.1L776.9 694.3L775.9 693.8M803.2 693.6L807.1 693.8L806.6 694.8L803.2 694.8L803.2 693.6M822.3 622.6L830.6 616.9L831.8 612.8L836.7 618.7L838.4 622.6L836.2 624.8L831.8 624.0L829.3 622.6L822.3 622.6M653.8 614.7L657.3 615.2L662.1 616.7L666.3 620.6L662.6 620.1L658.5 617.9L653.8 614.7M589.9 597.4L595.7 596.7L595.0 598.9L590.9 600.6L589.9 597.4M861.1 592.8L856.2 591.1L850.1 588.6L844.0 583.7L840.3 580.1L836.7 576.4L837.9 572.8L842.8 570.3L836.7 567.9L840.3 565.4L833.0 561.8L828.1 556.9L823.2 553.7L811.0 552.7L800.1 552.0L789.1 548.4L791.5 545.9L808.6 542.2L820.8 538.6L845.2 537.4L869.6 534.9L894.0 534.9L918.4 538.6L930.6 541.0L923.3 544.7L919.7 550.8L922.1 555.7L916.0 560.6L909.9 566.7L913.6 567.9L906.2 571.5L891.6 572.8L883.0 577.6L874.5 578.6L869.6 580.1L867.2 583.7L863.5 588.6L861.1 592.8M808.6 587.7L801.3 586.2L792.7 583.7L787.8 581.3L778.1 581.3L776.9 578.9L786.6 575.7L789.1 572.8L781.7 569.1L774.4 567.9L764.7 567.9L754.9 566.7L748.8 564.2L752.5 559.3L759.8 559.3L772.0 559.3L779.3 561.8L789.1 564.2L796.4 566.7L801.3 567.9L803.7 570.3L811.0 574.0L815.9 575.7L812.3 578.9L808.6 581.3L809.8 583.7L808.6 587.7M676.8 564.2L680.4 561.0L691.4 560.6L706.1 559.3L712.2 560.6L718.3 567.9L711.0 570.3L698.8 571.3L689.0 569.6L679.2 567.9L676.8 564.2M660.9 563.2L664.6 559.3L673.1 557.4L684.1 559.8L676.8 563.5L667.0 565.4L660.9 563.2M756.1 582.5L762.2 578.1L768.3 581.3L764.7 583.0L756.1 582.5M734.1 562.5L739.0 558.1L746.3 558.6L740.2 562.5L734.1 562.5M720.7 564.2L717.1 561.0L725.6 558.4L730.5 560.6L728.0 563.5L720.7 564.2M743.9 556.4L759.8 556.9L770.8 556.7L772.0 552.7L750.0 552.0L742.7 553.7L743.9 556.4M748.8 552.0L764.7 552.7L776.9 552.0L784.2 547.1L791.5 544.7L801.3 542.2L815.9 538.6L808.6 536.6L784.2 535.9L759.8 537.4L745.1 539.8L740.2 542.2L742.7 544.7L750.0 547.1L748.8 552.0M681.7 555.7L698.8 556.9L709.7 554.5L703.6 552.0L689.0 552.0L681.7 555.7M721.9 556.2L729.3 555.7L730.5 552.0L720.7 553.2L721.9 556.2M669.5 552.0L681.7 552.7L684.1 549.6L671.9 550.8L669.5 552.0M115.4 547.1L125.1 550.8L130.0 551.8L133.7 549.6L142.2 547.9L154.4 545.9L137.3 542.7L117.8 544.0L115.4 547.1M215.4 564.7L222.8 561.8L230.1 556.9L239.8 553.7L256.9 550.8L249.6 552.7L237.4 555.7L228.9 559.3L225.2 562.3L224.0 565.4L215.4 564.7M424.1 556.9L435.1 558.6L438.8 559.3L444.9 555.7L432.7 553.2L425.4 554.5L424.1 556.9M449.8 555.7L455.9 555.2L452.2 554.2L449.8 555.7M524.5 565.4L529.1 564.2L532.8 565.0L527.9 565.9L524.5 565.4M320.4 547.1L332.6 548.4L344.8 547.1L342.4 544.7L325.3 543.5L320.4 547.1M203.2 543.5L222.8 543.5L235.0 542.2L222.8 540.5L203.2 543.5M-790.3 912.8L-770.5 908.9L-762.7 912.1L-756.3 908.9L-736.1 909.6L-734.6 912.1L-712.6 908.9L-706.3 905.7L-695.5 908.9L-665.8 901.8L-656.5 898.6L-650.1 900.3L-640.9 904.2L-622.1 904.2L-620.4 908.2L-623.5 912.1L-620.4 915.2L-617.4 914.3L-609.6 909.6L-600.1 908.2L-587.7 902.5L-575.2 901.1L-556.4 903.5L-540.8 899.6L-528.3 902.5L-512.7 899.6L-498.6 902.5L-490.7 901.1L-459.7 898.6L-456.6 901.8L-434.9 901.8L-428.5 905.0L-405.1 908.2L-392.6 912.1L-373.8 912.8L-372.4 915.2L-383.1 919.1L-389.4 924.5L-383.1 929.9L-392.6 931.6L-398.7 936.2L-389.4 940.1L-366.0 944.0L-327.0 943.3L-295.7 947.2L-280.1 946.5L-259.8 945.5L-281.6 945.5L-284.7 937.7L-291.1 936.2L-269.1 934.8L-292.5 929.9L-296.4 927.0L-276.9 927.7L-265.9 923.0L-241.0 919.9L-217.6 918.2L-198.8 918.2L-187.3 919.9L-179.5 921.3L-163.9 920.6L-145.1 917.4L-128.0 916.7L-109.2 918.2L-93.6 919.1L-75.0 913.5L-73.3 901.8L-62.4 895.7L-49.9 893.3L-68.7 901.8L-62.4 908.2L-57.7 917.4L-65.5 922.1L-92.1 926.0L-98.2 928.4L-101.4 931.6L-92.1 935.5L-70.2 936.2L-51.4 941.6L-38.9 938.7L-15.5 937.7L20.4 934.8L3.3 930.9L15.8 928.4L39.2 923.8L54.8 917.4L70.4 912.1L88.5 912.3M88.5 912.8L108.3 908.9L116.1 912.1L122.4 908.9L142.7 909.6L144.2 912.1L166.1 908.9L172.5 905.7L183.2 908.9L213.0 901.8L222.3 898.6L228.6 900.3L237.9 904.2L256.7 904.2L258.4 908.2L255.2 912.1L258.4 915.2L261.3 914.3L269.1 909.6L278.7 908.2L291.1 902.5L303.6 901.1L322.3 903.5L338.0 899.6L350.4 902.5L366.0 899.6L380.2 902.5L388.0 901.1L419.0 898.6L422.2 901.8L443.9 901.8L450.3 905.0L473.7 908.2L486.1 912.1L504.9 912.8L506.4 915.2L495.7 919.1L489.3 924.5L495.7 929.9L486.1 931.6L480.0 936.2L489.3 940.1L512.7 944.0L551.8 943.3L583.0 947.2L598.7 946.5L618.9 945.5L597.2 945.5L594.0 937.7L587.7 936.2L609.7 934.8L586.2 929.9L582.3 927.0L601.8 927.7L612.8 923.0L637.7 919.9L661.2 918.2L680.0 918.2L691.4 919.9L699.2 921.3L714.9 920.6L733.7 917.4L750.7 916.7L769.5 918.2L785.2 919.1L803.7 913.5L805.4 901.8L816.4 895.7L828.9 893.3L810.1 901.8L816.4 908.2L821.0 917.4L813.2 922.1L786.6 926.0L780.5 928.4L777.4 931.6L786.6 935.5L808.6 936.2L827.4 941.6L839.8 938.7L863.3 937.7L899.2 934.8L882.1 930.9L894.5 928.4L918.0 923.8L933.6 917.4L949.2 912.1L967.3 912.3M967.3 912.8L987.0 908.9L994.8 912.1L1001.2 908.9L1021.5 909.6L1022.9 912.1L1044.9 908.9L1051.2 905.7L1062.0 908.9L1091.8 901.8L1101.0 898.6L1107.4 900.3L1116.6 904.2L1135.4 904.2L1137.2 908.2L1134.0 912.1L1137.2 915.2L1140.1 914.3L1147.9 909.6L1157.4 908.2L1169.9 902.5L1182.3 901.1L1201.1 903.5L1216.7 899.6L1229.2 902.5L1244.8 899.6L1259.0 902.5L1266.8 901.1L1297.8 898.6L1300.9 901.8L1322.7 901.8L1329.0 905.0L1352.4 908.2L1364.9 912.1L1383.7 912.8L1385.2 915.2L1374.4 919.1L1368.1 924.5L1374.4 929.9L1364.9 931.6L1358.8 936.2L1368.1 940.1L1391.5 944.0L1430.6 943.3L1461.8 947.2L1477.4 946.5L1497.7 945.5L1476.0 945.5L1472.8 937.7L1466.4 936.2L1488.4 934.8L1465.0 929.9L1461.1 927.0L1480.6 927.7L1491.6 923.0L1516.5 919.9L1539.9 918.2L1558.7 918.2L1570.2 919.9L1578.0 921.3L1593.6 920.6L1612.4 917.4L1629.5 916.7L1648.3 918.2L1663.9 919.1L1682.5 913.5L1684.2 901.8L1695.2 895.7L1707.6 893.3L1688.8 901.8L1695.2 908.2L1699.8 917.4L1692.0 922.1L1665.4 926.0L1659.3 928.4L1656.1 931.6L1665.4 935.5L1687.4 936.2L1706.2 941.6L1718.6 938.7L1742.0 937.7L1777.9 934.8L1760.8 930.9L1773.3 928.4L1796.7 923.8L1812.3 917.4L1828.0 912.1L1846.0 912.3M569.4 929.9L578.4 930.6L574.3 932.3L569.4 929.9M719.5 914.5L733.7 915.0L728.0 916.5L719.5 915.2L719.5 914.5M791.5 908.4L797.6 910.8L793.9 914.5L787.8 913.3L791.5 908.4M840.3 935.3L852.5 932.8L862.3 934.8L850.1 937.0L840.3 935.3M735.4 547.1L745.1 547.9L752.5 543.5L743.9 540.5L735.4 542.2L735.4 547.1M725.6 570.8L732.9 572.0L734.1 569.1L728.0 568.1L725.6 570.8M772.0 560.6L780.5 561.3L779.3 558.6L772.0 559.1L772.0 560.6M731.7 556.2L739.0 556.7L739.0 553.7L731.7 554.2L731.7 556.2M763.4 586.2L769.5 586.7L767.1 585.0L763.4 586.2M547.9 583.0L554.7 584.2L551.1 585.0L547.9 583.0M559.6 591.8L563.3 592.3L561.6 592.8L559.6 591.8M713.4 548.4L723.2 547.9L721.9 546.2L714.6 546.4L713.4 548.4M729.3 548.6L734.1 548.1L731.7 546.6L728.0 547.1L729.3 548.6M693.9 550.1L703.6 549.1L698.8 548.1L691.4 548.8L693.9 550.1M696.3 547.9L711.0 547.6L708.5 546.4L696.3 546.9L696.3 547.9M723.2 544.0L726.8 543.7L724.4 543.0L723.2 544.0M711.0 555.7L713.4 555.2L712.2 554.5L711.0 555.7M708.5 550.3L713.4 550.1L711.0 549.3L708.5 550.3M770.8 587.7L773.2 588.4L772.0 586.7L770.8 587.7M775.6 584.5L778.8 584.2L777.4 583.5L775.6 584.5M718.3 553.2L724.4 552.7L721.9 551.8L718.3 553.2" fill="none" stroke="#000" stroke-width="2.2" stroke-linejoin="round"/>
</g>
<rect x="88.5" y="519.1" width="878.8" height="439.4" fill="none" stroke="#111" stroke-width="1.6"/>
<clipPath id="clipd"><rect x="1053.9" y="516.4" width="887.8" height="443.9"/></clipPath>
<g clip-path="url(#clipd)">
<rect x="1053.9" y="516.4" width="887.8" height="443.9" fill="#f4f4f4"/>
<g filter="url(#cm)"><rect x="1053.9" y="516.4" width="887.8" height="443.9" fill="#808080"/><g filter="url(#b12)"><ellipse cx="1120.5" cy="787.7" rx="37" ry="27.1" fill="#000" fill-opacity="0.15"/></g><g filter="url(#b10)"><ellipse cx="1177.2" cy="792.6" rx="22.2" ry="14.8" fill="#000" fill-opacity="0.12"/><ellipse cx="1066.2" cy="738.4" rx="19.7" ry="17.3" fill="#000" fill-opacity="0.10"/><ellipse cx="1954" cy="738.4" rx="19.7" ry="17.3" fill="#000" fill-opacity="0.10"/></g><g filter="url(#b12)"><ellipse cx="1103.2" cy="644.6" rx="61.7" ry="14.8" fill="#000" fill-opacity="0.05"/><ellipse cx="1991" cy="644.6" rx="61.7" ry="14.8" fill="#000" fill-opacity="0.05"/><ellipse cx="1127.9" cy="881.4" rx="98.6" ry="12.3" fill="#fff" fill-opacity="0.05"/><ellipse cx="2015.6" cy="881.4" rx="98.6" ry="12.3" fill="#fff" fill-opacity="0.05"/></g><g filter="url(#b10)"><ellipse cx="1344.9" cy="763" rx="49.3" ry="17.3" fill="#000" fill-opacity="0.18"/></g><g filter="url(#b14)"><ellipse cx="1497.8" cy="676.7" rx="98.6" ry="27.1" fill="#000" fill-opacity="0.13" transform="rotate(-8 1497.8 676.7)"/></g><g filter="url(#b12)"><ellipse cx="1613.7" cy="639.7" rx="37" ry="27.1" fill="#fff" fill-opacity="0.17"/><ellipse cx="1793.7" cy="649.6" rx="49.3" ry="24.7" fill="#fff" fill-opacity="0.17" transform="rotate(-20 1793.7 649.6)"/></g><g filter="url(#b14)"><ellipse cx="979.9" cy="595.3" rx="61.7" ry="19.7" fill="#000" fill-opacity="0.10"/><ellipse cx="1867.7" cy="595.3" rx="61.7" ry="19.7" fill="#000" fill-opacity="0.10"/></g><g filter="url(#b12)"><ellipse cx="1682.7" cy="701.4" rx="29.6" ry="19.7" fill="#fff" fill-opacity="0.10"/><ellipse cx="992.3" cy="800" rx="37" ry="24.7" fill="#fff" fill-opacity="0.08"/><ellipse cx="1880" cy="800" rx="37" ry="24.7" fill="#fff" fill-opacity="0.08"/></g><g filter="url(#b9)"><polyline points="1576.7,772.9 1633.4,797.5 1700,819.7" fill="none" stroke="#fff" stroke-opacity="0.30" stroke-width="24.7" stroke-linecap="round" stroke-linejoin="round"/></g><g filter="url(#b10)"><polyline points="1411.5,765.5 1473.1,775.3 1534.8,792.6 1596.4,814.8" fill="none" stroke="#000" stroke-opacity="0.34" stroke-width="32.1" stroke-linecap="round" stroke-linejoin="round"/></g><g filter="url(#b6)"><polyline points="1423.8,766.7 1468.2,771.6 1510.1,780.3" fill="none" stroke="#000" stroke-opacity="0.20" stroke-width="14.8" stroke-linecap="round" stroke-linejoin="round"/></g><g filter="url(#b7)"><ellipse cx="1241.3" cy="731" rx="32.1" ry="9.9" fill="#fff" fill-opacity="0.25"/><ellipse cx="1229" cy="758.1" rx="22.2" ry="17.3" fill="#fff" fill-opacity="0.25" transform="rotate(20 1229 758.1)"/></g><g filter="url(#b4)"><ellipse cx="1238.9" cy="767.9" rx="8.6" ry="8.6" fill="#fff" fill-opacity="0.45"/></g><g filter="url(#b8)"><polyline points="1349.8,684.1 1386.8,659.4 1423.8,639.7" fill="none" stroke="#fff" stroke-opacity="0.16" stroke-width="14.8" stroke-linecap="round" stroke-linejoin="round"/></g><g filter="url(#b6)"><ellipse cx="1719.7" cy="676.7" rx="19.7" ry="12.3" fill="#fff" fill-opacity="0.22"/></g><g filter="url(#b7)"><ellipse cx="1786.3" cy="812.3" rx="17.3" ry="19.7" fill="#fff" fill-opacity="0.30"/></g><g filter="url(#b9)"><ellipse cx="1801.1" cy="750.7" rx="39.5" ry="24.7" fill="#000" fill-opacity="0.26"/></g><g filter="url(#b3)"><ellipse cx="1801.1" cy="742" rx="7.4" ry="4.9" fill="#000" fill-opacity="0.30"/></g><g filter="url(#b5)"><ellipse cx="1737" cy="723.6" rx="12.3" ry="9.9" fill="#000" fill-opacity="0.25"/></g><g filter="url(#b7)"><polyline points="1448.5,767.9 1497.8,775.3" fill="none" stroke="#000" stroke-opacity="0.20" stroke-width="17.3" stroke-linecap="round" stroke-linejoin="round"/></g><g filter="url(#b4)"><polyline points="938,729 992.3,730 1046.5,731" fill="none" stroke="#000" stroke-opacity="0.50" stroke-width="11.1" stroke-linecap="round" stroke-linejoin="round"/><polyline points="1825.8,729 1880,730 1934.3,731" fill="none" stroke="#000" stroke-opacity="0.50" stroke-width="11.1" stroke-linecap="round" stroke-linejoin="round"/><ellipse cx="1838.1" cy="729.5" rx="14.8" ry="5.4" fill="#000" fill-opacity="0.25"/></g><g filter="url(#b7)"><ellipse cx="1453.4" cy="707.5" rx="74" ry="9.9" fill="#000" fill-opacity="0.22"/></g><g filter="url(#b6)"><ellipse cx="1352.3" cy="716.6" rx="27.1" ry="16" fill="#000" fill-opacity="0.60"/></g><g filter="url(#b5)"><polyline points="1362.2,719.1 1399.1,722.6" fill="none" stroke="#000" stroke-opacity="0.30" stroke-width="17.3" stroke-linecap="round" stroke-linejoin="round"/></g><g filter="url(#b3_5)"><polyline points="1354.8,718.6 1386.8,723.1 1423.8,721.6 1460.8,719.1 1522.4,718.1 1596.4,718.6 1616.1,719.1" fill="none" stroke="#000" stroke-opacity="0.72" stroke-width="11.8" stroke-linecap="round" stroke-linejoin="round"/><polyline points="1616.1,719.1 1635.9,719.9" fill="none" stroke="#000" stroke-opacity="0.35" stroke-width="8.6" stroke-linecap="round" stroke-linejoin="round"/></g><g filter="url(#b6)"><ellipse cx="1448.5" cy="743.3" rx="29.6" ry="12.3" fill="#fff" fill-opacity="0.45"/></g><g filter="url(#b5)"><polyline points="1534.8,759.3 1566.8,765.5 1591.5,770.4" fill="none" stroke="#fff" stroke-opacity="0.55" stroke-width="12.3" stroke-linecap="round" stroke-linejoin="round"/></g><g filter="url(#b2_5)"><linearGradient id="g6" gradientUnits="userSpaceOnUse" x1="1416.4" y1="0" x2="1749.3" y2="0"><stop offset="0.000" stop-color="#fff" stop-opacity="0.50"/><stop offset="0.081" stop-color="#fff" stop-opacity="0.98"/><stop offset="0.363" stop-color="#fff" stop-opacity="1.00"/><stop offset="0.430" stop-color="#fff" stop-opacity="0.90"/><stop offset="0.733" stop-color="#fff" stop-opacity="0.88"/><stop offset="0.852" stop-color="#fff" stop-opacity="0.60"/><stop offset="1.000" stop-color="#fff" stop-opacity="0.20"/></linearGradient><polygon points="1416.4,742 1448.5,734.7 1475.6,727.5 1524.9,723.8 1598.9,721.1 1675.3,724.5 1724.7,729.5 1746.8,734.4 1719.7,732.9 1675.3,731.2 1626,732.2 1552,735.9 1527.4,740.1 1497.8,745.7 1460.8,748.2 1428.7,747" fill="url(#g6)"/></g><g filter="url(#b3)"><linearGradient id="g7" gradientUnits="userSpaceOnUse" x1="1423.8" y1="0" x2="1589" y2="0"><stop offset="0.000" stop-color="#fff" stop-opacity="0.60"/><stop offset="0.149" stop-color="#fff" stop-opacity="1.00"/><stop offset="0.627" stop-color="#fff" stop-opacity="1.00"/><stop offset="0.746" stop-color="#fff" stop-opacity="0.85"/><stop offset="0.881" stop-color="#fff" stop-opacity="0.65"/><stop offset="1.000" stop-color="#fff" stop-opacity="0.42"/></linearGradient><polygon points="1428.7,743.3 1473.1,742 1527.4,740.1 1552,745.3 1571.8,753.1 1589,763 1584.1,771.6 1559.4,767.9 1524.9,762.5 1475.6,758.8 1443.5,751.9" fill="url(#g7)"/></g></g>
<path d="M1039.4 650.1L1037.1 654.5L1032.9 656.2L1031.0 658.5L1029.7 661.9L1030.2 663.4L1028.0 666.3L1025.5 668.6L1021.3 670.5L1018.1 674.2L1016.9 677.2L1014.4 679.9L1013.7 683.1L1012.0 686.6L1014.0 690.3L1013.2 696.4L1013.2 698.9L1010.7 702.1L1012.5 705.1L1012.7 708.0L1015.7 710.0L1018.1 712.5L1021.1 715.4L1023.1 719.9L1026.8 721.8L1030.5 724.8L1035.4 727.5L1041.6 725.8L1046.5 725.8L1049.0 726.5L1053.9 724.5L1057.6 723.1L1060.1 722.6L1065.0 722.8L1067.5 726.0L1069.9 727.7L1072.4 727.3L1074.9 726.8L1077.3 728.7L1078.1 732.2L1077.3 735.9L1076.8 739.6L1078.6 744.5L1082.3 748.2L1084.2 753.1L1086.5 759.3L1087.9 765.5L1084.7 771.6L1083.0 777.8L1083.0 782.7L1086.0 787.7L1089.7 793.8L1090.9 802.5L1094.6 808.9L1097.1 814.8L1099.0 821.0L1099.5 822.9L1103.2 824.2L1108.2 822.7L1116.8 822.2L1121.7 820.2L1127.9 814.8L1131.1 810.6L1134.0 807.4L1135.0 802.5L1140.2 798.8L1141.4 792.6L1140.2 788.9L1143.9 785.2L1150.1 780.3L1153.8 775.3L1153.8 765.5L1151.3 758.1L1150.8 754.4L1150.1 750.7L1153.8 744.5L1156.2 742.0L1159.9 735.9L1164.9 733.4L1169.8 728.5L1173.5 723.6L1176.0 717.4L1179.2 712.5L1180.4 709.3L1174.7 710.7L1167.3 712.0L1162.4 712.7L1160.7 710.0L1159.4 707.5L1156.2 704.3L1152.5 700.1L1150.8 699.4L1148.8 694.0L1145.9 691.5L1145.1 686.6L1143.9 682.9L1141.4 679.2L1139.0 674.2L1136.5 670.5L1134.3 664.6L1133.6 661.4L1127.9 660.9L1122.9 661.9L1115.6 660.4L1111.9 658.9L1105.7 657.2L1103.2 659.7L1103.2 662.4L1100.8 663.6L1097.1 661.9L1092.1 660.4L1090.9 658.5L1086.0 657.2L1081.5 656.2L1079.3 655.0L1080.3 652.0L1081.0 648.3L1078.6 646.6L1074.9 647.4L1069.9 647.1L1063.8 647.4L1058.8 648.1L1053.9 649.8L1050.2 651.5L1046.5 651.3L1041.6 651.3L1039.4 650.1M1927.1 650.1L1924.9 654.5L1920.7 656.2L1918.7 658.5L1917.5 661.9L1918.0 663.4L1915.8 666.3L1913.3 668.6L1909.1 670.5L1905.9 674.2L1904.7 677.2L1902.2 679.9L1901.5 683.1L1899.7 686.6L1901.7 690.3L1901.0 696.4L1901.0 698.9L1898.5 702.1L1900.2 705.1L1900.5 708.0L1903.4 710.0L1905.9 712.5L1908.9 715.4L1910.8 719.9L1914.5 721.8L1918.2 724.8L1923.2 727.5L1929.3 725.8L1934.3 725.8L1936.7 726.5L1941.7 724.5L1945.4 723.1L1947.8 722.6L1952.8 722.8L1955.2 726.0L1957.7 727.7L1960.2 727.3L1962.6 726.8L1965.1 728.7L1965.8 732.2L1965.1 735.9L1964.6 739.6L1966.3 744.5L1970.0 748.2L1972.0 753.1L1974.2 759.3L1975.7 765.5L1972.5 771.6L1970.8 777.8L1970.8 782.7L1973.7 787.7L1977.4 793.8L1978.7 802.5L1982.3 808.9L1984.8 814.8L1986.8 821.0L1987.3 822.9L1991.0 824.2L1995.9 822.7L2004.5 822.2L2009.5 820.2L2015.6 814.8L2018.8 810.6L2021.8 807.4L2022.8 802.5L2028.0 798.8L2029.2 792.6L2028.0 788.9L2031.7 785.2L2037.8 780.3L2041.5 775.3L2041.5 765.5L2039.1 758.1L2038.6 754.4L2037.8 750.7L2041.5 744.5L2044.0 742.0L2047.7 735.9L2052.6 733.4L2057.6 728.5L2061.3 723.6L2063.7 717.4L2066.9 712.5L2068.2 709.3L2062.5 710.7L2055.1 712.0L2050.2 712.7L2048.4 710.0L2047.2 707.5L2044.0 704.3L2040.3 700.1L2038.6 699.4L2036.6 694.0L2033.6 691.5L2032.9 686.6L2031.7 682.9L2029.2 679.2L2026.7 674.2L2024.3 670.5L2022.1 664.6L2021.3 661.4L2015.6 660.9L2010.7 661.9L2003.3 660.4L1999.6 658.9L1993.4 657.2L1991.0 659.7L1991.0 662.4L1988.5 663.6L1984.8 661.9L1979.9 660.4L1978.7 658.5L1973.7 657.2L1969.3 656.2L1967.1 655.0L1968.0 652.0L1968.8 648.3L1966.3 646.6L1962.6 647.4L1957.7 647.1L1951.5 647.4L1946.6 648.1L1941.7 649.8L1938.0 651.5L1934.3 651.3L1929.3 651.3L1927.1 650.1M1133.6 661.4L1138.2 661.2L1140.0 658.2L1141.4 654.8L1142.4 650.8L1142.7 648.3L1140.2 647.6L1137.7 649.1L1134.0 649.3L1129.1 648.8L1125.4 647.8L1121.7 647.1L1119.2 643.9L1120.0 640.9L1118.5 639.7L1121.7 639.0L1125.4 637.2L1122.9 637.2L1119.2 638.2L1115.6 637.5L1112.3 638.0L1110.4 638.5L1111.4 640.9L1110.1 643.4L1110.6 644.6L1109.4 648.3L1107.4 647.6L1106.9 645.1L1105.9 643.9L1104.9 642.2L1103.2 640.4L1101.7 637.5L1101.7 635.3L1099.5 633.5L1095.8 631.6L1092.1 629.8L1089.7 627.4L1087.7 625.9L1084.2 626.4L1084.2 628.6L1087.4 631.1L1089.7 634.3L1093.4 636.0L1095.8 637.2L1099.5 639.5L1098.3 640.0L1096.1 638.5L1094.6 640.2L1096.1 642.2L1093.6 644.6L1092.4 644.1L1092.9 640.9L1090.9 639.0L1088.4 637.5L1084.7 635.8L1081.0 633.5L1079.3 630.8L1076.1 628.9L1073.6 630.1L1071.2 631.1L1066.2 631.6L1061.8 631.6L1061.8 634.8L1058.8 636.8L1055.9 638.0L1053.9 640.9L1052.7 643.9L1051.9 645.6L1049.0 647.8L1042.8 648.1L1040.1 649.6L1038.4 648.1L1035.7 646.6L1032.0 647.1L1032.2 642.9L1030.5 640.9L1032.0 637.2L1032.2 633.5L1031.0 632.3L1034.2 630.6L1039.8 630.8L1045.3 631.1L1049.5 631.3L1050.7 628.6L1050.9 624.9L1048.5 622.0L1042.8 620.2L1042.3 618.7L1046.5 618.0L1050.0 618.3L1050.7 616.0L1054.4 616.3L1057.6 614.6L1058.6 612.6L1061.3 611.8L1063.8 610.4L1065.7 607.9L1068.2 606.7L1071.2 606.4L1074.9 605.7L1075.1 602.7L1073.9 599.0L1074.9 597.5L1080.0 596.1L1079.3 598.3L1080.5 599.5L1078.6 601.7L1080.5 604.2L1084.7 604.2L1088.4 605.2L1093.4 604.4L1099.5 603.2L1103.0 603.7L1105.9 602.0L1105.9 599.0L1107.2 596.8L1109.4 596.1L1112.8 597.8L1114.1 594.6L1111.9 593.1L1114.8 591.6L1122.9 591.6L1128.4 590.6L1125.4 589.9L1119.2 589.4L1110.6 590.6L1106.7 588.4L1106.9 584.2L1110.6 581.0L1116.5 578.1L1114.6 576.1L1108.9 576.6L1106.4 579.8L1102.0 581.8L1097.3 584.2L1096.3 587.9L1099.5 589.9L1100.3 591.9L1095.8 594.1L1094.8 597.8L1093.4 599.8L1089.2 601.7L1085.7 601.2L1085.0 599.5L1083.0 596.1L1081.5 592.9L1080.0 590.9L1078.6 592.9L1073.6 595.1L1070.2 595.1L1067.7 593.3L1066.7 590.4L1066.2 586.7L1068.7 584.2L1074.9 581.8L1079.8 579.3L1084.7 575.6L1088.4 571.9L1093.4 569.4L1099.5 566.2L1105.7 565.2L1113.1 563.3L1118.0 563.8L1124.2 563.3L1130.3 565.2L1135.3 567.0L1142.7 568.2L1152.5 571.4L1155.5 573.6L1152.5 575.6L1147.6 575.3L1140.2 574.9L1139.7 579.3L1145.1 580.8L1147.6 579.0L1153.8 579.3L1155.0 575.3L1162.4 574.9L1162.9 569.9L1167.3 571.2L1172.3 571.6L1184.6 569.4L1188.3 569.9L1196.9 568.4L1204.3 566.2L1211.7 567.5L1219.1 569.2L1217.9 564.5L1222.8 562.0L1225.3 558.8L1232.7 558.8L1233.2 563.3L1232.7 567.0L1235.2 570.7L1237.6 569.4L1237.6 564.5L1241.3 560.8L1246.2 560.1L1252.4 560.8L1252.4 557.1L1266.0 554.6L1269.7 552.9L1275.8 552.2L1288.2 550.9L1300.5 548.5L1310.4 546.7L1315.3 547.7L1319.0 549.7L1327.6 549.2L1333.8 551.4L1332.6 555.9L1330.1 556.6L1344.9 557.1L1354.8 558.3L1367.1 557.1L1372.0 560.8L1379.4 562.0L1386.8 561.8L1396.7 560.1L1401.6 559.1L1413.9 560.1L1423.8 562.0L1428.7 563.5L1441.1 563.3L1448.5 564.5L1453.4 566.7L1465.7 566.2L1473.1 565.5L1485.5 566.2L1494.1 567.5L1497.8 568.4L1502.7 569.4L1510.1 571.6L1520.0 573.4L1523.2 575.3L1520.0 576.8L1516.3 578.6L1515.0 579.8L1508.9 578.1L1501.5 576.8L1495.3 578.6L1490.4 579.3L1494.1 583.0L1495.3 584.7L1490.4 584.2L1480.5 586.2L1473.1 590.4L1463.3 589.7L1458.3 590.9L1455.9 594.1L1453.4 595.8L1456.6 600.3L1452.9 602.7L1448.5 607.2L1444.8 608.9L1440.3 612.6L1438.6 608.9L1437.6 602.7L1439.3 597.8L1444.8 594.1L1450.9 589.9L1457.1 586.9L1450.9 585.5L1447.0 585.0L1441.1 586.4L1434.9 591.6L1428.7 592.9L1421.3 591.9L1411.5 592.1L1406.5 592.1L1400.4 594.8L1395.4 599.0L1393.0 604.0L1390.5 604.0L1399.1 606.4L1402.6 609.4L1401.6 615.0L1400.4 618.7L1395.4 622.4L1389.3 628.6L1381.9 632.8L1378.2 632.6L1376.2 634.0L1373.7 637.2L1369.5 639.7L1368.3 640.9L1370.8 643.9L1373.0 647.1L1372.8 651.3L1369.5 652.5L1365.6 653.3L1365.8 649.6L1366.3 645.9L1362.9 645.4L1361.4 643.4L1362.6 640.9L1360.4 640.0L1355.5 638.5L1352.8 642.7L1353.5 640.2L1354.8 637.5L1352.3 637.7L1348.6 640.0L1344.9 641.7L1344.1 643.4L1347.1 645.9L1347.6 646.6L1351.5 645.1L1356.0 646.1L1353.0 647.8L1349.8 650.1L1347.8 652.5L1350.8 657.0L1352.3 659.4L1354.5 661.9L1353.8 663.9L1354.8 664.9L1353.5 668.1L1351.5 670.3L1349.1 674.2L1346.1 677.9L1341.2 681.6L1335.5 683.4L1330.1 684.8L1325.9 686.6L1325.7 688.3L1324.7 685.3L1321.5 685.1L1317.8 687.1L1316.5 688.3L1315.0 691.5L1316.3 694.0L1318.5 697.7L1322.0 700.6L1323.4 706.3L1322.7 710.0L1317.8 712.5L1316.5 714.9L1312.8 717.1L1312.3 713.0L1309.1 712.2L1306.7 708.0L1302.7 705.1L1300.5 706.3L1299.3 712.5L1301.2 717.4L1303.0 721.3L1305.9 723.1L1308.9 728.5L1309.1 731.9L1310.9 734.9L1309.1 735.1L1305.4 732.4L1303.7 731.0L1301.5 727.3L1301.2 724.8L1300.5 721.1L1296.8 718.6L1296.3 714.9L1297.0 711.2L1296.8 705.1L1294.8 697.7L1290.6 697.4L1286.4 698.9L1286.9 694.0L1284.5 690.3L1281.5 686.6L1280.3 682.9L1277.1 684.1L1273.4 684.8L1268.4 685.3L1267.2 689.0L1263.5 690.8L1258.6 695.2L1254.9 698.2L1251.7 700.1L1251.9 706.3L1250.7 710.0L1249.5 713.0L1245.0 718.4L1242.5 716.2L1240.1 709.3L1237.6 702.6L1235.2 697.7L1233.4 691.5L1232.9 685.6L1233.2 683.6L1231.9 684.8L1226.5 687.1L1224.1 683.4L1226.5 682.1L1222.8 680.4L1219.6 677.2L1217.9 675.7L1211.7 676.0L1205.6 676.2L1199.4 675.7L1195.2 674.7L1193.7 671.5L1188.3 672.8L1182.1 669.8L1178.4 665.6L1174.7 663.4L1172.3 664.4L1172.8 668.1L1176.0 671.8L1177.7 674.2L1179.2 677.2L1180.4 674.2L1181.1 678.4L1184.6 678.7L1188.3 678.2L1190.8 675.5L1192.7 673.5L1193.0 677.2L1195.0 679.4L1198.9 680.4L1201.4 683.1L1199.4 687.8L1196.9 688.0L1194.5 691.7L1190.8 694.5L1184.6 697.4L1179.7 700.6L1174.7 702.6L1169.8 705.1L1164.9 706.8L1161.2 707.0L1159.9 703.8L1159.2 700.1L1158.7 697.7L1156.2 694.0L1152.5 689.0L1150.1 685.3L1147.6 679.2L1143.9 674.7L1140.2 669.3L1139.0 669.3L1137.7 669.5L1136.5 668.8L1134.3 664.6M2021.3 661.4L2026.0 661.2L2027.7 658.2L2029.2 654.8L2030.2 650.8L2030.4 648.3L2028.0 647.6L2025.5 649.1L2021.8 649.3L2016.9 648.8L2013.2 647.8L2009.5 647.1L2007.0 643.9L2007.7 640.9L2006.3 639.7L2009.5 639.0L2013.2 637.2L2010.7 637.2L2007.0 638.2L2003.3 637.5L2000.1 638.0L1998.1 638.5L1999.1 640.9L1997.9 643.4L1998.4 644.6L1997.1 648.3L1995.2 647.6L1994.7 645.1L1993.7 643.9L1992.7 642.2L1991.0 640.4L1989.5 637.5L1989.5 635.3L1987.3 633.5L1983.6 631.6L1979.9 629.8L1977.4 627.4L1975.4 625.9L1972.0 626.4L1972.0 628.6L1975.2 631.1L1977.4 634.3L1981.1 636.0L1983.6 637.2L1987.3 639.5L1986.0 640.0L1983.8 638.5L1982.3 640.2L1983.8 642.2L1981.4 644.6L1980.1 644.1L1980.6 640.9L1978.7 639.0L1976.2 637.5L1972.5 635.8L1968.8 633.5L1967.1 630.8L1963.9 628.9L1961.4 630.1L1958.9 631.1L1954.0 631.6L1949.6 631.6L1949.6 634.8L1946.6 636.8L1943.6 638.0L1941.7 640.9L1940.4 643.9L1939.7 645.6L1936.7 647.8L1930.6 648.1L1927.9 649.6L1926.1 648.1L1923.4 646.6L1919.7 647.1L1920.0 642.9L1918.2 640.9L1919.7 637.2L1920.0 633.5L1918.7 632.3L1921.9 630.6L1927.6 630.8L1933.0 631.1L1937.2 631.3L1938.5 628.6L1938.7 624.9L1936.2 622.0L1930.6 620.2L1930.1 618.7L1934.3 618.0L1937.7 618.3L1938.5 616.0L1942.2 616.3L1945.4 614.6L1946.3 612.6L1949.1 611.8L1951.5 610.4L1953.5 607.9L1956.0 606.7L1958.9 606.4L1962.6 605.7L1962.9 602.7L1961.6 599.0L1962.6 597.5L1967.8 596.1L1967.1 598.3L1968.3 599.5L1966.3 601.7L1968.3 604.2L1972.5 604.2L1976.2 605.2L1981.1 604.4L1987.3 603.2L1990.7 603.7L1993.7 602.0L1993.7 599.0L1994.9 596.8L1997.1 596.1L2000.6 597.8L2001.8 594.6L1999.6 593.1L2002.6 591.6L2010.7 591.6L2016.1 590.6L2013.2 589.9L2007.0 589.4L1998.4 590.6L1994.4 588.4L1994.7 584.2L1998.4 581.0L2004.3 578.1L2002.3 576.1L1996.7 576.6L1994.2 579.8L1989.7 581.8L1985.1 584.2L1984.1 587.9L1987.3 589.9L1988.0 591.9L1983.6 594.1L1982.6 597.8L1981.1 599.8L1976.9 601.7L1973.5 601.2L1972.7 599.5L1970.8 596.1L1969.3 592.9L1967.8 590.9L1966.3 592.9L1961.4 595.1L1957.9 595.1L1955.5 593.3L1954.5 590.4L1954.0 586.7L1956.5 584.2L1962.6 581.8L1967.6 579.3L1972.5 575.6L1976.2 571.9L1981.1 569.4L1987.3 566.2L1993.4 565.2L2000.8 563.3L2005.8 563.8L2011.9 563.3L2018.1 565.2L2023.0 567.0L2030.4 568.2L2040.3 571.4L2043.3 573.6L2040.3 575.6L2035.4 575.3L2028.0 574.9L2027.5 579.3L2032.9 580.8L2035.4 579.0L2041.5 579.3L2042.8 575.3L2050.2 574.9L2050.7 569.9L2055.1 571.2L2060.0 571.6L2072.4 569.4L2076.1 569.9L2084.7 568.4L2092.1 566.2L2099.5 567.5L2106.9 569.2L2105.6 564.5L2110.6 562.0L2113.0 558.8L2120.4 558.8L2120.9 563.3L2120.4 567.0L2122.9 570.7L2125.4 569.4L2125.4 564.5L2129.1 560.8L2134.0 560.1L2140.2 560.8L2140.2 557.1L2153.7 554.6L2157.4 552.9L2163.6 552.2L2175.9 550.9L2188.3 548.5L2198.1 546.7L2203.1 547.7L2206.8 549.7L2215.4 549.2L2221.6 551.4L2220.3 555.9L2217.9 556.6L2232.6 557.1L2242.5 558.3L2254.8 557.1L2259.8 560.8L2267.2 562.0L2274.6 561.8L2284.4 560.1L2289.4 559.1L2301.7 560.1L2311.6 562.0L2316.5 563.5L2328.8 563.3L2336.2 564.5L2341.2 566.7L2353.5 566.2L2360.9 565.5L2373.2 566.2L2381.8 567.5L2385.5 568.4L2390.5 569.4L2397.9 571.6L2407.7 573.4L2410.9 575.3L2407.7 576.8L2404.0 578.6L2402.8 579.8L2396.6 578.1L2389.2 576.8L2383.1 578.6L2378.1 579.3L2381.8 583.0L2383.1 584.7L2378.1 584.2L2368.3 586.2L2360.9 590.4L2351.0 589.7L2346.1 590.9L2343.6 594.1L2341.2 595.8L2344.4 600.3L2340.7 602.7L2336.2 607.2L2332.5 608.9L2328.1 612.6L2326.4 608.9L2325.4 602.7L2327.1 597.8L2332.5 594.1L2338.7 589.9L2344.9 586.9L2338.7 585.5L2334.7 585.0L2328.8 586.4L2322.7 591.6L2316.5 592.9L2309.1 591.9L2299.2 592.1L2294.3 592.1L2288.1 594.8L2283.2 599.0L2280.7 604.0L2278.3 604.0L2286.9 606.4L2290.4 609.4L2289.4 615.0L2288.1 618.7L2283.2 622.4L2277.0 628.6L2269.6 632.8L2265.9 632.6L2264.0 634.0L2261.5 637.2L2257.3 639.7L2256.1 640.9L2258.5 643.9L2260.8 647.1L2260.5 651.3L2257.3 652.5L2253.4 653.3L2253.6 649.6L2254.1 645.9L2250.6 645.4L2249.2 643.4L2250.4 640.9L2248.2 640.0L2243.3 638.5L2240.5 642.7L2241.3 640.2L2242.5 637.5L2240.0 637.7L2236.3 640.0L2232.6 641.7L2231.9 643.4L2234.9 645.9L2235.4 646.6L2239.3 645.1L2243.7 646.1L2240.8 647.8L2237.6 650.1L2235.6 652.5L2238.6 657.0L2240.0 659.4L2242.3 661.9L2241.5 663.9L2242.5 664.9L2241.3 668.1L2239.3 670.3L2236.8 674.2L2233.9 677.9L2228.9 681.6L2223.3 683.4L2217.9 684.8L2213.7 686.6L2213.4 688.3L2212.4 685.3L2209.2 685.1L2205.5 687.1L2204.3 688.3L2202.8 691.5L2204.0 694.0L2206.3 697.7L2209.7 700.6L2211.2 706.3L2210.5 710.0L2205.5 712.5L2204.3 714.9L2200.6 717.1L2200.1 713.0L2196.9 712.2L2194.4 708.0L2190.5 705.1L2188.3 706.3L2187.0 712.5L2189.0 717.4L2190.7 721.3L2193.7 723.1L2196.6 728.5L2196.9 731.9L2198.6 734.9L2196.9 735.1L2193.2 732.4L2191.5 731.0L2189.2 727.3L2189.0 724.8L2188.3 721.1L2184.6 718.6L2184.1 714.9L2184.8 711.2L2184.6 705.1L2182.6 697.7L2178.4 697.4L2174.2 698.9L2174.7 694.0L2172.2 690.3L2169.3 686.6L2168.0 682.9L2164.8 684.1L2161.1 684.8L2156.2 685.3L2155.0 689.0L2151.3 690.8L2146.3 695.2L2142.6 698.2L2139.4 700.1L2139.7 706.3L2138.4 710.0L2137.2 713.0L2132.8 718.4L2130.3 716.2L2127.8 709.3L2125.4 702.6L2122.9 697.7L2121.2 691.5L2120.7 685.6L2120.9 683.6L2119.7 684.8L2114.3 687.1L2111.8 683.4L2114.3 682.1L2110.6 680.4L2107.4 677.2L2105.6 675.7L2099.5 676.0L2093.3 676.2L2087.2 675.7L2083.0 674.7L2081.5 671.5L2076.1 672.8L2069.9 669.8L2066.2 665.6L2062.5 663.4L2060.0 664.4L2060.5 668.1L2063.7 671.8L2065.5 674.2L2066.9 677.2L2068.2 674.2L2068.9 678.4L2072.4 678.7L2076.1 678.2L2078.5 675.5L2080.5 673.5L2080.7 677.2L2082.7 679.4L2086.7 680.4L2089.1 683.1L2087.2 687.8L2084.7 688.0L2082.2 691.7L2078.5 694.5L2072.4 697.4L2067.4 700.6L2062.5 702.6L2057.6 705.1L2052.6 706.8L2048.9 707.0L2047.7 703.8L2047.0 700.1L2046.5 697.7L2044.0 694.0L2040.3 689.0L2037.8 685.3L2035.4 679.2L2031.7 674.7L2028.0 669.3L2026.7 669.3L2025.5 669.5L2024.3 668.8L2022.1 664.6M1125.4 637.0L1122.9 635.5L1122.9 633.5L1124.4 630.3L1127.1 626.9L1129.6 623.9L1132.3 623.4L1136.5 624.9L1134.0 626.4L1136.8 628.6L1140.2 627.9L1143.9 626.6L1141.4 626.1L1140.2 624.2L1146.4 622.2L1150.6 622.0L1148.1 623.4L1146.9 625.4L1145.9 626.9L1147.6 628.9L1151.3 630.8L1156.2 634.8L1156.2 636.0L1152.5 637.2L1147.6 637.5L1142.7 635.5L1140.5 634.8L1135.3 634.8L1131.6 636.8L1125.4 637.0M1175.2 623.9L1180.2 622.2L1184.6 622.9L1184.6 626.6L1180.4 628.6L1179.7 632.3L1183.9 635.3L1184.6 639.7L1186.8 642.2L1186.8 646.4L1182.1 647.6L1177.2 646.1L1174.7 644.6L1175.7 639.2L1173.5 635.3L1171.0 632.3L1169.8 628.6L1170.8 625.7L1175.2 623.9M1039.8 615.0L1044.0 614.1L1050.2 613.6L1055.1 613.1L1057.4 611.8L1056.4 610.6L1058.1 608.4L1054.6 607.7L1054.1 606.4L1052.7 604.0L1050.2 601.5L1049.0 600.3L1046.5 600.3L1047.7 599.0L1049.5 596.6L1046.5 596.1L1044.0 596.3L1046.5 593.8L1041.6 593.8L1039.8 596.6L1040.3 599.0L1039.1 601.5L1041.8 602.7L1041.6 603.5L1045.3 603.2L1046.0 604.7L1046.7 605.9L1046.5 606.9L1042.8 606.7L1043.3 608.1L1043.5 609.6L1041.1 610.6L1043.5 611.1L1046.0 611.6L1043.5 612.1L1041.6 613.3L1039.8 615.0M1927.6 615.0L1931.8 614.1L1938.0 613.6L1942.9 613.1L1945.1 611.8L1944.1 610.6L1945.9 608.4L1942.4 607.7L1941.9 606.4L1940.4 604.0L1938.0 601.5L1936.7 600.3L1934.3 600.3L1935.5 599.0L1937.2 596.6L1934.3 596.1L1931.8 596.3L1934.3 593.8L1929.3 593.8L1927.6 596.6L1928.1 599.0L1926.9 601.5L1929.6 602.7L1929.3 603.5L1933.0 603.2L1933.8 604.7L1934.5 605.9L1934.3 606.9L1930.6 606.7L1931.1 608.1L1931.3 609.6L1928.8 610.6L1931.3 611.1L1933.8 611.6L1931.3 612.1L1929.3 613.3L1927.6 615.0M1926.9 609.6L1926.6 606.9L1926.4 605.2L1928.1 604.0L1926.9 602.2L1923.7 602.0L1921.2 602.2L1920.5 604.4L1917.0 604.7L1917.5 606.7L1919.5 607.2L1917.2 609.6L1916.5 610.6L1918.2 611.4L1921.9 610.6L1925.9 609.6L1926.9 609.6M1887.4 580.5L1886.2 576.8L1882.5 576.8L1887.4 574.6L1894.8 575.3L1901.0 574.4L1905.9 575.6L1908.1 577.8L1905.9 579.5L1901.0 581.0L1895.5 582.0L1889.9 580.8L1887.4 580.5M1084.5 645.1L1086.7 644.1L1092.4 643.9L1091.1 646.4L1091.1 647.8L1089.2 647.1L1085.0 645.6L1084.5 645.1M1074.6 642.2L1074.1 637.5L1076.6 636.8L1078.1 638.5L1077.6 641.7L1076.1 642.2L1074.6 642.2M1075.1 636.3L1075.1 633.8L1077.1 632.3L1077.3 634.5L1076.6 636.3L1075.1 636.3M1111.9 651.3L1114.3 650.8L1118.8 651.5L1115.1 652.3L1111.9 651.3M1133.6 652.0L1135.3 651.1L1139.2 650.3L1137.7 652.0L1135.3 653.0L1133.6 652.0M1250.9 714.2L1253.6 717.4L1255.9 719.9L1255.4 722.6L1252.7 723.8L1250.9 721.6L1250.7 718.6L1250.9 714.2M1175.5 767.9L1178.4 776.6L1176.7 780.3L1174.2 787.7L1171.0 797.5L1169.8 800.2L1165.4 801.2L1162.4 799.5L1161.2 792.6L1163.4 787.7L1162.4 780.3L1167.3 777.1L1171.8 774.1L1173.5 771.6L1175.5 767.9M1376.7 654.5L1380.6 651.1L1383.1 650.8L1388.0 650.6L1391.2 646.6L1392.5 647.6L1395.4 645.9L1398.2 643.4L1399.1 640.2L1399.9 636.8L1402.6 636.3L1403.3 638.5L1404.1 640.7L1402.8 643.9L1401.6 646.6L1401.4 649.8L1399.6 651.8L1398.6 652.0L1397.2 651.5L1396.2 653.0L1392.2 653.0L1391.2 653.8L1388.8 655.7L1387.1 653.8L1384.3 653.0L1380.6 653.8L1377.4 654.8L1376.7 654.5M1399.1 636.0L1399.9 633.5L1398.6 633.1L1402.3 631.6L1403.1 628.6L1403.8 626.1L1406.5 628.4L1410.2 630.1L1412.2 631.6L1412.7 631.8L1408.5 633.8L1407.0 634.8L1403.6 633.3L1401.4 635.3L1399.1 636.0M1374.0 656.2L1375.7 654.8L1376.9 654.8L1378.7 656.5L1378.4 659.4L1377.4 660.9L1376.2 661.9L1375.0 660.9L1375.2 658.9L1374.0 657.7L1374.0 656.2M1380.6 657.0L1381.6 654.5L1384.3 653.5L1386.1 654.3L1385.1 656.2L1382.6 656.0L1381.6 657.5L1380.6 657.0M1404.1 624.9L1403.8 621.2L1404.6 617.5L1404.6 612.6L1403.3 608.9L1405.3 604.4L1407.3 607.7L1407.0 611.4L1409.0 617.5L1406.5 622.0L1407.8 624.4L1405.3 622.9L1404.1 624.9M1352.3 676.7L1354.5 676.5L1353.5 680.4L1351.8 684.1L1350.3 682.1L1350.1 680.2L1352.3 676.7M1322.0 691.0L1323.9 693.5L1326.4 692.5L1327.6 689.8L1326.4 688.8L1323.2 689.3L1322.0 691.0M1351.3 692.7L1353.5 692.5L1355.2 692.7L1355.7 696.4L1353.8 699.6L1353.8 703.3L1356.0 703.3L1359.9 706.3L1357.2 706.3L1353.5 704.1L1351.3 703.1L1351.3 700.4L1349.3 698.2L1350.8 697.7L1351.3 692.7M1354.8 721.1L1357.0 718.4L1360.2 718.1L1363.1 714.2L1365.8 719.9L1365.1 722.8L1363.1 724.5L1359.7 723.1L1354.8 721.1M1360.4 707.5L1362.9 708.0L1363.9 711.0L1361.9 710.2L1360.4 707.5M1360.4 710.0L1362.2 710.5L1362.6 713.4L1361.2 713.2L1360.4 710.0M1354.5 709.0L1357.0 710.0L1356.0 712.2L1354.5 712.2L1354.5 709.0M1357.0 711.5L1358.5 711.7L1357.7 715.9L1355.7 714.2L1357.0 711.5M1359.4 710.7L1359.9 712.5L1358.2 714.9L1358.7 712.7L1359.4 710.7M1342.9 717.6L1346.1 715.4L1348.8 712.5L1348.6 710.5L1346.9 713.0L1344.4 715.7L1342.9 717.6M1350.6 705.1L1353.5 705.8L1352.8 708.3L1351.3 707.5L1350.6 705.1M1288.9 724.5L1294.3 725.5L1296.8 728.5L1301.5 733.2L1304.2 734.2L1307.9 737.1L1309.9 740.8L1311.6 742.8L1315.3 746.0L1314.8 752.7L1311.6 752.9L1307.9 749.4L1304.2 745.3L1301.2 740.8L1298.5 737.1L1296.8 733.9L1293.1 729.7L1288.9 724.5M1313.3 755.1L1315.3 752.9L1320.2 753.9L1326.4 755.4L1331.3 755.4L1336.3 757.3L1336.0 759.6L1328.9 758.8L1321.5 757.6L1316.5 756.6L1313.3 755.1M1322.7 734.7L1324.4 733.4L1327.6 734.4L1331.3 731.0L1334.8 727.3L1338.7 725.3L1341.9 721.3L1344.1 722.6L1347.8 725.0L1344.9 726.3L1344.1 729.7L1344.9 733.4L1347.1 735.9L1344.4 737.1L1343.7 739.6L1341.2 743.3L1341.2 747.0L1339.7 748.2L1336.3 747.0L1332.6 746.2L1329.4 745.7L1325.7 745.5L1325.2 742.0L1322.7 739.1L1322.7 734.7M1348.3 751.9L1348.6 747.0L1346.9 745.0L1348.3 740.8L1349.1 738.4L1350.1 736.6L1352.3 735.1L1356.0 735.9L1359.7 736.1L1362.6 734.4L1360.7 737.4L1357.2 737.1L1353.5 737.1L1350.3 737.9L1351.8 740.8L1354.8 740.6L1358.0 740.3L1356.0 742.0L1353.5 742.8L1356.0 745.7L1357.2 749.4L1356.0 750.7L1353.5 749.4L1352.3 745.7L1350.6 745.5L1350.8 751.9L1348.3 751.9M1376.9 741.6L1380.6 739.3L1384.3 740.6L1384.8 744.5L1388.0 746.5L1393.0 742.0L1399.1 744.3L1404.1 746.0L1410.2 748.0L1413.4 750.7L1417.6 753.1L1416.4 755.1L1418.9 758.1L1422.6 761.8L1425.0 764.2L1421.3 763.7L1416.4 761.8L1413.9 758.1L1409.0 757.3L1407.3 760.5L1401.6 760.8L1396.7 758.3L1394.2 759.1L1393.7 756.6L1395.4 754.4L1391.7 750.7L1386.8 749.0L1383.1 747.7L1379.4 745.5L1381.9 743.8L1379.4 743.3L1376.9 741.6M1359.7 763.0L1362.2 760.5L1367.8 759.1L1364.6 760.5L1360.9 763.5L1359.7 763.0M1349.3 759.3L1353.5 759.3L1357.2 758.8L1354.8 760.1L1349.8 760.1L1349.3 759.3M1341.9 759.6L1344.9 758.6L1347.4 759.3L1343.7 760.5L1341.9 759.6M1369.5 746.5L1374.5 745.7L1376.5 747.0L1370.8 747.2L1369.5 746.5M1368.8 732.9L1370.0 735.4L1371.3 735.9L1369.3 737.4L1371.5 737.6L1369.8 739.3L1368.6 737.1L1368.3 734.7L1368.8 732.9M1364.6 746.2L1367.6 746.2L1366.6 747.7L1364.6 747.2L1364.6 746.2M1419.6 751.9L1422.6 751.9L1425.0 751.9L1427.5 750.4L1429.2 748.7L1427.5 751.9L1423.8 753.6L1420.1 753.1L1419.6 751.9M1425.8 744.8L1428.7 746.2L1431.2 749.4L1430.7 749.9L1427.5 747.0L1425.8 744.8M1435.1 750.7L1438.3 755.1L1437.4 755.4L1435.1 751.9L1435.1 750.7M1447.5 761.3L1450.4 762.5L1449.7 762.8L1447.7 762.0L1447.5 761.3M1449.9 759.1L1451.9 761.0L1451.2 761.5L1449.9 760.1L1449.9 759.1M1451.9 763.5L1454.1 764.7L1453.4 765.0L1451.9 764.2L1451.9 763.5M1439.8 754.6L1442.3 756.4L1441.8 756.6L1439.8 755.4L1439.8 754.6M1464.7 774.6L1466.2 775.8L1466.0 776.8L1464.7 776.3L1464.7 774.6M1466.2 777.8L1467.7 778.8L1467.0 779.3L1466.2 777.8M1468.4 781.5L1469.4 781.8L1468.9 782.2L1468.4 781.5M1458.3 788.2L1462.0 790.1L1465.7 793.3L1464.2 793.3L1459.6 789.6L1458.3 788.2M1491.1 781.8L1493.3 781.3L1494.3 783.0L1491.6 783.2L1491.1 781.8M1494.1 778.8L1497.5 778.5L1496.3 779.8L1494.3 779.8L1494.1 778.8M1557.2 688.5L1559.4 689.8L1558.0 691.7L1557.0 690.3L1557.2 688.5M1547.1 683.9L1552.0 685.3L1555.0 686.6L1557.0 687.8M1555.2 686.6L1557.0 687.1L1556.0 687.6L1555.2 686.6M1551.3 685.1L1552.8 685.6L1551.8 685.8L1551.3 685.1M1547.6 683.6L1548.8 683.9L1548.1 684.3L1547.6 683.6M1223.3 859.4L1227.8 859.2L1226.5 860.9L1224.1 860.7L1223.3 859.4M1790.5 864.9L1794.9 864.9L1799.1 865.3L1797.4 867.1L1793.7 867.1L1790.5 864.9M1333.8 792.6L1335.0 792.1L1340.0 789.6L1346.1 788.4L1352.3 786.4L1355.5 781.5L1358.5 780.3L1360.9 776.6L1363.4 774.1L1367.1 772.4L1370.0 775.1L1373.2 774.8L1375.0 770.4L1376.5 768.9L1379.4 766.7L1381.9 767.4L1386.8 768.4L1391.5 768.4L1389.3 771.6L1388.0 775.3L1391.7 777.8L1396.7 781.0L1401.1 781.5L1402.8 775.3L1403.1 769.2L1405.3 764.7L1407.8 769.2L1408.5 774.1L1412.2 775.3L1412.7 780.3L1414.7 785.2L1420.8 788.4L1423.8 792.6L1426.3 796.3L1431.2 800.5L1432.4 807.4L1431.2 813.6L1430.0 817.3L1426.8 821.9L1424.3 826.6L1423.6 830.8L1418.9 831.6L1414.7 834.8L1411.5 833.3L1409.0 832.8L1404.1 833.0L1400.4 832.1L1398.2 830.1L1396.7 826.1L1394.5 826.1L1395.4 823.7L1394.2 820.2L1393.0 824.4L1391.7 821.7L1389.3 824.2L1387.3 823.4L1384.8 819.2L1381.9 817.5L1377.7 816.0L1372.0 816.5L1364.6 818.0L1359.7 819.7L1354.8 821.9L1349.8 822.2L1344.9 824.7L1339.7 823.7L1337.5 822.9L1339.2 820.5L1339.2 816.8L1337.5 812.3L1336.5 808.6L1333.8 803.7L1334.5 798.8L1333.8 792.6M1410.7 838.7L1415.2 839.7L1419.6 839.2L1419.6 842.4L1418.6 844.9L1415.2 845.9L1412.0 842.4L1410.7 838.7M1479.8 823.2L1481.8 825.2L1484.2 827.1L1486.7 829.1L1487.7 831.1L1491.6 831.8L1494.1 831.3L1492.8 834.5L1490.4 835.0L1489.9 837.0L1486.7 840.7L1484.5 840.2L1485.5 837.0L1483.0 835.8L1482.5 834.8L1484.5 832.3L1484.2 829.1L1481.0 825.4L1479.8 823.2M1479.5 838.2L1481.8 839.5L1483.5 841.2L1481.8 843.9L1480.0 845.9L1476.3 847.8L1475.1 851.3L1471.4 853.3L1467.0 852.3L1464.5 850.6L1467.0 848.1L1469.4 846.9L1474.4 844.4L1476.8 841.4L1478.3 839.0L1479.5 838.2M1527.1 576.6L1532.3 579.3L1533.8 579.3L1539.7 579.3L1544.6 579.5L1544.6 581.8L1539.7 583.0L1535.3 584.2L1532.3 586.7L1533.5 589.2L1537.2 590.4L1540.9 590.6L1542.2 593.6L1550.8 593.6L1554.5 593.8L1553.3 596.6L1547.1 600.3L1540.9 602.2L1535.3 604.2L1539.7 603.0L1544.6 601.5L1550.8 599.5L1555.7 596.6L1560.7 594.1L1563.1 591.6L1567.3 592.4L1571.8 591.4L1576.7 590.4L1580.4 588.4L1586.6 590.4L1594.0 590.9L1597.7 591.4L1602.6 593.8L1605.1 595.3L1607.5 597.8L1611.2 600.3L1616.1 603.5L1619.8 605.2L1621.6 608.1L1626.0 610.6L1627.2 612.8L1632.2 614.8L1635.9 617.5L1638.8 617.5L1639.6 620.0L1634.4 619.0L1635.4 623.7L1635.9 629.8L1634.6 632.8L1635.4 637.2L1636.4 640.2L1639.6 645.1L1641.1 648.1L1644.3 653.0L1649.4 654.5L1652.6 657.7L1653.9 660.7L1655.9 663.4L1660.0 669.3L1660.3 670.3L1664.2 675.5L1666.0 677.9L1670.4 681.9L1671.6 681.1L1669.7 678.7L1667.9 675.5L1665.5 670.5L1663.0 666.8L1659.3 663.1L1658.6 660.2L1663.0 661.4L1665.0 665.6L1667.9 669.5L1671.6 674.2L1674.1 676.7L1679.3 681.1L1681.5 685.3L1681.3 687.8L1684.0 691.5L1690.1 694.0L1695.1 696.7L1700.0 698.6L1704.9 699.6L1708.6 698.4L1712.3 699.9L1714.3 702.6L1718.5 704.1L1723.4 705.8L1725.9 706.3L1727.1 707.5L1729.6 710.0L1730.3 711.2L1730.1 713.7L1732.5 714.2L1734.5 716.2L1736.5 717.9L1739.4 718.1L1743.1 720.3L1744.4 718.6L1745.6 716.4L1748.1 717.6L1749.3 720.3L1749.6 720.6L1750.5 723.6L1751.0 728.5L1749.3 732.2L1747.1 734.9L1744.4 737.1L1743.1 740.8L1743.9 743.8L1743.6 747.0L1741.2 749.4L1741.7 752.7L1744.6 755.1L1746.8 758.1L1749.3 763.0L1751.8 767.9L1753.8 772.4L1756.2 776.1L1762.9 779.8L1766.6 782.2L1768.3 784.0L1768.5 788.9L1767.8 796.3L1767.1 801.2L1765.3 808.6L1765.1 813.6L1765.1 819.7L1763.6 825.9L1761.1 829.6L1760.4 834.5L1759.9 840.7L1759.4 843.2L1758.4 846.9L1755.5 853.0L1756.0 858.0L1756.7 862.9L1759.2 867.8L1765.3 871.0L1769.0 874.0L1775.7 876.0L1780.1 874.0L1777.7 872.7L1774.0 870.3L1773.0 867.3L1771.5 865.3L1771.5 861.7L1774.5 859.2L1779.4 856.2L1775.2 853.0L1776.4 850.6L1780.1 849.3L1781.4 844.4L1783.8 843.2L1781.4 841.9L1781.4 839.5L1786.3 839.5L1788.3 838.2L1788.8 834.5L1793.7 834.0L1799.6 832.3L1801.8 828.1L1800.4 825.9L1797.6 823.7L1799.9 823.2L1803.6 824.4L1808.5 823.7L1811.0 821.5L1814.7 816.0L1817.6 812.3L1821.8 807.4L1822.1 802.5L1825.8 798.8L1830.7 796.8L1835.1 794.8L1838.1 794.8L1840.6 792.6L1842.3 788.4L1843.8 785.2L1845.5 780.3L1845.5 774.1L1846.7 770.4L1849.2 766.7L1853.6 761.8L1855.6 758.1L1854.9 751.9L1849.2 749.9L1844.3 745.7L1839.3 745.5L1832.4 744.5L1827.0 740.8L1822.1 741.3L1818.4 739.6L1817.1 734.7L1815.4 728.5L1811.5 724.8L1806.0 723.6L1801.1 723.6L1797.4 721.1L1793.7 717.6L1790.0 714.2L1787.5 712.5L1783.8 712.2L1778.9 712.2L1774.0 712.5L1769.0 710.0L1765.3 711.2L1764.6 707.8L1761.6 710.5L1757.2 711.2L1755.5 713.0L1754.2 715.2L1752.0 717.4L1750.8 717.1L1749.6 715.2L1744.6 715.2L1741.9 716.6L1738.0 714.9L1735.7 711.7L1735.0 708.8L1736.2 703.8L1736.5 701.4L1733.3 699.1L1729.6 698.9L1724.7 699.4L1723.9 697.7L1724.2 692.7L1725.9 690.3L1727.6 685.6L1724.7 685.1L1719.0 686.6L1718.5 690.3L1716.0 692.7L1708.6 693.5L1705.4 692.0L1703.7 690.3L1701.7 686.6L1700.7 682.9L1701.2 677.9L1701.7 674.2L1701.7 670.0L1704.9 667.8L1707.9 666.1L1711.1 664.9L1716.0 665.8L1721.0 666.3L1721.4 663.6L1724.7 663.1L1728.4 663.4L1731.3 665.1L1734.5 664.4L1737.0 666.8L1737.7 670.0L1739.9 673.7L1741.9 676.2L1743.4 676.0L1744.1 673.0L1743.1 668.1L1741.2 664.4L1741.4 660.7L1744.4 657.7L1748.1 654.8L1749.6 654.0L1753.0 652.8L1755.5 651.5L1754.5 647.6L1754.0 645.9L1755.2 643.9L1756.7 642.7L1757.9 641.4L1759.2 638.5L1764.1 637.2L1767.3 636.0L1769.0 635.5L1767.6 633.5L1767.3 632.1L1770.3 630.3L1775.2 628.6L1776.4 627.4L1780.1 626.6L1782.6 625.7L1782.6 626.6L1779.4 628.4L1778.9 630.3L1782.6 630.3L1785.1 628.4L1791.2 626.9L1793.7 624.9L1792.5 622.4L1790.0 625.2L1786.3 625.7L1782.6 624.4L1781.9 621.2L1780.1 620.0L1783.1 618.7L1777.7 617.3L1772.7 618.7L1769.0 621.2L1766.6 622.9L1771.5 618.7L1776.4 616.8L1782.6 614.6L1791.2 614.6L1796.2 613.8L1800.9 611.4L1804.1 609.4L1803.6 606.4L1799.9 604.0L1794.9 602.0L1790.0 599.8L1789.0 596.6L1786.3 594.1L1782.6 589.7L1780.1 592.9L1775.2 594.6L1770.3 592.9L1769.5 589.2L1766.6 587.7L1760.4 585.5L1750.5 584.2L1749.3 587.9L1750.5 592.9L1752.5 597.8L1751.8 601.5L1747.1 605.2L1745.6 610.1L1743.1 611.8L1739.4 608.9L1738.7 606.4L1739.0 602.5L1732.1 602.0L1724.7 599.0L1718.5 597.3L1713.6 597.8L1709.9 593.6L1708.6 590.4L1711.1 586.7L1717.3 584.2L1719.7 581.0L1724.7 580.0L1727.1 577.6L1729.6 575.6L1732.1 574.4L1734.5 571.9L1738.2 570.7L1740.7 568.2L1738.2 566.5L1732.1 566.2L1729.6 569.4L1724.7 570.2L1721.0 568.2L1718.5 569.4L1716.0 565.7L1713.6 562.0L1708.6 560.8L1706.2 563.3L1703.7 567.0L1700.0 570.7L1690.1 571.2L1680.3 569.7L1674.1 570.2L1670.4 570.7L1663.0 571.2L1658.1 571.2L1660.5 568.7L1653.1 568.2L1645.7 567.2L1638.3 567.0L1634.6 565.7L1630.9 567.0L1626.0 564.5L1621.1 565.7L1613.7 566.7L1608.8 567.5L1602.6 568.2L1594.0 566.7L1586.6 565.5L1579.2 565.0L1571.8 564.5L1564.4 563.5L1555.7 562.5L1549.6 563.8L1542.2 565.0L1537.2 566.2L1531.8 568.4L1537.2 570.7L1539.7 573.1L1536.0 574.1L1532.3 575.1L1527.1 576.6M1732.3 684.3L1737.0 681.9L1741.9 681.1L1745.6 682.4L1750.5 684.6L1755.2 686.3L1758.7 688.3L1755.5 689.3L1750.1 689.3L1751.0 687.3L1748.1 685.1L1743.1 684.1L1739.9 683.6L1737.5 682.6L1734.5 684.3L1732.3 684.3M1757.9 693.0L1762.1 689.3L1769.0 689.8L1773.0 692.5L1770.3 693.5L1765.6 694.9L1762.9 693.5L1757.9 693.0M1748.3 693.0L1753.5 693.5L1752.3 694.2L1749.3 693.5L1748.3 693.0M1775.9 692.7L1779.9 693.0L1779.4 694.0L1775.9 694.0L1775.9 692.7M1795.2 621.0L1803.6 615.3L1804.8 611.1L1809.7 617.0L1811.5 621.0L1809.2 623.2L1804.8 622.4L1802.3 621.0L1795.2 621.0M1625.0 613.1L1628.5 613.6L1633.4 615.0L1637.6 619.0L1633.9 618.5L1629.7 616.3L1625.0 613.1M1560.4 595.6L1566.3 594.8L1565.6 597.0L1561.4 598.8L1560.4 595.6M1834.4 590.9L1829.5 589.2L1823.3 586.7L1817.1 581.8L1813.4 578.1L1809.7 574.4L1811.0 570.7L1815.9 568.2L1809.7 565.7L1813.4 563.3L1806.0 559.6L1801.1 554.6L1796.2 551.4L1783.8 550.4L1772.7 549.7L1761.6 546.0L1764.1 543.5L1781.4 539.8L1793.7 536.1L1818.4 534.9L1843.0 532.4L1867.7 532.4L1892.3 536.1L1904.7 538.6L1897.3 542.3L1893.6 548.5L1896.0 553.4L1889.9 558.3L1883.7 564.5L1887.4 565.7L1880.0 569.4L1865.2 570.7L1856.6 575.6L1848.0 576.6L1843.0 578.1L1840.6 581.8L1836.9 586.7L1834.4 590.9M1781.4 585.7L1774.0 584.2L1765.3 581.8L1760.4 579.3L1750.5 579.3L1749.3 576.8L1759.2 573.6L1761.6 570.7L1754.2 567.0L1746.8 565.7L1737.0 565.7L1727.1 564.5L1721.0 562.0L1724.7 557.1L1732.1 557.1L1744.4 557.1L1751.8 559.6L1761.6 562.0L1769.0 564.5L1774.0 565.7L1776.4 568.2L1783.8 571.9L1788.8 573.6L1785.1 576.8L1781.4 579.3L1782.6 581.8L1781.4 585.7M1648.2 562.0L1651.9 558.8L1663.0 558.3L1677.8 557.1L1684.0 558.3L1690.1 565.7L1682.7 568.2L1670.4 569.2L1660.5 567.5L1650.7 565.7L1648.2 562.0M1632.2 561.0L1635.9 557.1L1644.5 555.1L1655.6 557.6L1648.2 561.3L1638.3 563.3L1632.2 561.0M1728.4 580.5L1734.5 576.1L1740.7 579.3L1737.0 581.0L1728.4 580.5M1706.2 560.3L1711.1 555.9L1718.5 556.4L1712.3 560.3L1706.2 560.3M1692.6 562.0L1688.9 558.8L1697.5 556.1L1702.5 558.3L1700.0 561.3L1692.6 562.0M1716.0 554.1L1732.1 554.6L1743.1 554.4L1744.4 550.4L1722.2 549.7L1714.8 551.4L1716.0 554.1M1721.0 549.7L1737.0 550.4L1749.3 549.7L1756.7 544.8L1764.1 542.3L1774.0 539.8L1788.8 536.1L1781.4 534.2L1756.7 533.4L1732.1 534.9L1717.3 537.4L1712.3 539.8L1714.8 542.3L1722.2 544.8L1721.0 549.7M1653.1 553.4L1670.4 554.6L1681.5 552.2L1675.3 549.7L1660.5 549.7L1653.1 553.4M1693.8 553.9L1701.2 553.4L1702.5 549.7L1692.6 550.9L1693.8 553.9M1640.8 549.7L1653.1 550.4L1655.6 547.2L1643.3 548.5L1640.8 549.7M1081.0 544.8L1090.9 548.5L1095.8 549.5L1099.5 547.2L1108.2 545.5L1120.5 543.5L1103.2 540.3L1083.5 541.6L1081.0 544.8M1182.1 562.5L1189.5 559.6L1196.9 554.6L1206.8 551.4L1224.1 548.5L1216.7 550.4L1204.3 553.4L1195.7 557.1L1192.0 560.1L1190.8 563.3L1182.1 562.5M1393.0 554.6L1404.1 556.4L1407.8 557.1L1413.9 553.4L1401.6 550.9L1394.2 552.2L1393.0 554.6M1418.9 553.4L1425.0 552.9L1421.3 551.9L1418.9 553.4M1494.3 563.3L1499.0 562.0L1502.7 562.8L1497.8 563.8L1494.3 563.3M1288.2 544.8L1300.5 546.0L1312.8 544.8L1310.4 542.3L1293.1 541.1L1288.2 544.8M1169.8 541.1L1189.5 541.1L1201.9 539.8L1189.5 538.1L1169.8 541.1M166.1 914.2L186.1 910.2L194.0 913.4L200.4 910.2L220.9 911.0L222.4 913.4L244.6 910.2L251.0 907.0L261.8 910.2L291.9 903.1L301.3 899.9L307.7 901.6L317.1 905.5L336.0 905.5L337.8 909.5L334.6 913.4L337.8 916.6L340.7 915.7L348.6 911.0L358.2 909.5L370.8 903.8L383.4 902.3L402.4 904.8L418.2 900.9L430.7 903.8L446.5 900.9L460.8 903.8L468.7 902.3L500.0 899.9L503.2 903.1L525.2 903.1L531.6 906.3L555.3 909.5L567.9 913.4L586.8 914.2L588.3 916.6L577.5 920.6L571.1 926.0L577.5 931.4L567.9 933.2L561.7 937.8L571.1 941.8L594.7 945.7L634.2 945.0L665.8 948.9L681.5 948.2L702.0 947.2L680.1 947.2L676.8 939.3L670.4 937.8L692.6 936.4L669.0 931.4L665.0 928.5L684.7 929.2L695.8 924.5L721.0 921.3L744.7 919.6L763.7 919.6L775.2 921.3L783.1 922.8L798.9 922.1L817.9 918.9L835.2 918.1L854.2 919.6L869.9 920.6L888.7 914.9L890.4 903.1L901.5 896.9L914.1 894.4L895.1 903.1L901.5 909.5L906.2 918.9L898.3 923.5L871.4 927.5L865.3 930.0L862.0 933.2L871.4 937.1L893.6 937.8L912.6 943.3L925.2 940.3L948.8 939.3L985.1 936.4L967.8 932.4L980.4 930.0L1004.1 925.3L1019.9 918.9L1035.7 913.4L1053.9 913.7M1053.9 914.2L1073.9 910.2L1081.8 913.4L1088.2 910.2L1108.6 911.0L1110.1 913.4L1132.3 910.2L1138.7 907.0L1149.6 910.2L1179.7 903.1L1189.0 899.9L1195.4 901.6L1204.8 905.5L1223.8 905.5L1225.5 909.5L1222.3 913.4L1225.5 916.6L1228.5 915.7L1236.4 911.0L1246.0 909.5L1258.6 903.8L1271.2 902.3L1290.1 904.8L1305.9 900.9L1318.5 903.8L1334.3 900.9L1348.6 903.8L1356.5 902.3L1387.8 899.9L1391.0 903.1L1412.9 903.1L1419.4 906.3L1443.0 909.5L1455.6 913.4L1474.6 914.2L1476.1 916.6L1465.2 920.6L1458.8 926.0L1465.2 931.4L1455.6 933.2L1449.4 937.8L1458.8 941.8L1482.5 945.7L1521.9 945.0L1553.5 948.9L1569.3 948.2L1589.8 947.2L1567.8 947.2L1564.6 939.3L1558.2 937.8L1580.4 936.4L1556.7 931.4L1552.8 928.5L1572.5 929.2L1583.6 924.5L1608.8 921.3L1632.4 919.6L1651.4 919.6L1663.0 921.3L1670.9 922.8L1686.7 922.1L1705.7 918.9L1722.9 918.1L1741.9 919.6L1757.7 920.6L1776.4 914.9L1778.2 903.1L1789.3 896.9L1801.8 894.4L1782.8 903.1L1789.3 909.5L1793.9 918.9L1786.1 923.5L1759.2 927.5L1753.0 930.0L1749.8 933.2L1759.2 937.1L1781.4 937.8L1800.4 943.3L1812.9 940.3L1836.6 939.3L1872.9 936.4L1855.6 932.4L1868.2 930.0L1891.8 925.3L1907.6 918.9L1923.4 913.4L1941.7 913.7M1941.7 914.2L1961.6 910.2L1969.5 913.4L1975.9 910.2L1996.4 911.0L1997.9 913.4L2020.1 910.2L2026.5 907.0L2037.3 910.2L2067.4 903.1L2076.8 899.9L2083.2 901.6L2092.6 905.5L2111.6 905.5L2113.3 909.5L2110.1 913.4L2113.3 916.6L2116.3 915.7L2124.1 911.0L2133.8 909.5L2146.3 903.8L2158.9 902.3L2177.9 904.8L2193.7 900.9L2206.3 903.8L2222.0 900.9L2236.3 903.8L2244.2 902.3L2275.6 899.9L2278.8 903.1L2300.7 903.1L2307.1 906.3L2330.8 909.5L2343.4 913.4L2362.4 914.2L2363.8 916.6L2353.0 920.6L2346.6 926.0L2353.0 931.4L2343.4 933.2L2337.2 937.8L2346.6 941.8L2370.3 945.7L2409.7 945.0L2441.3 948.9L2457.1 948.2L2477.5 947.2L2455.6 947.2L2452.4 939.3L2446.0 937.8L2468.2 936.4L2444.5 931.4L2440.5 928.5L2460.3 929.2L2471.4 924.5L2496.5 921.3L2520.2 919.6L2539.2 919.6L2550.8 921.3L2558.7 922.8L2574.4 922.1L2593.4 918.9L2610.7 918.1L2629.7 919.6L2645.5 920.6L2664.2 914.9L2665.9 903.1L2677.0 896.9L2689.6 894.4L2670.6 903.1L2677.0 909.5L2681.7 918.9L2673.8 923.5L2646.9 927.5L2640.8 930.0L2637.6 933.2L2646.9 937.1L2669.1 937.8L2688.1 943.3L2700.7 940.3L2724.4 939.3L2760.6 936.4L2743.4 932.4L2755.9 930.0L2779.6 925.3L2795.4 918.9L2811.2 913.4L2829.4 913.7M1539.7 931.4L1548.8 932.2L1544.6 933.9L1539.7 931.4M1691.4 915.9L1705.7 916.4L1700.0 917.9L1691.4 916.6L1691.4 915.9M1764.1 909.7L1770.3 912.2L1766.6 915.9L1760.4 914.7L1764.1 909.7M1813.4 936.9L1825.8 934.4L1835.6 936.4L1823.3 938.6L1813.4 936.9M1707.4 544.8L1717.3 545.5L1724.7 541.1L1716.0 538.1L1707.4 539.8L1707.4 544.8M1697.5 568.7L1704.9 569.9L1706.2 567.0L1700.0 566.0L1697.5 568.7M1744.4 558.3L1753.0 559.1L1751.8 556.4L1744.4 556.9L1744.4 558.3M1703.7 553.9L1711.1 554.4L1711.1 551.4L1703.7 551.9L1703.7 553.9M1735.7 584.2L1741.9 584.7L1739.4 583.0L1735.7 584.2M1518.0 581.0L1524.9 582.3L1521.2 583.0L1518.0 581.0M1529.8 589.9L1533.5 590.4L1531.8 590.9L1529.8 589.9M1685.2 546.0L1695.1 545.5L1693.8 543.8L1686.4 544.0L1685.2 546.0M1701.2 546.2L1706.2 545.8L1703.7 544.3L1700.0 544.8L1701.2 546.2M1665.5 547.7L1675.3 546.7L1670.4 545.8L1663.0 546.5L1665.5 547.7M1667.9 545.5L1682.7 545.3L1680.3 544.0L1667.9 544.5L1667.9 545.5M1695.1 541.6L1698.8 541.3L1696.3 540.6L1695.1 541.6M1682.7 553.4L1685.2 552.9L1684.0 552.2L1682.7 553.4M1680.3 548.0L1685.2 547.7L1682.7 547.0L1680.3 548.0M1743.1 585.7L1745.6 586.4L1744.4 584.7L1743.1 585.7M1748.1 582.5L1751.3 582.3L1749.8 581.5L1748.1 582.5M1690.1 550.9L1696.3 550.4L1693.8 549.5L1690.1 550.9" fill="none" stroke="#000" stroke-width="2.2" stroke-linejoin="round"/>
</g>
<rect x="1053.9" y="516.4" width="887.8" height="443.9" fill="none" stroke="#111" stroke-width="1.6"/>
<path d="M79.9 45H88.4M79.9 118.3H88.4M79.9 191.6H88.4M79.9 264.9H88.4M79.9 338.2H88.4M79.9 411.5H88.4M79.9 -28.3H88.4M80 592.3H88.5M80 665.5H88.5M80 738.8H88.5M80 812H88.5M80 885.2H88.5M80 958.4H88.5M80 519.1H88.5M88.5 958.4V966.9M235 958.4V966.9M381.4 958.4V966.9M527.9 958.4V966.9M674.3 958.4V966.9M820.8 958.4V966.9M1053.9 960.3V968.8M1201.9 960.3V968.8M1349.8 960.3V968.8M1497.8 960.3V968.8M1645.7 960.3V968.8M1793.7 960.3V968.8" stroke="#111" stroke-width="1.5" fill="none"/>
<text x="71.5" y="54.9" text-anchor="end">60°N</text>
<text x="71.5" y="128.2" text-anchor="end">30°N</text>
<text x="71.5" y="201.5" text-anchor="end">0°</text>
<text x="71.5" y="274.8" text-anchor="end">30°S</text>
<text x="71.5" y="348.1" text-anchor="end">60°S</text>
<text x="71.5" y="421.4" text-anchor="end">90°S</text>
<text x="71.5" y="-18.4" text-anchor="end">90°N</text>
<text x="71.6" y="602.2" text-anchor="end">60°N</text>
<text x="71.6" y="675.4" text-anchor="end">30°N</text>
<text x="71.6" y="748.6" text-anchor="end">0°</text>
<text x="71.6" y="821.9" text-anchor="end">30°S</text>
<text x="71.6" y="895.1" text-anchor="end">60°S</text>
<text x="71.6" y="968.3" text-anchor="end">90°S</text>
<text x="71.6" y="529" text-anchor="end">90°N</text>
<text x="88.5" y="994.6" text-anchor="middle">0°</text>
<text x="235" y="994.6" text-anchor="middle">60°E</text>
<text x="381.4" y="994.6" text-anchor="middle">120°E</text>
<text x="527.9" y="994.6" text-anchor="middle">180°</text>
<text x="674.3" y="994.6" text-anchor="middle">120°W</text>
<text x="820.8" y="994.6" text-anchor="middle">60°W</text>
<text x="527.9" y="1028.4" text-anchor="middle">Longitude</text>
<text x="1053.9" y="996.5" text-anchor="middle">0°</text>
<text x="1201.9" y="996.5" text-anchor="middle">60°E</text>
<text x="1349.8" y="996.5" text-anchor="middle">120°E</text>
<text x="1497.8" y="996.5" text-anchor="middle">180°</text>
<text x="1645.7" y="996.5" text-anchor="middle">120°W</text>
<text x="1793.7" y="996.5" text-anchor="middle">60°W</text>
<text x="1497.8" y="1030.3" text-anchor="middle">Longitude</text>
<linearGradient id="cbg" x1="0" y1="0" x2="1" y2="0"><stop offset="0.00" stop-color="rgb(84,48,5)"/><stop offset="0.10" stop-color="rgb(140,81,10)"/><stop offset="0.20" stop-color="rgb(191,129,45)"/><stop offset="0.30" stop-color="rgb(223,194,125)"/><stop offset="0.40" stop-color="rgb(246,232,195)"/><stop offset="0.50" stop-color="rgb(245,245,245)"/><stop offset="0.60" stop-color="rgb(199,234,229)"/><stop offset="0.70" stop-color="rgb(128,205,193)"/><stop offset="0.80" stop-color="rgb(53,151,143)"/><stop offset="0.90" stop-color="rgb(1,102,94)"/><stop offset="1.00" stop-color="rgb(0,60,48)"/></linearGradient><rect x="560.3" y="1060" width="902.6" height="10.1" fill="url(#cbg)" stroke="#222" stroke-width="1.4"/><path d="M560.3 1070.1V1078.6M673.1 1070.1V1078.6M786 1070.1V1078.6M898.8 1070.1V1078.6M1011.6 1070.1V1078.6M1124.4 1070.1V1078.6M1237.2 1070.1V1078.6M1350.1 1070.1V1078.6M1462.9 1070.1V1078.6" stroke="#333" stroke-width="1.4" fill="none"/>
<g fill="none" stroke="#f20000" stroke-width="4.6"><rect x="132.5" y="235.2" width="36.5" height="24.8"/><rect x="333.4" y="179.25" width="73.3" height="36.85"/><rect x="675.5" y="106.45" width="73.5" height="11.45"/></g>
<text x="528.3" y="503.6" text-anchor="middle" font-size="29.2">(c) GenCast-Forced</text>
<text x="1497.5" y="502.7" text-anchor="middle" font-size="29.2">(d) SEAS5</text>
</g></svg></div></body></html>
